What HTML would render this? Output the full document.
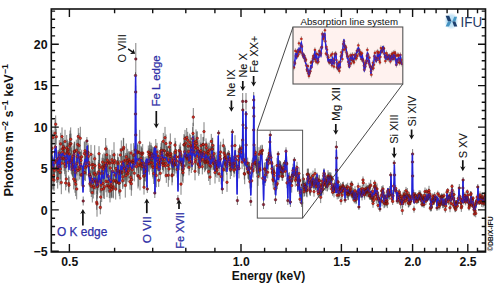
<!DOCTYPE html>
<html><head><meta charset="utf-8"><style>
html,body{margin:0;padding:0;background:#fff;}
svg{display:block;}
.b{font-family:"Liberation Sans",sans-serif;font-weight:bold;fill:#111;}
.r{font-family:"Liberation Sans",sans-serif;}
</style></head><body>
<svg width="500" height="286" viewBox="0 0 500 286">
<defs><clipPath id="plotclip"><rect x="51.3" y="9.0" width="434.2" height="243.0"/></clipPath></defs>
<rect width="500" height="286" fill="#fff"/>
<g clip-path="url(#plotclip)">
<path d="M49.7 161.3V166.9M50.0 144.8V168.3M50.3 164.5V190.2M50.7 163.4V188.1M51.0 154.0V174.4M51.3 148.8V169.7M51.7 140.4V164.5M52.0 134.4V162.1M52.3 154.4V179.9M52.7 169.6V189.5M53.0 130.2V145.1M53.3 157.6V179.8M53.7 161.6V189.5M54.0 169.2V191.0M54.3 159.5V181.6M54.7 150.4V175.0M55.0 120.1V146.3M55.3 136.2V158.0M55.7 115.5V132.8M56.0 148.9V173.0M56.3 128.7V144.7M56.7 154.5V182.9M57.0 150.5V168.7M57.3 157.4V177.4M57.7 168.3V188.6M58.0 158.1V182.3M58.3 149.9V167.3M58.7 153.1V178.0M59.0 157.1V174.5M59.3 140.1V165.8M59.7 148.8V164.9M60.0 159.9V185.2M60.3 158.4V179.3M60.7 132.8V155.0M61.0 148.6V167.9M61.3 170.9V194.2M61.7 152.8V173.7M62.0 127.4V145.8M62.3 135.9V162.0M62.7 142.3V161.6M63.0 148.3V167.9M63.3 138.0V155.8M63.7 141.4V155.6M64.0 146.6V171.1M64.3 144.8V163.3M64.7 153.2V174.2M65.0 129.8V153.3M65.3 156.7V176.0M65.7 175.5V190.4M66.0 145.5V171.4M66.3 170.9V187.0M66.7 135.0V160.9M67.0 145.6V159.9M67.3 139.6V167.2M67.7 143.1V158.7M68.0 141.3V157.5M68.3 153.0V172.1M68.7 175.5V191.8M69.0 177.0V193.4M69.3 140.7V167.4M69.7 133.9V157.4M70.0 130.5V157.2M70.3 153.9V170.8M70.7 127.4V151.3M71.0 133.6V153.9M71.3 147.4V173.9M71.7 150.4V167.8M72.0 159.1V175.1M72.3 155.6V176.2M72.7 161.4V177.4M73.0 145.6V167.2M73.3 151.4V177.6M73.7 168.8V189.4M74.0 143.5V165.5M74.3 141.6V160.9M74.7 141.9V161.8M75.0 169.9V192.8M75.3 161.1V184.1M75.7 172.5V196.1M76.0 155.4V182.5M76.3 139.6V160.8M76.7 178.6V199.4M77.0 151.4V175.5M77.3 145.4V168.1M77.7 135.0V154.1M78.0 160.1V180.7M78.3 128.1V145.0M78.7 142.9V163.0M79.0 132.9V158.4M79.3 157.9V175.9M79.7 158.5V179.5M80.0 149.1V166.9M80.3 126.8V149.8M80.7 152.0V177.0M81.0 151.4V169.5M81.3 163.7V185.8M81.7 149.7V164.2M82.2 165.7V184.2M83.2 181.6V190.4M83.2 196.5V205.5M83.8 163.1V181.7M84.3 141.5V165.5M84.7 165.5V180.1M85.0 141.8V159.8M85.3 154.4V181.0M85.7 152.0V174.3M86.0 141.6V168.1M86.4 157.1V175.5M86.9 137.0V145.0M87.2 145.6V158.4M88.0 143.3V161.7M88.3 145.2V167.5M88.7 150.9V174.4M89.0 154.5V176.6M89.3 163.4V186.4M89.7 164.3V184.4M90.0 175.7V192.0M90.3 169.3V183.6M90.7 170.7V193.5M91.0 144.9V163.8M91.3 175.5V197.0M91.7 156.2V173.5M92.0 170.3V188.5M92.3 182.8V202.5M92.7 160.8V175.3M93.0 153.8V175.3M93.3 173.6V198.5M93.7 170.1V191.8M94.0 180.8V194.7M94.3 163.5V182.6M94.7 145.2V172.4M95.0 155.5V175.8M95.3 163.5V186.0M95.7 173.0V189.6M96.0 173.3V187.1M96.3 171.4V194.5M96.7 194.9V209.8M97.0 191.1V216.7M97.3 174.9V198.5M97.7 177.6V194.6M98.0 176.1V190.5M98.3 161.7V186.0M98.7 160.0V183.7M99.0 146.2V161.1M99.3 154.9V174.8M99.7 154.3V180.7M100.0 169.3V192.7M100.3 200.5V214.3M100.7 184.7V209.5M101.0 177.7V192.5M101.3 165.5V181.4M101.7 176.7V202.0M102.0 157.7V176.4M102.3 162.5V184.0M102.7 154.3V169.9M103.0 171.2V195.7M103.3 158.1V180.3M103.7 179.2V198.4M104.0 152.7V179.1M104.3 174.8V199.0M104.7 158.7V173.1M105.0 153.9V180.7M105.3 154.0V172.1M105.7 138.0V159.8M106.0 170.6V192.3M106.3 156.8V174.5M106.7 145.5V164.1M107.0 174.3V197.2M107.3 147.8V172.3M107.7 154.6V172.0M108.0 172.1V191.4M108.3 165.6V187.1M108.7 179.0V193.1M109.0 149.6V174.4M109.3 176.8V198.1M109.7 154.6V171.8M110.0 179.7V202.4M110.3 155.1V180.9M110.7 169.6V190.5M111.0 174.1V198.3M111.3 170.6V196.7M111.7 181.3V197.9M112.0 149.9V169.7M112.3 154.4V170.7M112.7 159.2V183.3M113.0 177.9V197.5M113.3 174.6V198.4M113.7 172.6V189.2M114.0 142.2V167.5M114.3 152.8V173.3M114.7 152.7V168.7M115.0 167.0V183.0M115.3 171.6V189.9M115.7 178.6V199.6M116.0 160.9V176.3M116.3 174.8V188.8M116.7 174.8V189.6M117.0 160.1V181.9M117.3 159.9V181.2M117.7 153.3V171.3M118.0 156.9V170.7M118.3 157.4V184.0M118.7 172.7V193.6M119.0 165.2V182.1M119.3 170.1V196.1M119.7 160.1V183.7M120.0 182.6V199.3M120.3 148.1V161.9M120.7 165.4V179.9M121.0 164.2V178.2M121.3 140.4V159.9M121.7 149.1V175.0M122.0 161.9V183.2M122.3 156.0V174.6M122.7 172.4V189.1M123.0 166.5V187.3M123.3 137.8V160.0M123.7 138.1V156.7M124.0 148.2V174.3M124.3 155.4V181.8M124.7 159.8V176.5M125.0 161.9V179.9M125.3 173.3V197.6M125.7 153.1V167.0M126.0 164.6V186.4M126.3 143.5V169.9M126.7 161.0V184.3M127.0 154.7V180.4M127.3 152.7V173.7M127.7 148.8V172.1M128.0 165.5V182.1M128.3 163.6V178.4M128.7 151.4V167.7M129.0 156.4V171.5M129.3 151.1V173.7M129.7 153.5V169.3M130.0 173.6V189.7M130.3 155.4V180.9M130.7 169.8V184.8M131.0 143.6V162.6M131.3 171.6V195.8M131.7 169.1V190.4M132.0 150.0V173.8M132.3 160.2V179.5M132.7 154.4V170.4M133.0 153.6V167.3M133.3 154.9V169.8M133.7 143.1V167.4M134.0 158.4V173.3M134.3 165.0V181.4M134.8 146.2V163.3M135.3 145.0V155.0M135.5 108.6V119.4M135.5 72.2V78.8M135.7 85.7V98.3M135.8 43.0V75.0M135.8 128.8V141.2M136.4 158.1V175.2M137.0 155.5V170.5M137.3 143.3V162.3M137.7 144.8V159.0M138.0 163.3V188.5M138.3 165.3V186.5M138.7 157.7V173.0M139.0 144.3V160.2M139.3 152.4V167.6M139.7 129.9V155.1M140.0 166.2V190.4M140.3 152.9V176.8M140.7 156.6V169.9M141.0 145.9V170.7M141.3 146.9V159.7M141.7 156.2V170.5M142.0 148.2V160.7M142.3 159.1V173.9M142.7 144.1V162.0M143.0 156.9V176.4M143.3 156.1V170.2M143.7 165.7V186.9M144.0 179.8V194.6M144.3 165.5V185.3M144.7 162.4V180.9M145.0 156.9V176.8M145.3 160.5V181.5M145.7 160.3V175.0M146.2 156.3V172.6M147.3 185.0V193.0M147.8 155.9V172.2M148.3 145.5V158.4M148.7 150.8V171.6M149.0 148.3V161.0M149.3 152.5V174.7M149.7 141.6V164.0M150.0 144.9V167.9M150.3 149.1V166.8M150.7 155.2V169.4M151.0 142.8V164.8M151.3 145.3V161.7M151.7 148.9V168.1M152.0 154.2V171.6M152.3 146.5V164.7M152.7 155.1V176.9M153.0 156.2V178.6M153.3 147.1V163.7M153.7 163.0V184.0M154.2 147.7V163.7M154.8 188.0V198.0M155.8 139.0V155.0M156.3 163.8V187.3M156.7 158.2V176.1M157.0 142.9V161.3M157.3 153.2V165.4M157.7 156.9V171.1M158.0 149.4V162.6M158.3 155.4V167.8M158.7 173.8V186.9M159.0 162.9V175.1M159.3 155.1V174.3M159.7 150.0V170.4M160.0 156.5V169.7M160.3 167.0V179.6M160.7 146.8V160.2M161.0 143.2V158.5M161.3 150.6V164.1M161.7 141.0V160.1M162.0 142.2V164.5M162.3 148.6V169.6M162.7 156.1V170.0M163.0 157.0V173.7M163.3 132.9V150.0M163.7 154.6V171.4M164.0 138.8V162.1M164.3 151.9V166.8M164.7 143.0V159.0M165.0 126.9V148.5M165.3 154.5V177.5M165.7 157.0V169.6M166.0 134.5V152.7M166.3 167.9V182.9M166.7 145.8V162.8M167.0 145.7V164.1M167.3 148.7V161.5M167.7 146.7V159.0M168.0 158.6V172.3M168.3 163.6V186.8M168.7 150.4V170.0M169.0 157.6V180.2M169.3 140.8V153.2M169.7 146.5V166.6M170.0 146.6V161.9M170.3 133.4V152.9M170.7 148.8V163.8M171.0 142.1V165.5M171.3 154.2V169.7M171.7 153.7V167.2M172.0 166.1V185.3M172.3 167.2V182.4M172.7 155.3V172.9M173.0 156.3V169.8M173.3 156.3V169.8M173.7 150.9V166.3M174.0 157.4V172.4M174.3 153.7V175.8M174.7 151.2V170.5M175.0 137.9V152.3M175.3 142.5V163.0M175.7 141.0V160.3M176.0 155.9V173.5M176.3 149.6V164.2M176.7 151.8V169.9M177.2 161.5V177.5M177.9 195.0V203.0M178.8 149.0V165.0M179.3 144.6V156.7M179.7 153.9V170.1M180.0 146.8V165.5M180.3 142.6V160.5M180.7 146.5V162.0M181.0 173.5V194.8M181.3 151.4V173.8M181.7 153.5V170.7M182.0 156.7V174.0M182.3 154.5V175.3M182.7 158.0V181.6M183.0 162.2V183.1M183.3 160.5V176.7M183.7 155.9V176.0M184.0 134.0V155.9M184.3 135.4V153.6M184.7 141.2V162.3M185.0 129.9V147.6M185.3 143.9V166.9M185.7 136.4V149.9M186.0 146.3V167.5M186.3 146.5V165.6M186.7 128.0V146.9M187.0 148.5V165.5M187.3 149.4V168.7M187.7 131.8V148.3M188.0 135.7V156.4M188.3 151.1V166.6M188.7 143.2V159.8M189.0 159.4V175.3M189.3 153.2V171.2M189.7 133.6V150.9M190.0 149.6V163.3M190.3 147.9V166.8M190.7 134.9V158.0M191.0 137.4V153.3M191.3 149.5V173.0M191.7 140.8V155.2M192.0 145.6V157.7M192.3 157.5V170.0M192.7 127.1V150.2M193.0 122.8V144.0M193.3 108.0V126.2M193.7 133.5V151.7M194.0 144.0V160.3M194.3 139.3V158.4M194.7 135.4V155.5M195.0 162.0V180.3M195.3 153.5V170.3M195.7 150.2V169.0M196.0 129.4V153.0M196.3 138.2V156.1M196.7 131.6V155.5M197.0 148.1V164.2M197.3 131.3V145.4M197.7 140.6V156.4M198.0 155.0V173.1M198.3 144.6V158.0M198.7 153.9V175.8M199.0 139.9V163.8M199.3 160.2V174.1M199.7 151.0V166.5M200.0 150.4V164.6M200.3 154.1V168.3M200.7 142.5V158.7M201.0 133.9V157.8M201.3 144.8V161.7M201.7 143.8V165.3M202.0 147.8V159.8M202.3 158.7V174.4M202.7 149.6V169.6M203.0 137.2V151.6M203.3 136.9V152.1M203.7 145.2V165.0M204.0 122.2V141.1M204.3 144.0V160.9M204.7 151.0V172.2M205.0 156.0V169.3M205.3 152.5V170.8M205.7 148.1V170.0M206.0 138.4V151.1M206.3 141.6V153.8M206.7 148.4V169.0M207.0 144.9V161.2M207.3 154.9V168.1M207.7 151.6V174.4M208.0 142.7V160.1M208.3 145.5V162.1M208.7 162.1V181.0M209.0 150.4V174.0M209.3 142.5V157.5M209.7 159.2V171.8M210.0 169.2V185.0M210.3 146.5V169.3M210.7 156.6V175.9M211.0 146.1V169.7M211.3 133.9V148.8M211.7 146.9V163.5M212.0 141.4V157.1M212.3 137.9V160.4M212.7 137.8V152.7M213.0 156.2V170.3M213.3 145.6V169.3M213.7 154.6V170.1M214.0 144.6V163.0M214.3 152.1V168.7M214.7 157.5V170.9M215.0 161.6V183.5M215.3 157.5V171.8M215.7 161.4V176.8M216.0 151.7V171.7M216.3 155.2V171.3M216.7 160.8V173.9M217.0 162.6V177.9M217.5 159.2V175.2M218.6 130.0V136.0M219.1 165.9V181.9M219.7 151.9V169.2M220.0 144.8V166.8M220.3 150.8V167.0M220.7 141.7V162.3M221.2 168.5V184.4M222.3 184.0V194.0M222.8 161.0V176.8M223.3 138.7V152.9M223.7 158.4V181.4M224.0 144.5V161.6M224.3 151.9V165.1M224.7 146.9V169.1M225.0 145.9V164.5M225.3 147.8V166.6M225.7 157.5V171.6M226.0 154.8V172.4M226.3 153.4V171.3M226.7 158.6V174.7M227.0 172.7V191.9M227.4 151.8V167.1M228.4 150.0V158.0M229.0 153.7V169.0M229.3 151.0V166.9M229.7 153.1V165.5M230.0 156.9V172.0M230.3 160.1V179.0M230.7 157.0V172.5M231.0 154.9V172.0M231.4 161.0V176.0M232.1 140.6V151.4M232.4 129.0V135.0M233.0 156.5V171.5M233.3 156.1V170.8M233.7 159.1V172.8M234.0 163.0V177.3M234.3 157.9V173.6M234.7 152.6V173.6M235.0 135.2V155.9M235.3 150.6V162.0M235.7 149.9V168.5M236.3 161.7V176.4M237.4 196.2V205.0M237.9 159.3V173.9M238.3 148.6V164.0M238.7 151.1V169.1M239.0 158.3V178.4M239.5 144.5V158.8M240.0 146.0V152.0M241.1 145.1V159.5M241.7 140.8V155.3M242.1 155.0V169.2M242.6 135.9V144.1M242.7 93.0V109.8M242.8 103.6V116.4M243.0 120.8V129.2M243.7 152.4V166.6M244.3 167.7V179.5M244.7 164.1V184.2M245.1 153.6V167.5M246.0 93.0V109.8M246.0 124.8V131.2M246.1 110.5V117.5M246.1 141.3V148.7M246.7 156.6V170.6M247.3 163.3V174.1M247.7 157.7V168.5M248.0 165.3V178.7M248.3 164.7V178.9M248.7 163.4V180.2M249.0 161.9V174.0M249.3 164.3V181.9M249.7 162.1V174.9M250.0 175.0V188.6M250.8 196.8V206.0M251.6 174.1V187.6M252.0 159.7V173.3M252.3 163.9V174.0M252.7 157.7V170.6M253.0 164.3V177.6M253.6 101.2V114.4M253.7 92.0V108.0M253.7 125.0V135.0M253.9 109.6V122.8M254.1 140.0V150.0M254.6 156.6V169.9M255.0 149.5V159.9M255.3 157.1V167.4M255.7 146.4V158.7M256.0 154.5V166.4M256.3 154.9V173.7M256.7 156.2V172.8M257.0 160.7V174.3M257.3 164.0V176.5M257.7 158.7V169.3M258.0 167.2V185.9M258.3 159.4V175.8M258.7 156.8V172.6M259.0 147.2V161.2M259.3 162.7V176.4M259.7 160.8V175.4M260.0 161.7V178.6M260.4 145.4V158.1M261.5 151.0V157.0M262.0 144.7V157.4M262.3 145.3V155.2M262.8 172.1V184.6M263.5 200.2V209.0M264.4 162.7V175.2M265.0 174.3V186.0M265.3 162.1V176.4M265.7 167.9V182.2M266.1 165.6V177.9M267.0 157.0V163.0M267.7 166.1V178.4M268.0 154.7V166.1M268.3 157.0V169.8M268.7 154.5V165.4M269.0 148.8V164.2M269.3 147.4V159.4M269.8 151.3V158.7M269.9 136.9V147.1M270.3 131.0V139.0M270.9 151.5V163.5M271.3 154.9V169.8M271.7 156.7V170.1M272.0 162.3V175.2M272.3 166.9V178.4M272.7 163.2V179.8M273.0 173.5V185.3M273.3 172.6V188.6M273.7 166.1V176.4M274.0 168.5V183.1M274.3 165.4V180.9M274.9 183.0V194.6M275.5 195.6V204.0M276.5 179.0V190.5M277.0 157.8V173.5M277.3 177.9V189.2M278.2 151.0V157.0M278.9 170.5V181.8M279.3 160.0V171.5M279.7 161.1V171.3M280.0 162.7V172.8M280.3 160.9V175.2M280.7 161.7V172.7M281.0 165.3V177.6M281.3 164.7V173.6M281.7 167.8V176.2M282.0 171.6V180.6M282.3 163.4V177.6M282.7 171.8V180.9M283.0 165.8V178.0M283.3 163.9V176.5M283.8 162.2V173.1M284.5 160.0V166.0M285.4 165.8V176.7M286.0 147.3V155.4M286.3 156.4V169.5M286.7 156.2V171.6M287.0 177.7V188.2M287.8 196.2V205.0M288.6 172.8V183.3M289.0 176.3V186.1M289.4 172.2V182.6M290.4 197.0V207.0M291.0 175.8V186.2M291.3 176.2V185.0M291.7 178.4V192.6M292.0 172.2V182.2M292.3 168.2V182.3M292.7 167.7V182.5M293.0 163.7V177.6M293.4 169.9V179.9M294.4 157.0V163.0M295.0 168.2V178.3M295.3 173.7V186.7M295.7 167.6V181.2M296.0 173.2V183.0M296.3 165.2V175.3M296.7 166.9V180.4M297.0 161.8V173.4M297.3 170.0V182.0M297.7 177.8V191.7M298.0 177.8V192.0M298.3 176.5V184.9M298.7 175.2V184.7M299.0 167.4V179.6M299.3 176.9V185.4M299.7 176.4V184.2M300.0 195.5V203.0M300.3 186.9V199.2M300.7 186.5V196.0M301.7 199.0V207.0M302.3 180.3V189.8M302.7 181.5V188.7M303.0 181.0V193.8M303.3 174.0V184.1M303.7 179.3V190.1M304.0 186.7V196.8M304.3 178.8V190.6M304.7 183.2V196.1M305.0 183.5V192.6M305.3 181.5V191.7M305.7 182.1V190.5M306.0 185.7V193.3M306.3 179.9V193.8M306.7 183.1V196.5M307.0 183.6V197.3M307.3 168.7V180.0M307.7 172.9V184.6M308.0 168.7V179.9M308.3 168.6V182.1M308.7 177.0V187.3M309.0 172.8V182.1M309.3 173.9V186.9M309.7 182.6V194.2M310.0 185.1V195.1M310.3 186.6V196.0M310.7 181.4V192.3M311.0 172.6V183.4M311.3 178.1V187.7M311.7 175.1V188.1M312.0 175.3V185.9M312.3 179.7V188.2M312.7 179.1V186.6M313.0 170.6V180.7M313.3 175.4V186.0M313.7 181.1V188.7M314.0 186.5V196.7M314.3 178.8V188.4M314.7 177.9V185.2M315.0 168.3V178.8M315.3 178.1V189.7M315.7 176.4V189.8M316.0 177.2V188.8M316.3 181.6V190.9M316.7 177.6V185.4M317.0 172.5V184.3M317.3 175.5V183.1M317.7 182.5V190.7M318.0 186.8V196.0M318.3 189.4V197.5M318.7 181.6V190.2M319.0 174.8V187.3M319.3 175.2V185.9M319.7 182.5V195.2M320.0 178.7V191.0M320.3 188.5V197.3M320.7 191.5V203.1M321.0 188.5V195.9M321.3 182.9V191.9M321.7 184.8V196.0M322.0 177.8V184.6M322.3 181.0V191.1M322.7 178.6V190.4M323.0 183.8V194.7M323.3 179.8V188.0M323.7 169.8V181.7M324.0 168.2V178.4M324.3 170.5V177.7M324.7 171.8V183.4M325.0 178.2V186.6M325.3 179.7V190.6M325.7 174.6V186.6M326.0 178.8V188.7M326.3 175.7V188.2M326.7 177.1V183.6M327.0 181.6V191.2M327.3 179.5V191.4M327.7 176.9V184.4M328.0 170.2V181.8M328.3 172.5V181.9M328.7 173.7V181.0M329.0 177.9V189.7M329.3 172.5V182.6M329.7 177.1V184.8M330.0 172.0V183.9M330.3 173.6V181.0M330.7 174.8V183.4M331.0 172.6V181.3M331.3 179.6V188.0M331.7 184.9V193.2M332.0 183.6V190.0M332.3 175.8V182.3M332.7 188.7V195.8M333.0 186.3V194.2M333.3 183.1V192.4M333.7 183.6V193.0M334.0 185.3V197.4M334.3 182.2V191.8M334.7 179.6V190.5M335.0 182.9V193.0M335.6 184.9V193.0M336.4 141.0V153.0M336.6 164.0V176.0M336.6 151.4V164.6M337.2 191.3V199.4M337.7 176.7V186.6M338.0 176.8V187.7M338.3 183.5V194.8M338.7 191.0V198.9M339.0 186.3V197.0M339.3 187.6V197.4M339.7 184.0V192.1M340.0 184.8V191.2M340.3 186.3V194.4M340.7 182.8V191.7M341.0 196.6V204.8M341.3 186.8V194.9M341.7 188.7V195.5M342.0 190.9V199.6M342.3 184.3V192.9M342.7 182.0V189.0M343.0 183.4V189.8M343.3 181.7V192.0M343.7 185.9V195.1M344.2 185.2V193.1M345.1 197.0V203.0M345.8 184.5V192.4M346.3 184.9V196.2M346.7 183.8V193.2M347.0 188.8V198.1M347.3 186.2V197.9M347.7 182.7V191.1M348.0 189.1V200.1M348.3 188.6V199.8M348.7 189.1V196.6M349.0 188.4V195.2M349.3 189.2V196.7M349.7 187.8V196.0M350.0 187.2V194.2M350.3 182.9V192.5M350.7 185.7V192.7M351.0 187.9V197.2M351.3 180.8V187.1M351.7 190.5V198.3M352.0 181.3V187.9M352.3 187.5V198.4M352.7 190.8V200.4M353.0 190.2V197.9M353.3 188.2V198.3M353.7 189.8V199.5M354.0 192.4V200.2M354.3 197.3V203.3M354.7 191.5V200.9M355.0 186.2V195.4M355.3 194.9V202.2M355.7 191.2V202.3M356.0 195.2V204.2M356.3 194.1V203.4M356.7 190.5V200.4M357.0 189.5V196.1M357.3 191.4V198.0M357.7 188.1V198.5M358.2 182.7V190.3M358.9 204.0V210.0M359.8 188.3V195.9M360.3 189.4V197.5M360.7 185.6V194.4M361.0 188.1V197.6M361.3 187.5V197.4M361.7 190.5V197.6M362.0 190.4V200.4M362.3 184.9V192.4M362.7 189.1V197.3M363.0 176.4V183.6M363.3 179.7V186.1M363.7 188.6V194.3M364.0 184.3V194.3M364.3 190.2V197.9M364.7 189.8V199.7M365.0 188.1V194.3M365.3 189.9V195.9M365.7 186.9V195.4M366.0 183.1V194.0M366.3 185.9V193.5M366.7 186.7V196.4M367.0 186.5V197.3M367.3 184.9V194.9M367.7 186.0V193.0M368.0 187.5V196.6M368.3 185.0V192.5M368.7 187.8V195.2M369.0 182.6V193.2M369.3 192.9V198.8M369.7 190.6V199.7M370.0 183.4V189.3M370.3 191.3V200.0M370.7 179.8V190.6M371.0 191.0V200.0M371.3 190.3V197.3M371.7 193.8V201.7M372.0 192.5V202.3M372.3 193.5V202.6M372.7 187.9V194.6M373.0 199.2V207.8M373.3 192.6V202.9M373.7 196.9V203.9M374.0 192.2V199.2M374.3 183.0V190.3M374.7 179.9V186.2M375.0 183.3V192.5M375.3 181.9V190.5M375.7 183.8V194.1M376.0 191.0V198.4M376.3 194.0V203.7M376.7 187.6V197.8M377.0 183.5V194.4M377.3 189.8V195.9M377.7 190.9V201.7M378.0 202.3V208.5M378.3 193.2V202.7M378.7 194.0V203.1M379.2 196.7V203.9M379.9 206.0V212.0M380.8 196.9V204.1M381.3 192.7V198.6M381.7 186.2V195.5M382.0 196.2V206.3M382.3 190.7V197.3M382.7 186.4V196.0M383.0 185.1V193.1M383.3 189.6V196.2M383.7 193.9V199.3M384.0 197.6V208.2M384.3 194.2V200.2M384.7 199.7V207.6M385.0 194.3V200.6M385.3 194.7V203.7M385.7 197.3V205.2M386.0 200.8V206.7M386.3 191.9V202.0M386.7 198.4V205.5M387.0 195.5V205.5M387.3 199.0V208.1M387.7 188.3V195.0M388.0 187.8V193.4M388.3 190.9V198.3M388.7 190.1V198.3M389.0 190.8V199.7M389.3 190.9V199.6M389.7 186.0V194.8M390.2 190.1V197.1M390.7 172.0V178.0M391.8 195.1V202.1M392.3 190.0V200.3M392.7 197.7V205.0M393.0 192.3V199.2M393.6 182.6V189.5M394.2 160.0V166.0M394.5 169.7V180.3M395.2 186.9V193.8M395.7 184.9V192.1M396.2 187.6V194.4M397.2 198.0V204.0M397.8 193.9V200.8M398.3 196.4V203.5M398.7 189.5V199.8M399.0 194.7V199.9M399.3 188.9V195.3M399.7 190.3V198.5M400.0 195.4V201.5M400.3 199.2V204.8M400.7 198.8V208.6M401.0 193.8V199.1M401.3 197.1V205.4M401.7 196.8V204.7M402.0 198.7V203.7M402.3 206.0V214.9M402.7 199.5V207.6M403.0 191.7V201.8M403.3 194.5V203.3M403.7 198.2V205.1M404.0 191.6V199.3M404.3 190.0V198.1M404.7 192.7V200.9M405.0 192.6V200.4M405.3 195.3V201.7M405.7 196.1V205.6M406.0 186.9V194.6M406.3 192.8V200.2M406.7 191.3V200.9M407.0 193.8V201.4M407.3 188.0V197.0M407.7 192.8V199.0M408.0 195.7V203.0M408.3 199.1V207.3M408.7 198.1V207.4M409.0 192.9V198.1M409.3 191.8V200.8M409.7 200.9V206.4M410.0 197.6V203.1M410.3 198.1V204.8M410.7 197.6V204.8M411.0 194.3V199.7M411.6 195.2V201.8M412.5 157.9V166.1M412.6 149.0V159.0M412.6 171.8V180.2M413.2 191.9V198.4M413.7 189.7V198.0M414.0 205.6V212.7M414.3 192.2V200.8M414.7 198.6V204.2M415.0 194.6V202.0M415.3 192.8V198.8M415.7 192.0V198.7M416.0 195.6V200.5M416.3 195.5V200.6M416.7 198.5V204.2M417.0 194.8V201.2M417.3 193.4V199.4M417.7 195.7V203.6M418.0 193.6V202.6M418.3 194.2V202.9M418.7 195.1V202.9M419.0 190.4V197.4M419.3 192.5V199.1M419.7 191.9V198.7M420.0 190.2V198.1M420.3 194.8V201.5M420.7 191.4V199.0M421.0 195.3V204.8M421.3 194.4V202.6M421.7 194.2V200.6M422.0 202.0V207.2M422.3 197.6V204.9M422.7 194.3V201.5M423.0 202.0V206.9M423.3 194.9V202.5M423.7 195.2V203.9M424.0 201.2V208.0M424.3 192.0V198.9M424.7 196.7V203.8M425.0 187.5V195.5M425.3 193.6V201.9M425.7 194.7V202.7M426.0 197.4V204.8M426.3 196.5V201.8M426.7 188.7V194.5M427.0 196.7V201.9M427.3 196.2V201.4M427.7 195.6V200.6M428.0 192.1V200.0M428.3 194.5V199.5M428.7 188.6V196.6M429.0 185.8V195.3M429.3 192.0V200.6M429.7 193.0V199.3M430.0 190.8V197.9M430.3 205.3V211.3M430.7 201.1V207.0M431.0 202.6V211.4M431.3 203.8V211.1M431.7 197.5V202.4M432.0 197.2V203.3M432.3 199.5V208.2M432.7 193.4V199.3M433.0 196.8V204.0M433.3 198.1V204.5M433.7 193.8V201.2M434.0 198.6V205.0M434.3 195.4V204.4M434.7 192.1V199.4M435.0 194.6V201.8M435.3 195.6V202.2M435.7 195.1V201.0M436.2 195.4V201.6M437.0 205.0V211.0M437.8 190.6V196.9M438.3 199.4V207.8M438.7 198.0V206.4M439.0 202.8V210.2M439.3 192.4V199.1M439.7 199.7V208.4M440.0 201.2V208.8M440.3 199.5V204.4M440.7 196.6V204.0M441.0 194.7V200.2M441.3 197.5V205.8M441.7 193.3V200.3M442.0 193.7V199.6M442.3 194.1V199.7M442.7 199.2V208.1M443.0 200.8V206.3M443.3 200.0V208.2M443.7 197.4V206.4M444.0 192.8V198.6M444.3 198.7V207.4M444.7 199.5V204.3M445.0 198.8V206.6M445.3 206.7V212.6M445.7 203.2V208.8M446.0 199.1V206.2M446.3 197.2V202.5M446.7 195.2V203.6M447.0 189.6V194.8M447.3 195.0V201.3M447.7 188.0V192.8M448.0 194.4V200.0M448.3 198.0V205.0M448.7 196.0V203.9M449.0 194.4V200.9M449.3 192.3V200.6M449.7 194.5V199.6M450.0 203.4V212.2M450.3 192.1V199.0M450.7 195.7V203.6M451.0 199.9V206.6M451.3 194.7V201.4M451.7 188.3V196.8M452.0 184.0V188.9M452.3 187.8V192.9M452.7 190.5V198.9M453.0 201.7V207.2M453.3 195.5V202.8M453.7 193.7V202.5M454.0 190.9V198.3M454.3 204.0V208.7M454.7 198.9V204.5M455.0 204.4V212.2M455.3 204.6V210.4M455.7 207.1V211.9M456.0 200.1V207.0M456.3 200.3V208.4M456.7 200.0V204.6M457.0 199.8V206.6M457.3 203.6V208.7M457.7 199.5V206.6M458.2 195.5V201.5M459.3 184.0V192.0M459.8 193.6V199.6M460.3 196.0V203.4M460.7 200.2V205.3M461.0 200.1V206.1M461.3 203.7V211.9M461.7 203.7V208.8M462.2 196.1V202.0M462.9 181.1V194.9M463.1 177.0V183.0M463.8 198.6V204.5M464.3 193.6V198.4M464.7 195.0V201.6M465.0 192.0V198.8M465.3 197.9V203.0M465.7 198.7V205.4M466.0 196.5V201.8M466.3 196.7V202.9M466.7 195.8V201.2M467.0 193.5V201.7M467.3 189.5V193.9M467.7 194.4V203.0M468.0 191.8V198.7M468.3 197.8V205.2M468.7 200.3V205.4M469.0 205.1V210.6M469.3 202.7V209.3M469.7 201.0V206.7M470.0 200.8V207.7M470.3 197.6V203.0M470.7 191.0V198.4M471.0 191.3V195.9M471.3 194.6V203.2M471.7 202.7V207.2M472.0 196.7V204.6M472.3 197.1V202.9M472.7 198.9V207.2M473.0 196.0V200.4M473.3 203.4V209.5M473.7 203.3V208.1M474.0 206.1V213.4M474.3 211.5V216.5M474.7 206.2V211.4M475.0 208.2V213.5M475.3 200.4V209.0M475.7 209.6V217.3M476.0 198.6V206.3M476.3 199.6V207.8M476.7 198.5V203.6M477.2 194.2V199.9M477.8 184.0V190.0M478.8 199.2V205.0M479.3 193.7V200.6M479.7 200.3V205.0M480.0 191.3V198.7M480.3 193.9V202.3M480.7 197.0V204.1M481.0 195.5V203.3M481.3 193.8V202.0M481.7 199.1V206.9M482.0 192.9V200.6M482.3 193.7V201.5M482.7 195.5V203.1M483.0 199.0V207.4M483.3 196.3V202.8M483.7 197.8V206.2M484.0 196.0V203.6M484.3 196.6V201.8M484.7 200.8V205.9M485.0 192.2V198.5M485.3 193.6V201.7M485.7 192.5V198.4M486.0 189.4V196.9M486.3 194.0V202.2" stroke="#3c3c3c" stroke-width="0.65" fill="none"/>
<path d="M50.00 166.3 L51.00 170.1 L52.00 156.3 L53.00 168.4 L54.00 163.4 L55.00 149.2 L56.00 146.4 L57.00 162.0 L58.00 169.2 L59.00 153.1 L60.00 167.7 L61.00 154.0 L62.00 155.1 L63.00 153.0 L64.00 155.7 L65.00 155.6 L66.00 167.7 L67.00 154.0 L68.00 156.2 L69.00 169.4 L70.00 155.7 L71.00 161.1 L72.00 169.9 L73.00 168.9 L74.00 153.6 L75.00 177.3 L76.00 166.4 L77.00 161.2 L78.00 152.7 L79.00 157.4 L80.00 167.4 L81.00 164.8 L82.50 166.7 L82.80 185.7 L82.95 192.0 L83.05 192.0 L83.20 184.4 L83.50 166.7 L85.00 159.2 L86.00 164.7 L86.70 159.5 L87.00 149.4 L87.15 146.0 L87.25 146.0 L87.40 150.1 L87.70 159.5 L89.00 175.1 L90.00 183.5 L91.00 176.3 L92.00 182.8 L93.00 182.6 L94.00 178.3 L95.00 178.4 L96.00 179.2 L97.00 186.2 L98.00 184.0 L99.00 172.3 L100.00 181.6 L101.00 183.8 L102.00 170.4 L103.00 178.0 L104.00 178.5 L105.00 170.5 L106.00 163.7 L107.00 177.1 L108.00 174.4 L109.00 180.0 L110.00 181.0 L111.00 183.0 L112.00 170.7 L113.00 172.2 L114.00 172.1 L115.00 173.2 L116.00 177.7 L117.00 171.2 L118.00 165.6 L119.00 181.4 L120.00 181.2 L121.00 165.8 L122.00 169.8 L123.00 161.5 L124.00 166.2 L125.00 168.5 L126.00 172.3 L127.00 165.9 L128.00 167.7 L129.00 163.4 L130.00 162.3 L131.00 166.5 L132.00 169.4 L133.00 163.9 L134.00 166.7 L135.10 163.7 L135.40 97.9 L135.55 76.0 L135.65 76.0 L135.80 102.3 L136.10 163.7 L137.00 159.0 L138.00 159.6 L139.00 159.0 L140.00 159.3 L141.00 159.3 L142.00 161.4 L143.00 161.8 L144.00 174.7 L145.00 167.7 L146.50 159.1 L146.80 180.0 L146.95 187.0 L147.05 187.0 L147.20 178.6 L147.50 159.1 L149.00 162.6 L150.00 157.8 L151.00 158.2 L152.00 153.5 L153.00 158.9 L154.50 147.8 L154.80 181.7 L154.95 193.0 L155.05 193.0 L155.20 179.4 L155.50 147.8 L157.00 161.6 L158.00 157.1 L159.00 170.6 L160.00 167.5 L161.00 159.9 L162.00 151.0 L163.00 157.1 L164.00 158.4 L165.00 157.6 L166.00 157.3 L167.00 159.8 L168.00 161.7 L169.00 163.2 L170.00 158.9 L171.00 161.8 L172.00 165.4 L173.00 167.2 L174.00 157.4 L175.00 155.0 L176.00 162.4 L177.50 167.8 L177.80 185.2 L177.95 191.0 L178.05 191.0 L178.20 184.0 L178.50 167.8 L180.00 152.5 L181.00 162.4 L182.00 158.4 L183.00 169.3 L184.00 155.8 L185.00 151.1 L186.00 156.4 L187.00 156.8 L188.00 154.0 L189.00 161.3 L190.00 153.9 L191.00 146.9 L192.00 166.3 L193.00 136.9 L194.00 155.1 L195.00 156.7 L196.00 154.8 L197.00 152.4 L198.00 150.3 L199.00 158.8 L200.00 166.2 L201.00 153.1 L202.00 157.7 L203.00 152.5 L204.00 156.2 L205.00 159.7 L206.00 154.8 L207.00 159.4 L208.00 157.2 L209.00 157.0 L210.00 164.1 L211.00 163.6 L212.00 150.3 L213.00 162.0 L214.00 157.1 L215.00 171.0 L216.00 161.5 L217.00 160.9 L217.80 167.6 L218.10 143.9 L218.25 136.0 L218.35 136.0 L218.50 145.5 L218.80 167.6 L220.00 159.1 L221.50 167.1 L221.80 183.5 L221.95 189.0 L222.05 189.0 L222.20 182.4 L222.50 167.1 L224.00 157.9 L225.00 160.2 L226.00 161.3 L227.00 171.4 L227.70 161.4 L228.00 157.3 L228.15 156.0 L228.25 156.0 L228.40 157.6 L228.70 161.4 L230.00 159.2 L231.00 158.6 L231.70 168.3 L232.00 142.6 L232.15 134.0 L232.25 134.0 L232.40 144.3 L232.70 168.3 L234.00 163.9 L235.00 150.7 L236.60 165.3 L236.90 186.8 L237.05 194.0 L237.15 194.0 L237.30 185.4 L237.60 165.3 L239.00 169.6 L239.80 155.9 L240.10 151.5 L240.25 150.0 L240.35 150.0 L240.50 151.8 L240.80 155.9 L242.40 161.0 L242.70 123.5 L242.85 111.0 L242.95 111.0 L243.10 126.0 L243.40 161.0 L245.40 165.1 L245.70 125.3 L245.85 112.0 L245.95 112.0 L246.10 127.9 L246.40 165.1 L248.00 170.5 L249.00 167.0 L250.30 178.3 L250.60 190.8 L250.75 195.0 L250.85 195.0 L251.00 190.0 L251.30 178.3 L252.00 172.4 L253.30 160.6 L253.60 112.2 L253.75 96.0 L253.85 96.0 L254.00 115.4 L254.30 160.6 L255.00 160.8 L256.00 155.0 L257.00 169.2 L258.00 172.6 L259.00 161.6 L260.00 168.3 L260.70 154.7 L261.00 155.7 L261.15 156.0 L261.25 156.0 L261.40 155.6 L261.70 154.7 L263.10 176.4 L263.40 194.1 L263.55 200.0 L263.65 200.0 L263.80 192.9 L264.10 176.4 L265.00 182.2 L266.40 168.5 L266.70 162.9 L266.85 161.0 L266.95 161.0 L267.10 163.2 L267.40 168.5 L268.00 161.5 L269.00 157.3 L269.60 153.6 L269.90 141.1 L270.05 137.0 L270.15 137.0 L270.30 142.0 L270.60 153.6 L272.00 165.9 L273.00 176.4 L274.00 177.7 L275.20 182.4 L275.50 191.9 L275.65 195.0 L275.75 195.0 L275.90 191.2 L276.20 182.4 L277.00 168.0 L277.60 179.4 L277.90 161.8 L278.05 156.0 L278.15 156.0 L278.30 163.0 L278.60 179.4 L280.00 165.0 L281.00 170.9 L282.00 170.0 L283.00 172.5 L284.10 170.0 L284.40 165.5 L284.55 164.0 L284.65 164.0 L284.80 165.8 L285.10 170.0 L286.00 150.4 L287.30 175.4 L287.60 192.3 L287.75 198.0 L287.85 198.0 L288.00 191.2 L288.30 175.4 L289.00 182.8 L289.70 181.8 L290.00 198.3 L290.15 203.8 L290.25 203.8 L290.40 197.2 L290.70 181.8 L292.00 176.1 L293.00 167.6 L293.70 175.1 L294.00 164.5 L294.15 161.0 L294.25 161.0 L294.40 165.2 L294.70 175.1 L296.00 176.1 L297.00 167.5 L298.00 189.9 L299.00 174.8 L300.00 196.0 L301.00 189.4 L301.30 199.6 L301.45 203.0 L301.55 203.0 L301.70 198.9 L302.00 189.4 L303.00 183.7 L304.00 186.8 L305.00 186.3 L306.00 190.7 L307.00 184.3 L308.00 175.4 L309.00 179.2 L310.00 189.7 L311.00 181.6 L312.00 179.2 L313.00 178.1 L314.00 187.3 L315.00 179.8 L316.00 184.7 L317.00 174.3 L318.00 192.5 L319.00 182.0 L320.00 187.9 L321.00 194.8 L322.00 189.1 L323.00 183.6 L324.00 170.0 L325.00 180.8 L326.00 182.5 L327.00 187.4 L328.00 176.8 L329.00 182.0 L330.00 176.6 L331.00 181.1 L332.00 186.6 L333.00 191.5 L334.00 187.2 L335.00 184.1 L335.90 192.6 L336.20 160.7 L336.35 150.0 L336.45 150.0 L336.60 162.8 L336.90 192.6 L338.00 184.0 L339.00 193.5 L340.00 191.2 L341.00 191.8 L342.00 188.6 L343.00 187.8 L344.50 188.4 L344.80 195.6 L344.95 198.0 L345.05 198.0 L345.20 195.1 L345.50 188.4 L347.00 191.6 L348.00 190.0 L349.00 191.8 L350.00 193.0 L351.00 193.4 L352.00 191.1 L353.00 192.0 L354.00 199.1 L355.00 192.8 L356.00 199.6 L357.00 193.5 L358.50 188.9 L358.80 201.0 L358.95 205.0 L359.05 205.0 L359.20 200.2 L359.50 188.9 L361.00 194.0 L362.00 196.8 L363.00 189.4 L364.00 194.2 L365.00 191.4 L366.00 190.6 L367.00 190.2 L368.00 188.1 L369.00 191.5 L370.00 191.8 L371.00 191.5 L372.00 197.1 L373.00 193.2 L374.00 195.6 L375.00 187.3 L376.00 193.0 L377.00 190.5 L378.00 198.1 L379.50 202.0 L379.80 205.8 L379.95 207.0 L380.05 207.0 L380.20 205.5 L380.50 202.0 L382.00 195.1 L383.00 189.4 L384.00 202.3 L385.00 195.2 L386.00 199.5 L387.00 198.6 L388.00 188.6 L389.00 195.5 L390.50 193.1 L390.80 180.3 L390.95 176.0 L391.05 176.0 L391.20 181.1 L391.50 193.1 L393.00 199.4 L393.90 187.7 L394.20 170.7 L394.35 165.0 L394.45 165.0 L394.60 171.8 L394.90 187.7 L396.50 192.5 L396.80 198.1 L396.95 200.0 L397.05 200.0 L397.20 197.8 L397.50 192.5 L399.00 196.4 L400.00 200.1 L401.00 201.0 L402.00 204.5 L403.00 199.7 L404.00 196.2 L405.00 198.9 L406.00 195.6 L407.00 195.9 L408.00 196.7 L409.00 201.2 L410.00 199.0 L411.00 200.5 L411.90 197.7 L412.20 164.9 L412.35 154.0 L412.45 154.0 L412.60 167.1 L412.90 197.7 L414.00 202.9 L415.00 199.5 L416.00 196.1 L417.00 198.5 L418.00 199.2 L419.00 194.5 L420.00 196.6 L421.00 198.3 L422.00 201.5 L423.00 200.4 L424.00 203.8 L425.00 196.9 L426.00 200.6 L427.00 194.5 L428.00 199.8 L429.00 193.9 L430.00 195.5 L431.00 207.8 L432.00 200.5 L433.00 200.1 L434.00 201.1 L435.00 195.8 L436.50 197.3 L436.80 203.8 L436.95 206.0 L437.05 206.0 L437.20 203.4 L437.50 197.3 L439.00 202.2 L440.00 202.2 L441.00 198.3 L442.00 198.6 L443.00 204.9 L444.00 199.3 L445.00 204.2 L446.00 204.8 L447.00 193.5 L448.00 200.1 L449.00 195.9 L450.00 199.5 L451.00 200.7 L452.00 189.3 L453.00 198.6 L454.00 198.4 L455.00 205.7 L456.00 204.7 L457.00 205.0 L458.50 199.2 L458.80 191.5 L458.95 189.0 L459.05 189.0 L459.20 192.0 L459.50 199.2 L461.00 199.9 L462.50 202.5 L462.80 186.4 L462.95 181.0 L463.05 181.0 L463.20 187.4 L463.50 202.5 L465.00 196.4 L466.00 201.8 L467.00 196.2 L468.00 200.1 L469.00 203.3 L470.00 203.3 L471.00 196.3 L472.00 203.7 L473.00 201.0 L474.00 209.6 L475.00 209.6 L476.00 205.6 L477.50 200.5 L477.80 191.1 L477.95 188.0 L478.05 188.0 L478.20 191.8 L478.50 200.5 L480.00 198.9 L481.00 199.4 L482.00 199.3 L483.00 201.6 L484.00 200.3 L485.00 197.2 L486.00 197.0" stroke="#2222d8" stroke-width="1.4" fill="none" stroke-linejoin="round"/>
<path d="M48.4 164.1a1.3 1.3 0 1 0 2.6 0a1.3 1.3 0 1 0 -2.6 0M48.7 156.5a1.3 1.3 0 1 0 2.6 0a1.3 1.3 0 1 0 -2.6 0M49.0 177.4a1.3 1.3 0 1 0 2.6 0a1.3 1.3 0 1 0 -2.6 0M49.4 175.8a1.3 1.3 0 1 0 2.6 0a1.3 1.3 0 1 0 -2.6 0M49.7 164.2a1.3 1.3 0 1 0 2.6 0a1.3 1.3 0 1 0 -2.6 0M50.0 159.2a1.3 1.3 0 1 0 2.6 0a1.3 1.3 0 1 0 -2.6 0M50.4 152.5a1.3 1.3 0 1 0 2.6 0a1.3 1.3 0 1 0 -2.6 0M50.7 148.3a1.3 1.3 0 1 0 2.6 0a1.3 1.3 0 1 0 -2.6 0M51.0 167.1a1.3 1.3 0 1 0 2.6 0a1.3 1.3 0 1 0 -2.6 0M51.4 179.5a1.3 1.3 0 1 0 2.6 0a1.3 1.3 0 1 0 -2.6 0M51.7 137.6a1.3 1.3 0 1 0 2.6 0a1.3 1.3 0 1 0 -2.6 0M52.0 168.7a1.3 1.3 0 1 0 2.6 0a1.3 1.3 0 1 0 -2.6 0M52.4 175.6a1.3 1.3 0 1 0 2.6 0a1.3 1.3 0 1 0 -2.6 0M52.7 180.1a1.3 1.3 0 1 0 2.6 0a1.3 1.3 0 1 0 -2.6 0M53.0 170.6a1.3 1.3 0 1 0 2.6 0a1.3 1.3 0 1 0 -2.6 0M53.4 162.7a1.3 1.3 0 1 0 2.6 0a1.3 1.3 0 1 0 -2.6 0M53.7 133.2a1.3 1.3 0 1 0 2.6 0a1.3 1.3 0 1 0 -2.6 0M54.0 147.1a1.3 1.3 0 1 0 2.6 0a1.3 1.3 0 1 0 -2.6 0M54.4 124.2a1.3 1.3 0 1 0 2.6 0a1.3 1.3 0 1 0 -2.6 0M54.7 161.0a1.3 1.3 0 1 0 2.6 0a1.3 1.3 0 1 0 -2.6 0M55.0 136.7a1.3 1.3 0 1 0 2.6 0a1.3 1.3 0 1 0 -2.6 0M55.4 168.7a1.3 1.3 0 1 0 2.6 0a1.3 1.3 0 1 0 -2.6 0M55.7 159.6a1.3 1.3 0 1 0 2.6 0a1.3 1.3 0 1 0 -2.6 0M56.0 167.4a1.3 1.3 0 1 0 2.6 0a1.3 1.3 0 1 0 -2.6 0M56.4 178.4a1.3 1.3 0 1 0 2.6 0a1.3 1.3 0 1 0 -2.6 0M56.7 170.2a1.3 1.3 0 1 0 2.6 0a1.3 1.3 0 1 0 -2.6 0M57.0 158.6a1.3 1.3 0 1 0 2.6 0a1.3 1.3 0 1 0 -2.6 0M57.4 165.5a1.3 1.3 0 1 0 2.6 0a1.3 1.3 0 1 0 -2.6 0M57.7 165.8a1.3 1.3 0 1 0 2.6 0a1.3 1.3 0 1 0 -2.6 0M58.0 153.0a1.3 1.3 0 1 0 2.6 0a1.3 1.3 0 1 0 -2.6 0M58.4 156.9a1.3 1.3 0 1 0 2.6 0a1.3 1.3 0 1 0 -2.6 0M58.7 172.5a1.3 1.3 0 1 0 2.6 0a1.3 1.3 0 1 0 -2.6 0M59.0 168.9a1.3 1.3 0 1 0 2.6 0a1.3 1.3 0 1 0 -2.6 0M59.4 143.9a1.3 1.3 0 1 0 2.6 0a1.3 1.3 0 1 0 -2.6 0M59.7 158.3a1.3 1.3 0 1 0 2.6 0a1.3 1.3 0 1 0 -2.6 0M60.0 182.5a1.3 1.3 0 1 0 2.6 0a1.3 1.3 0 1 0 -2.6 0M60.4 163.2a1.3 1.3 0 1 0 2.6 0a1.3 1.3 0 1 0 -2.6 0M60.7 136.6a1.3 1.3 0 1 0 2.6 0a1.3 1.3 0 1 0 -2.6 0M61.0 148.9a1.3 1.3 0 1 0 2.6 0a1.3 1.3 0 1 0 -2.6 0M61.4 152.0a1.3 1.3 0 1 0 2.6 0a1.3 1.3 0 1 0 -2.6 0M61.7 158.1a1.3 1.3 0 1 0 2.6 0a1.3 1.3 0 1 0 -2.6 0M62.0 146.9a1.3 1.3 0 1 0 2.6 0a1.3 1.3 0 1 0 -2.6 0M62.4 148.5a1.3 1.3 0 1 0 2.6 0a1.3 1.3 0 1 0 -2.6 0M62.7 158.9a1.3 1.3 0 1 0 2.6 0a1.3 1.3 0 1 0 -2.6 0M63.0 154.1a1.3 1.3 0 1 0 2.6 0a1.3 1.3 0 1 0 -2.6 0M63.4 163.7a1.3 1.3 0 1 0 2.6 0a1.3 1.3 0 1 0 -2.6 0M63.7 141.5a1.3 1.3 0 1 0 2.6 0a1.3 1.3 0 1 0 -2.6 0M64.0 166.4a1.3 1.3 0 1 0 2.6 0a1.3 1.3 0 1 0 -2.6 0M64.4 183.0a1.3 1.3 0 1 0 2.6 0a1.3 1.3 0 1 0 -2.6 0M64.7 158.4a1.3 1.3 0 1 0 2.6 0a1.3 1.3 0 1 0 -2.6 0M65.0 179.0a1.3 1.3 0 1 0 2.6 0a1.3 1.3 0 1 0 -2.6 0M65.4 148.0a1.3 1.3 0 1 0 2.6 0a1.3 1.3 0 1 0 -2.6 0M65.7 152.8a1.3 1.3 0 1 0 2.6 0a1.3 1.3 0 1 0 -2.6 0M66.0 153.4a1.3 1.3 0 1 0 2.6 0a1.3 1.3 0 1 0 -2.6 0M66.4 150.9a1.3 1.3 0 1 0 2.6 0a1.3 1.3 0 1 0 -2.6 0M66.7 149.4a1.3 1.3 0 1 0 2.6 0a1.3 1.3 0 1 0 -2.6 0M67.0 162.5a1.3 1.3 0 1 0 2.6 0a1.3 1.3 0 1 0 -2.6 0M67.4 183.6a1.3 1.3 0 1 0 2.6 0a1.3 1.3 0 1 0 -2.6 0M67.7 185.2a1.3 1.3 0 1 0 2.6 0a1.3 1.3 0 1 0 -2.6 0M68.0 154.0a1.3 1.3 0 1 0 2.6 0a1.3 1.3 0 1 0 -2.6 0M68.4 145.7a1.3 1.3 0 1 0 2.6 0a1.3 1.3 0 1 0 -2.6 0M68.7 143.9a1.3 1.3 0 1 0 2.6 0a1.3 1.3 0 1 0 -2.6 0M69.0 162.3a1.3 1.3 0 1 0 2.6 0a1.3 1.3 0 1 0 -2.6 0M69.4 139.3a1.3 1.3 0 1 0 2.6 0a1.3 1.3 0 1 0 -2.6 0M69.7 143.7a1.3 1.3 0 1 0 2.6 0a1.3 1.3 0 1 0 -2.6 0M70.0 160.6a1.3 1.3 0 1 0 2.6 0a1.3 1.3 0 1 0 -2.6 0M70.4 159.1a1.3 1.3 0 1 0 2.6 0a1.3 1.3 0 1 0 -2.6 0M70.7 167.1a1.3 1.3 0 1 0 2.6 0a1.3 1.3 0 1 0 -2.6 0M71.0 165.9a1.3 1.3 0 1 0 2.6 0a1.3 1.3 0 1 0 -2.6 0M71.4 169.4a1.3 1.3 0 1 0 2.6 0a1.3 1.3 0 1 0 -2.6 0M71.7 156.4a1.3 1.3 0 1 0 2.6 0a1.3 1.3 0 1 0 -2.6 0M72.0 164.5a1.3 1.3 0 1 0 2.6 0a1.3 1.3 0 1 0 -2.6 0M72.4 179.1a1.3 1.3 0 1 0 2.6 0a1.3 1.3 0 1 0 -2.6 0M72.7 154.5a1.3 1.3 0 1 0 2.6 0a1.3 1.3 0 1 0 -2.6 0M73.0 151.2a1.3 1.3 0 1 0 2.6 0a1.3 1.3 0 1 0 -2.6 0M73.4 151.9a1.3 1.3 0 1 0 2.6 0a1.3 1.3 0 1 0 -2.6 0M73.7 181.3a1.3 1.3 0 1 0 2.6 0a1.3 1.3 0 1 0 -2.6 0M74.0 172.6a1.3 1.3 0 1 0 2.6 0a1.3 1.3 0 1 0 -2.6 0M74.4 184.3a1.3 1.3 0 1 0 2.6 0a1.3 1.3 0 1 0 -2.6 0M74.7 169.0a1.3 1.3 0 1 0 2.6 0a1.3 1.3 0 1 0 -2.6 0M75.0 150.2a1.3 1.3 0 1 0 2.6 0a1.3 1.3 0 1 0 -2.6 0M75.4 189.0a1.3 1.3 0 1 0 2.6 0a1.3 1.3 0 1 0 -2.6 0M75.7 163.4a1.3 1.3 0 1 0 2.6 0a1.3 1.3 0 1 0 -2.6 0M76.0 156.7a1.3 1.3 0 1 0 2.6 0a1.3 1.3 0 1 0 -2.6 0M76.4 144.5a1.3 1.3 0 1 0 2.6 0a1.3 1.3 0 1 0 -2.6 0M76.7 170.4a1.3 1.3 0 1 0 2.6 0a1.3 1.3 0 1 0 -2.6 0M77.0 136.5a1.3 1.3 0 1 0 2.6 0a1.3 1.3 0 1 0 -2.6 0M77.4 152.9a1.3 1.3 0 1 0 2.6 0a1.3 1.3 0 1 0 -2.6 0M77.7 145.6a1.3 1.3 0 1 0 2.6 0a1.3 1.3 0 1 0 -2.6 0M78.0 166.9a1.3 1.3 0 1 0 2.6 0a1.3 1.3 0 1 0 -2.6 0M78.4 169.0a1.3 1.3 0 1 0 2.6 0a1.3 1.3 0 1 0 -2.6 0M78.7 158.0a1.3 1.3 0 1 0 2.6 0a1.3 1.3 0 1 0 -2.6 0M79.0 138.3a1.3 1.3 0 1 0 2.6 0a1.3 1.3 0 1 0 -2.6 0M79.4 164.5a1.3 1.3 0 1 0 2.6 0a1.3 1.3 0 1 0 -2.6 0M79.7 160.4a1.3 1.3 0 1 0 2.6 0a1.3 1.3 0 1 0 -2.6 0M80.0 174.8a1.3 1.3 0 1 0 2.6 0a1.3 1.3 0 1 0 -2.6 0M80.4 156.9a1.3 1.3 0 1 0 2.6 0a1.3 1.3 0 1 0 -2.6 0M80.9 174.9a1.3 1.3 0 1 0 2.6 0a1.3 1.3 0 1 0 -2.6 0M82.5 172.4a1.3 1.3 0 1 0 2.6 0a1.3 1.3 0 1 0 -2.6 0M83.0 153.5a1.3 1.3 0 1 0 2.6 0a1.3 1.3 0 1 0 -2.6 0M83.4 172.8a1.3 1.3 0 1 0 2.6 0a1.3 1.3 0 1 0 -2.6 0M83.7 150.8a1.3 1.3 0 1 0 2.6 0a1.3 1.3 0 1 0 -2.6 0M84.0 167.7a1.3 1.3 0 1 0 2.6 0a1.3 1.3 0 1 0 -2.6 0M84.4 163.1a1.3 1.3 0 1 0 2.6 0a1.3 1.3 0 1 0 -2.6 0M84.7 154.9a1.3 1.3 0 1 0 2.6 0a1.3 1.3 0 1 0 -2.6 0M85.1 166.3a1.3 1.3 0 1 0 2.6 0a1.3 1.3 0 1 0 -2.6 0M86.7 152.5a1.3 1.3 0 1 0 2.6 0a1.3 1.3 0 1 0 -2.6 0M87.0 156.4a1.3 1.3 0 1 0 2.6 0a1.3 1.3 0 1 0 -2.6 0M87.4 162.6a1.3 1.3 0 1 0 2.6 0a1.3 1.3 0 1 0 -2.6 0M87.7 165.6a1.3 1.3 0 1 0 2.6 0a1.3 1.3 0 1 0 -2.6 0M88.0 174.9a1.3 1.3 0 1 0 2.6 0a1.3 1.3 0 1 0 -2.6 0M88.4 174.4a1.3 1.3 0 1 0 2.6 0a1.3 1.3 0 1 0 -2.6 0M88.7 183.8a1.3 1.3 0 1 0 2.6 0a1.3 1.3 0 1 0 -2.6 0M89.0 176.5a1.3 1.3 0 1 0 2.6 0a1.3 1.3 0 1 0 -2.6 0M89.4 182.1a1.3 1.3 0 1 0 2.6 0a1.3 1.3 0 1 0 -2.6 0M89.7 154.4a1.3 1.3 0 1 0 2.6 0a1.3 1.3 0 1 0 -2.6 0M90.0 186.2a1.3 1.3 0 1 0 2.6 0a1.3 1.3 0 1 0 -2.6 0M90.4 164.8a1.3 1.3 0 1 0 2.6 0a1.3 1.3 0 1 0 -2.6 0M90.7 179.4a1.3 1.3 0 1 0 2.6 0a1.3 1.3 0 1 0 -2.6 0M91.0 192.6a1.3 1.3 0 1 0 2.6 0a1.3 1.3 0 1 0 -2.6 0M91.4 168.1a1.3 1.3 0 1 0 2.6 0a1.3 1.3 0 1 0 -2.6 0M91.7 164.6a1.3 1.3 0 1 0 2.6 0a1.3 1.3 0 1 0 -2.6 0M92.0 186.0a1.3 1.3 0 1 0 2.6 0a1.3 1.3 0 1 0 -2.6 0M92.4 181.0a1.3 1.3 0 1 0 2.6 0a1.3 1.3 0 1 0 -2.6 0M92.7 187.7a1.3 1.3 0 1 0 2.6 0a1.3 1.3 0 1 0 -2.6 0M93.0 173.1a1.3 1.3 0 1 0 2.6 0a1.3 1.3 0 1 0 -2.6 0M93.4 158.8a1.3 1.3 0 1 0 2.6 0a1.3 1.3 0 1 0 -2.6 0M93.7 165.7a1.3 1.3 0 1 0 2.6 0a1.3 1.3 0 1 0 -2.6 0M94.0 174.7a1.3 1.3 0 1 0 2.6 0a1.3 1.3 0 1 0 -2.6 0M94.4 181.3a1.3 1.3 0 1 0 2.6 0a1.3 1.3 0 1 0 -2.6 0M94.7 180.2a1.3 1.3 0 1 0 2.6 0a1.3 1.3 0 1 0 -2.6 0M95.0 182.9a1.3 1.3 0 1 0 2.6 0a1.3 1.3 0 1 0 -2.6 0M95.4 202.3a1.3 1.3 0 1 0 2.6 0a1.3 1.3 0 1 0 -2.6 0M95.7 203.9a1.3 1.3 0 1 0 2.6 0a1.3 1.3 0 1 0 -2.6 0M96.0 186.7a1.3 1.3 0 1 0 2.6 0a1.3 1.3 0 1 0 -2.6 0M96.4 186.1a1.3 1.3 0 1 0 2.6 0a1.3 1.3 0 1 0 -2.6 0M96.7 183.3a1.3 1.3 0 1 0 2.6 0a1.3 1.3 0 1 0 -2.6 0M97.0 173.8a1.3 1.3 0 1 0 2.6 0a1.3 1.3 0 1 0 -2.6 0M97.4 171.9a1.3 1.3 0 1 0 2.6 0a1.3 1.3 0 1 0 -2.6 0M97.7 153.7a1.3 1.3 0 1 0 2.6 0a1.3 1.3 0 1 0 -2.6 0M98.0 164.9a1.3 1.3 0 1 0 2.6 0a1.3 1.3 0 1 0 -2.6 0M98.4 167.5a1.3 1.3 0 1 0 2.6 0a1.3 1.3 0 1 0 -2.6 0M98.7 181.0a1.3 1.3 0 1 0 2.6 0a1.3 1.3 0 1 0 -2.6 0M99.0 207.4a1.3 1.3 0 1 0 2.6 0a1.3 1.3 0 1 0 -2.6 0M99.4 197.1a1.3 1.3 0 1 0 2.6 0a1.3 1.3 0 1 0 -2.6 0M99.7 185.1a1.3 1.3 0 1 0 2.6 0a1.3 1.3 0 1 0 -2.6 0M100.0 173.5a1.3 1.3 0 1 0 2.6 0a1.3 1.3 0 1 0 -2.6 0M100.4 189.4a1.3 1.3 0 1 0 2.6 0a1.3 1.3 0 1 0 -2.6 0M100.7 167.0a1.3 1.3 0 1 0 2.6 0a1.3 1.3 0 1 0 -2.6 0M101.0 173.2a1.3 1.3 0 1 0 2.6 0a1.3 1.3 0 1 0 -2.6 0M101.4 162.1a1.3 1.3 0 1 0 2.6 0a1.3 1.3 0 1 0 -2.6 0M101.7 183.4a1.3 1.3 0 1 0 2.6 0a1.3 1.3 0 1 0 -2.6 0M102.0 169.2a1.3 1.3 0 1 0 2.6 0a1.3 1.3 0 1 0 -2.6 0M102.4 188.8a1.3 1.3 0 1 0 2.6 0a1.3 1.3 0 1 0 -2.6 0M102.7 165.9a1.3 1.3 0 1 0 2.6 0a1.3 1.3 0 1 0 -2.6 0M103.0 186.9a1.3 1.3 0 1 0 2.6 0a1.3 1.3 0 1 0 -2.6 0M103.4 165.9a1.3 1.3 0 1 0 2.6 0a1.3 1.3 0 1 0 -2.6 0M103.7 167.3a1.3 1.3 0 1 0 2.6 0a1.3 1.3 0 1 0 -2.6 0M104.0 163.1a1.3 1.3 0 1 0 2.6 0a1.3 1.3 0 1 0 -2.6 0M104.4 148.9a1.3 1.3 0 1 0 2.6 0a1.3 1.3 0 1 0 -2.6 0M104.7 181.4a1.3 1.3 0 1 0 2.6 0a1.3 1.3 0 1 0 -2.6 0M105.0 165.6a1.3 1.3 0 1 0 2.6 0a1.3 1.3 0 1 0 -2.6 0M105.4 154.8a1.3 1.3 0 1 0 2.6 0a1.3 1.3 0 1 0 -2.6 0M105.7 185.7a1.3 1.3 0 1 0 2.6 0a1.3 1.3 0 1 0 -2.6 0M106.0 160.1a1.3 1.3 0 1 0 2.6 0a1.3 1.3 0 1 0 -2.6 0M106.4 163.3a1.3 1.3 0 1 0 2.6 0a1.3 1.3 0 1 0 -2.6 0M106.7 181.7a1.3 1.3 0 1 0 2.6 0a1.3 1.3 0 1 0 -2.6 0M107.0 176.3a1.3 1.3 0 1 0 2.6 0a1.3 1.3 0 1 0 -2.6 0M107.4 186.0a1.3 1.3 0 1 0 2.6 0a1.3 1.3 0 1 0 -2.6 0M107.7 162.0a1.3 1.3 0 1 0 2.6 0a1.3 1.3 0 1 0 -2.6 0M108.0 187.5a1.3 1.3 0 1 0 2.6 0a1.3 1.3 0 1 0 -2.6 0M108.4 163.2a1.3 1.3 0 1 0 2.6 0a1.3 1.3 0 1 0 -2.6 0M108.7 191.0a1.3 1.3 0 1 0 2.6 0a1.3 1.3 0 1 0 -2.6 0M109.0 168.0a1.3 1.3 0 1 0 2.6 0a1.3 1.3 0 1 0 -2.6 0M109.4 180.1a1.3 1.3 0 1 0 2.6 0a1.3 1.3 0 1 0 -2.6 0M109.7 186.2a1.3 1.3 0 1 0 2.6 0a1.3 1.3 0 1 0 -2.6 0M110.0 183.7a1.3 1.3 0 1 0 2.6 0a1.3 1.3 0 1 0 -2.6 0M110.4 189.6a1.3 1.3 0 1 0 2.6 0a1.3 1.3 0 1 0 -2.6 0M110.7 159.8a1.3 1.3 0 1 0 2.6 0a1.3 1.3 0 1 0 -2.6 0M111.0 162.6a1.3 1.3 0 1 0 2.6 0a1.3 1.3 0 1 0 -2.6 0M111.4 171.3a1.3 1.3 0 1 0 2.6 0a1.3 1.3 0 1 0 -2.6 0M111.7 187.7a1.3 1.3 0 1 0 2.6 0a1.3 1.3 0 1 0 -2.6 0M112.0 186.5a1.3 1.3 0 1 0 2.6 0a1.3 1.3 0 1 0 -2.6 0M112.4 180.9a1.3 1.3 0 1 0 2.6 0a1.3 1.3 0 1 0 -2.6 0M112.7 154.9a1.3 1.3 0 1 0 2.6 0a1.3 1.3 0 1 0 -2.6 0M113.0 163.1a1.3 1.3 0 1 0 2.6 0a1.3 1.3 0 1 0 -2.6 0M113.4 160.7a1.3 1.3 0 1 0 2.6 0a1.3 1.3 0 1 0 -2.6 0M113.7 175.0a1.3 1.3 0 1 0 2.6 0a1.3 1.3 0 1 0 -2.6 0M114.0 180.7a1.3 1.3 0 1 0 2.6 0a1.3 1.3 0 1 0 -2.6 0M114.4 189.1a1.3 1.3 0 1 0 2.6 0a1.3 1.3 0 1 0 -2.6 0M114.7 168.6a1.3 1.3 0 1 0 2.6 0a1.3 1.3 0 1 0 -2.6 0M115.0 181.8a1.3 1.3 0 1 0 2.6 0a1.3 1.3 0 1 0 -2.6 0M115.4 182.2a1.3 1.3 0 1 0 2.6 0a1.3 1.3 0 1 0 -2.6 0M115.7 171.0a1.3 1.3 0 1 0 2.6 0a1.3 1.3 0 1 0 -2.6 0M116.0 170.5a1.3 1.3 0 1 0 2.6 0a1.3 1.3 0 1 0 -2.6 0M116.4 162.3a1.3 1.3 0 1 0 2.6 0a1.3 1.3 0 1 0 -2.6 0M116.7 163.8a1.3 1.3 0 1 0 2.6 0a1.3 1.3 0 1 0 -2.6 0M117.0 170.7a1.3 1.3 0 1 0 2.6 0a1.3 1.3 0 1 0 -2.6 0M117.4 183.1a1.3 1.3 0 1 0 2.6 0a1.3 1.3 0 1 0 -2.6 0M117.7 173.6a1.3 1.3 0 1 0 2.6 0a1.3 1.3 0 1 0 -2.6 0M118.0 183.1a1.3 1.3 0 1 0 2.6 0a1.3 1.3 0 1 0 -2.6 0M118.4 171.9a1.3 1.3 0 1 0 2.6 0a1.3 1.3 0 1 0 -2.6 0M118.7 190.9a1.3 1.3 0 1 0 2.6 0a1.3 1.3 0 1 0 -2.6 0M119.0 155.0a1.3 1.3 0 1 0 2.6 0a1.3 1.3 0 1 0 -2.6 0M119.4 172.6a1.3 1.3 0 1 0 2.6 0a1.3 1.3 0 1 0 -2.6 0M119.7 171.2a1.3 1.3 0 1 0 2.6 0a1.3 1.3 0 1 0 -2.6 0M120.0 150.1a1.3 1.3 0 1 0 2.6 0a1.3 1.3 0 1 0 -2.6 0M120.4 162.1a1.3 1.3 0 1 0 2.6 0a1.3 1.3 0 1 0 -2.6 0M120.7 172.5a1.3 1.3 0 1 0 2.6 0a1.3 1.3 0 1 0 -2.6 0M121.0 165.3a1.3 1.3 0 1 0 2.6 0a1.3 1.3 0 1 0 -2.6 0M121.4 180.7a1.3 1.3 0 1 0 2.6 0a1.3 1.3 0 1 0 -2.6 0M121.7 176.9a1.3 1.3 0 1 0 2.6 0a1.3 1.3 0 1 0 -2.6 0M122.0 148.9a1.3 1.3 0 1 0 2.6 0a1.3 1.3 0 1 0 -2.6 0M122.4 147.4a1.3 1.3 0 1 0 2.6 0a1.3 1.3 0 1 0 -2.6 0M122.7 161.2a1.3 1.3 0 1 0 2.6 0a1.3 1.3 0 1 0 -2.6 0M123.0 168.6a1.3 1.3 0 1 0 2.6 0a1.3 1.3 0 1 0 -2.6 0M123.4 168.1a1.3 1.3 0 1 0 2.6 0a1.3 1.3 0 1 0 -2.6 0M123.7 170.9a1.3 1.3 0 1 0 2.6 0a1.3 1.3 0 1 0 -2.6 0M124.0 185.4a1.3 1.3 0 1 0 2.6 0a1.3 1.3 0 1 0 -2.6 0M124.4 160.1a1.3 1.3 0 1 0 2.6 0a1.3 1.3 0 1 0 -2.6 0M124.7 175.5a1.3 1.3 0 1 0 2.6 0a1.3 1.3 0 1 0 -2.6 0M125.0 156.7a1.3 1.3 0 1 0 2.6 0a1.3 1.3 0 1 0 -2.6 0M125.4 172.6a1.3 1.3 0 1 0 2.6 0a1.3 1.3 0 1 0 -2.6 0M125.7 167.5a1.3 1.3 0 1 0 2.6 0a1.3 1.3 0 1 0 -2.6 0M126.0 163.2a1.3 1.3 0 1 0 2.6 0a1.3 1.3 0 1 0 -2.6 0M126.4 160.5a1.3 1.3 0 1 0 2.6 0a1.3 1.3 0 1 0 -2.6 0M126.7 173.8a1.3 1.3 0 1 0 2.6 0a1.3 1.3 0 1 0 -2.6 0M127.0 171.0a1.3 1.3 0 1 0 2.6 0a1.3 1.3 0 1 0 -2.6 0M127.4 159.5a1.3 1.3 0 1 0 2.6 0a1.3 1.3 0 1 0 -2.6 0M127.7 164.0a1.3 1.3 0 1 0 2.6 0a1.3 1.3 0 1 0 -2.6 0M128.0 162.4a1.3 1.3 0 1 0 2.6 0a1.3 1.3 0 1 0 -2.6 0M128.4 161.4a1.3 1.3 0 1 0 2.6 0a1.3 1.3 0 1 0 -2.6 0M128.7 181.7a1.3 1.3 0 1 0 2.6 0a1.3 1.3 0 1 0 -2.6 0M129.0 168.2a1.3 1.3 0 1 0 2.6 0a1.3 1.3 0 1 0 -2.6 0M129.4 177.3a1.3 1.3 0 1 0 2.6 0a1.3 1.3 0 1 0 -2.6 0M129.7 153.1a1.3 1.3 0 1 0 2.6 0a1.3 1.3 0 1 0 -2.6 0M130.0 183.7a1.3 1.3 0 1 0 2.6 0a1.3 1.3 0 1 0 -2.6 0M130.4 179.7a1.3 1.3 0 1 0 2.6 0a1.3 1.3 0 1 0 -2.6 0M130.7 161.9a1.3 1.3 0 1 0 2.6 0a1.3 1.3 0 1 0 -2.6 0M131.0 169.8a1.3 1.3 0 1 0 2.6 0a1.3 1.3 0 1 0 -2.6 0M131.4 162.4a1.3 1.3 0 1 0 2.6 0a1.3 1.3 0 1 0 -2.6 0M131.7 160.4a1.3 1.3 0 1 0 2.6 0a1.3 1.3 0 1 0 -2.6 0M132.0 162.4a1.3 1.3 0 1 0 2.6 0a1.3 1.3 0 1 0 -2.6 0M132.4 155.3a1.3 1.3 0 1 0 2.6 0a1.3 1.3 0 1 0 -2.6 0M132.7 165.8a1.3 1.3 0 1 0 2.6 0a1.3 1.3 0 1 0 -2.6 0M133.0 173.2a1.3 1.3 0 1 0 2.6 0a1.3 1.3 0 1 0 -2.6 0M133.5 154.8a1.3 1.3 0 1 0 2.6 0a1.3 1.3 0 1 0 -2.6 0M135.1 166.7a1.3 1.3 0 1 0 2.6 0a1.3 1.3 0 1 0 -2.6 0M135.7 163.0a1.3 1.3 0 1 0 2.6 0a1.3 1.3 0 1 0 -2.6 0M136.0 152.8a1.3 1.3 0 1 0 2.6 0a1.3 1.3 0 1 0 -2.6 0M136.4 151.9a1.3 1.3 0 1 0 2.6 0a1.3 1.3 0 1 0 -2.6 0M136.7 175.9a1.3 1.3 0 1 0 2.6 0a1.3 1.3 0 1 0 -2.6 0M137.0 175.9a1.3 1.3 0 1 0 2.6 0a1.3 1.3 0 1 0 -2.6 0M137.4 165.3a1.3 1.3 0 1 0 2.6 0a1.3 1.3 0 1 0 -2.6 0M137.7 152.3a1.3 1.3 0 1 0 2.6 0a1.3 1.3 0 1 0 -2.6 0M138.0 160.0a1.3 1.3 0 1 0 2.6 0a1.3 1.3 0 1 0 -2.6 0M138.4 142.5a1.3 1.3 0 1 0 2.6 0a1.3 1.3 0 1 0 -2.6 0M138.7 178.3a1.3 1.3 0 1 0 2.6 0a1.3 1.3 0 1 0 -2.6 0M139.0 164.9a1.3 1.3 0 1 0 2.6 0a1.3 1.3 0 1 0 -2.6 0M139.4 163.2a1.3 1.3 0 1 0 2.6 0a1.3 1.3 0 1 0 -2.6 0M139.7 158.3a1.3 1.3 0 1 0 2.6 0a1.3 1.3 0 1 0 -2.6 0M140.0 153.3a1.3 1.3 0 1 0 2.6 0a1.3 1.3 0 1 0 -2.6 0M140.4 163.3a1.3 1.3 0 1 0 2.6 0a1.3 1.3 0 1 0 -2.6 0M140.7 154.5a1.3 1.3 0 1 0 2.6 0a1.3 1.3 0 1 0 -2.6 0M141.0 166.5a1.3 1.3 0 1 0 2.6 0a1.3 1.3 0 1 0 -2.6 0M141.4 153.1a1.3 1.3 0 1 0 2.6 0a1.3 1.3 0 1 0 -2.6 0M141.7 166.7a1.3 1.3 0 1 0 2.6 0a1.3 1.3 0 1 0 -2.6 0M142.0 163.1a1.3 1.3 0 1 0 2.6 0a1.3 1.3 0 1 0 -2.6 0M142.4 176.3a1.3 1.3 0 1 0 2.6 0a1.3 1.3 0 1 0 -2.6 0M142.7 187.2a1.3 1.3 0 1 0 2.6 0a1.3 1.3 0 1 0 -2.6 0M143.0 175.4a1.3 1.3 0 1 0 2.6 0a1.3 1.3 0 1 0 -2.6 0M143.4 171.7a1.3 1.3 0 1 0 2.6 0a1.3 1.3 0 1 0 -2.6 0M143.7 166.9a1.3 1.3 0 1 0 2.6 0a1.3 1.3 0 1 0 -2.6 0M144.0 171.0a1.3 1.3 0 1 0 2.6 0a1.3 1.3 0 1 0 -2.6 0M144.4 167.6a1.3 1.3 0 1 0 2.6 0a1.3 1.3 0 1 0 -2.6 0M144.9 164.4a1.3 1.3 0 1 0 2.6 0a1.3 1.3 0 1 0 -2.6 0M146.5 164.0a1.3 1.3 0 1 0 2.6 0a1.3 1.3 0 1 0 -2.6 0M147.0 152.0a1.3 1.3 0 1 0 2.6 0a1.3 1.3 0 1 0 -2.6 0M147.4 161.2a1.3 1.3 0 1 0 2.6 0a1.3 1.3 0 1 0 -2.6 0M147.7 154.6a1.3 1.3 0 1 0 2.6 0a1.3 1.3 0 1 0 -2.6 0M148.0 163.6a1.3 1.3 0 1 0 2.6 0a1.3 1.3 0 1 0 -2.6 0M148.4 152.8a1.3 1.3 0 1 0 2.6 0a1.3 1.3 0 1 0 -2.6 0M148.7 156.4a1.3 1.3 0 1 0 2.6 0a1.3 1.3 0 1 0 -2.6 0M149.0 158.0a1.3 1.3 0 1 0 2.6 0a1.3 1.3 0 1 0 -2.6 0M149.4 162.3a1.3 1.3 0 1 0 2.6 0a1.3 1.3 0 1 0 -2.6 0M149.7 153.8a1.3 1.3 0 1 0 2.6 0a1.3 1.3 0 1 0 -2.6 0M150.0 153.5a1.3 1.3 0 1 0 2.6 0a1.3 1.3 0 1 0 -2.6 0M150.4 158.5a1.3 1.3 0 1 0 2.6 0a1.3 1.3 0 1 0 -2.6 0M150.7 162.9a1.3 1.3 0 1 0 2.6 0a1.3 1.3 0 1 0 -2.6 0M151.0 155.6a1.3 1.3 0 1 0 2.6 0a1.3 1.3 0 1 0 -2.6 0M151.4 166.0a1.3 1.3 0 1 0 2.6 0a1.3 1.3 0 1 0 -2.6 0M151.7 167.4a1.3 1.3 0 1 0 2.6 0a1.3 1.3 0 1 0 -2.6 0M152.0 155.4a1.3 1.3 0 1 0 2.6 0a1.3 1.3 0 1 0 -2.6 0M152.4 173.5a1.3 1.3 0 1 0 2.6 0a1.3 1.3 0 1 0 -2.6 0M152.9 155.7a1.3 1.3 0 1 0 2.6 0a1.3 1.3 0 1 0 -2.6 0M154.5 147.0a1.3 1.3 0 1 0 2.6 0a1.3 1.3 0 1 0 -2.6 0M155.0 175.5a1.3 1.3 0 1 0 2.6 0a1.3 1.3 0 1 0 -2.6 0M155.4 167.2a1.3 1.3 0 1 0 2.6 0a1.3 1.3 0 1 0 -2.6 0M155.7 152.1a1.3 1.3 0 1 0 2.6 0a1.3 1.3 0 1 0 -2.6 0M156.0 159.3a1.3 1.3 0 1 0 2.6 0a1.3 1.3 0 1 0 -2.6 0M156.4 164.0a1.3 1.3 0 1 0 2.6 0a1.3 1.3 0 1 0 -2.6 0M156.7 156.0a1.3 1.3 0 1 0 2.6 0a1.3 1.3 0 1 0 -2.6 0M157.0 161.6a1.3 1.3 0 1 0 2.6 0a1.3 1.3 0 1 0 -2.6 0M157.4 180.3a1.3 1.3 0 1 0 2.6 0a1.3 1.3 0 1 0 -2.6 0M157.7 169.0a1.3 1.3 0 1 0 2.6 0a1.3 1.3 0 1 0 -2.6 0M158.0 164.7a1.3 1.3 0 1 0 2.6 0a1.3 1.3 0 1 0 -2.6 0M158.4 160.2a1.3 1.3 0 1 0 2.6 0a1.3 1.3 0 1 0 -2.6 0M158.7 163.1a1.3 1.3 0 1 0 2.6 0a1.3 1.3 0 1 0 -2.6 0M159.0 173.3a1.3 1.3 0 1 0 2.6 0a1.3 1.3 0 1 0 -2.6 0M159.4 153.5a1.3 1.3 0 1 0 2.6 0a1.3 1.3 0 1 0 -2.6 0M159.7 150.9a1.3 1.3 0 1 0 2.6 0a1.3 1.3 0 1 0 -2.6 0M160.0 157.3a1.3 1.3 0 1 0 2.6 0a1.3 1.3 0 1 0 -2.6 0M160.4 150.5a1.3 1.3 0 1 0 2.6 0a1.3 1.3 0 1 0 -2.6 0M160.7 153.4a1.3 1.3 0 1 0 2.6 0a1.3 1.3 0 1 0 -2.6 0M161.0 159.1a1.3 1.3 0 1 0 2.6 0a1.3 1.3 0 1 0 -2.6 0M161.4 163.1a1.3 1.3 0 1 0 2.6 0a1.3 1.3 0 1 0 -2.6 0M161.7 165.4a1.3 1.3 0 1 0 2.6 0a1.3 1.3 0 1 0 -2.6 0M162.0 141.4a1.3 1.3 0 1 0 2.6 0a1.3 1.3 0 1 0 -2.6 0M162.4 163.0a1.3 1.3 0 1 0 2.6 0a1.3 1.3 0 1 0 -2.6 0M162.7 150.5a1.3 1.3 0 1 0 2.6 0a1.3 1.3 0 1 0 -2.6 0M163.0 159.3a1.3 1.3 0 1 0 2.6 0a1.3 1.3 0 1 0 -2.6 0M163.4 151.0a1.3 1.3 0 1 0 2.6 0a1.3 1.3 0 1 0 -2.6 0M163.7 137.7a1.3 1.3 0 1 0 2.6 0a1.3 1.3 0 1 0 -2.6 0M164.0 166.0a1.3 1.3 0 1 0 2.6 0a1.3 1.3 0 1 0 -2.6 0M164.4 163.3a1.3 1.3 0 1 0 2.6 0a1.3 1.3 0 1 0 -2.6 0M164.7 143.6a1.3 1.3 0 1 0 2.6 0a1.3 1.3 0 1 0 -2.6 0M165.0 175.4a1.3 1.3 0 1 0 2.6 0a1.3 1.3 0 1 0 -2.6 0M165.4 154.3a1.3 1.3 0 1 0 2.6 0a1.3 1.3 0 1 0 -2.6 0M165.7 154.9a1.3 1.3 0 1 0 2.6 0a1.3 1.3 0 1 0 -2.6 0M166.0 155.1a1.3 1.3 0 1 0 2.6 0a1.3 1.3 0 1 0 -2.6 0M166.4 152.8a1.3 1.3 0 1 0 2.6 0a1.3 1.3 0 1 0 -2.6 0M166.7 165.4a1.3 1.3 0 1 0 2.6 0a1.3 1.3 0 1 0 -2.6 0M167.0 175.2a1.3 1.3 0 1 0 2.6 0a1.3 1.3 0 1 0 -2.6 0M167.4 160.2a1.3 1.3 0 1 0 2.6 0a1.3 1.3 0 1 0 -2.6 0M167.7 168.9a1.3 1.3 0 1 0 2.6 0a1.3 1.3 0 1 0 -2.6 0M168.0 147.0a1.3 1.3 0 1 0 2.6 0a1.3 1.3 0 1 0 -2.6 0M168.4 156.5a1.3 1.3 0 1 0 2.6 0a1.3 1.3 0 1 0 -2.6 0M168.7 154.2a1.3 1.3 0 1 0 2.6 0a1.3 1.3 0 1 0 -2.6 0M169.0 143.1a1.3 1.3 0 1 0 2.6 0a1.3 1.3 0 1 0 -2.6 0M169.4 156.3a1.3 1.3 0 1 0 2.6 0a1.3 1.3 0 1 0 -2.6 0M169.7 153.8a1.3 1.3 0 1 0 2.6 0a1.3 1.3 0 1 0 -2.6 0M170.0 162.0a1.3 1.3 0 1 0 2.6 0a1.3 1.3 0 1 0 -2.6 0M170.4 160.4a1.3 1.3 0 1 0 2.6 0a1.3 1.3 0 1 0 -2.6 0M170.7 175.7a1.3 1.3 0 1 0 2.6 0a1.3 1.3 0 1 0 -2.6 0M171.0 174.8a1.3 1.3 0 1 0 2.6 0a1.3 1.3 0 1 0 -2.6 0M171.4 164.1a1.3 1.3 0 1 0 2.6 0a1.3 1.3 0 1 0 -2.6 0M171.7 163.0a1.3 1.3 0 1 0 2.6 0a1.3 1.3 0 1 0 -2.6 0M172.0 163.1a1.3 1.3 0 1 0 2.6 0a1.3 1.3 0 1 0 -2.6 0M172.4 158.6a1.3 1.3 0 1 0 2.6 0a1.3 1.3 0 1 0 -2.6 0M172.7 164.9a1.3 1.3 0 1 0 2.6 0a1.3 1.3 0 1 0 -2.6 0M173.0 164.8a1.3 1.3 0 1 0 2.6 0a1.3 1.3 0 1 0 -2.6 0M173.4 160.8a1.3 1.3 0 1 0 2.6 0a1.3 1.3 0 1 0 -2.6 0M173.7 145.1a1.3 1.3 0 1 0 2.6 0a1.3 1.3 0 1 0 -2.6 0M174.0 152.8a1.3 1.3 0 1 0 2.6 0a1.3 1.3 0 1 0 -2.6 0M174.4 150.7a1.3 1.3 0 1 0 2.6 0a1.3 1.3 0 1 0 -2.6 0M174.7 164.7a1.3 1.3 0 1 0 2.6 0a1.3 1.3 0 1 0 -2.6 0M175.0 156.9a1.3 1.3 0 1 0 2.6 0a1.3 1.3 0 1 0 -2.6 0M175.4 160.9a1.3 1.3 0 1 0 2.6 0a1.3 1.3 0 1 0 -2.6 0M175.9 169.5a1.3 1.3 0 1 0 2.6 0a1.3 1.3 0 1 0 -2.6 0M177.5 157.0a1.3 1.3 0 1 0 2.6 0a1.3 1.3 0 1 0 -2.6 0M178.0 150.7a1.3 1.3 0 1 0 2.6 0a1.3 1.3 0 1 0 -2.6 0M178.4 162.0a1.3 1.3 0 1 0 2.6 0a1.3 1.3 0 1 0 -2.6 0M178.7 156.1a1.3 1.3 0 1 0 2.6 0a1.3 1.3 0 1 0 -2.6 0M179.0 151.6a1.3 1.3 0 1 0 2.6 0a1.3 1.3 0 1 0 -2.6 0M179.4 154.3a1.3 1.3 0 1 0 2.6 0a1.3 1.3 0 1 0 -2.6 0M179.7 184.1a1.3 1.3 0 1 0 2.6 0a1.3 1.3 0 1 0 -2.6 0M180.0 162.6a1.3 1.3 0 1 0 2.6 0a1.3 1.3 0 1 0 -2.6 0M180.4 162.1a1.3 1.3 0 1 0 2.6 0a1.3 1.3 0 1 0 -2.6 0M180.7 165.3a1.3 1.3 0 1 0 2.6 0a1.3 1.3 0 1 0 -2.6 0M181.0 164.9a1.3 1.3 0 1 0 2.6 0a1.3 1.3 0 1 0 -2.6 0M181.4 169.8a1.3 1.3 0 1 0 2.6 0a1.3 1.3 0 1 0 -2.6 0M181.7 172.7a1.3 1.3 0 1 0 2.6 0a1.3 1.3 0 1 0 -2.6 0M182.0 168.6a1.3 1.3 0 1 0 2.6 0a1.3 1.3 0 1 0 -2.6 0M182.4 165.9a1.3 1.3 0 1 0 2.6 0a1.3 1.3 0 1 0 -2.6 0M182.7 144.9a1.3 1.3 0 1 0 2.6 0a1.3 1.3 0 1 0 -2.6 0M183.0 144.5a1.3 1.3 0 1 0 2.6 0a1.3 1.3 0 1 0 -2.6 0M183.4 151.8a1.3 1.3 0 1 0 2.6 0a1.3 1.3 0 1 0 -2.6 0M183.7 138.7a1.3 1.3 0 1 0 2.6 0a1.3 1.3 0 1 0 -2.6 0M184.0 155.4a1.3 1.3 0 1 0 2.6 0a1.3 1.3 0 1 0 -2.6 0M184.4 143.2a1.3 1.3 0 1 0 2.6 0a1.3 1.3 0 1 0 -2.6 0M184.7 156.9a1.3 1.3 0 1 0 2.6 0a1.3 1.3 0 1 0 -2.6 0M185.0 156.0a1.3 1.3 0 1 0 2.6 0a1.3 1.3 0 1 0 -2.6 0M185.4 137.5a1.3 1.3 0 1 0 2.6 0a1.3 1.3 0 1 0 -2.6 0M185.7 157.0a1.3 1.3 0 1 0 2.6 0a1.3 1.3 0 1 0 -2.6 0M186.0 159.0a1.3 1.3 0 1 0 2.6 0a1.3 1.3 0 1 0 -2.6 0M186.4 140.1a1.3 1.3 0 1 0 2.6 0a1.3 1.3 0 1 0 -2.6 0M186.7 146.1a1.3 1.3 0 1 0 2.6 0a1.3 1.3 0 1 0 -2.6 0M187.0 158.8a1.3 1.3 0 1 0 2.6 0a1.3 1.3 0 1 0 -2.6 0M187.4 151.5a1.3 1.3 0 1 0 2.6 0a1.3 1.3 0 1 0 -2.6 0M187.7 167.3a1.3 1.3 0 1 0 2.6 0a1.3 1.3 0 1 0 -2.6 0M188.0 162.2a1.3 1.3 0 1 0 2.6 0a1.3 1.3 0 1 0 -2.6 0M188.4 142.3a1.3 1.3 0 1 0 2.6 0a1.3 1.3 0 1 0 -2.6 0M188.7 156.5a1.3 1.3 0 1 0 2.6 0a1.3 1.3 0 1 0 -2.6 0M189.0 157.4a1.3 1.3 0 1 0 2.6 0a1.3 1.3 0 1 0 -2.6 0M189.4 146.4a1.3 1.3 0 1 0 2.6 0a1.3 1.3 0 1 0 -2.6 0M189.7 145.3a1.3 1.3 0 1 0 2.6 0a1.3 1.3 0 1 0 -2.6 0M190.0 161.2a1.3 1.3 0 1 0 2.6 0a1.3 1.3 0 1 0 -2.6 0M190.4 148.0a1.3 1.3 0 1 0 2.6 0a1.3 1.3 0 1 0 -2.6 0M190.7 151.7a1.3 1.3 0 1 0 2.6 0a1.3 1.3 0 1 0 -2.6 0M191.0 163.8a1.3 1.3 0 1 0 2.6 0a1.3 1.3 0 1 0 -2.6 0M191.4 138.7a1.3 1.3 0 1 0 2.6 0a1.3 1.3 0 1 0 -2.6 0M191.7 133.4a1.3 1.3 0 1 0 2.6 0a1.3 1.3 0 1 0 -2.6 0M192.0 117.1a1.3 1.3 0 1 0 2.6 0a1.3 1.3 0 1 0 -2.6 0M192.4 142.6a1.3 1.3 0 1 0 2.6 0a1.3 1.3 0 1 0 -2.6 0M192.7 152.1a1.3 1.3 0 1 0 2.6 0a1.3 1.3 0 1 0 -2.6 0M193.0 148.8a1.3 1.3 0 1 0 2.6 0a1.3 1.3 0 1 0 -2.6 0M193.4 145.4a1.3 1.3 0 1 0 2.6 0a1.3 1.3 0 1 0 -2.6 0M193.7 171.2a1.3 1.3 0 1 0 2.6 0a1.3 1.3 0 1 0 -2.6 0M194.0 161.9a1.3 1.3 0 1 0 2.6 0a1.3 1.3 0 1 0 -2.6 0M194.4 159.6a1.3 1.3 0 1 0 2.6 0a1.3 1.3 0 1 0 -2.6 0M194.7 141.2a1.3 1.3 0 1 0 2.6 0a1.3 1.3 0 1 0 -2.6 0M195.0 147.2a1.3 1.3 0 1 0 2.6 0a1.3 1.3 0 1 0 -2.6 0M195.4 143.5a1.3 1.3 0 1 0 2.6 0a1.3 1.3 0 1 0 -2.6 0M195.7 156.2a1.3 1.3 0 1 0 2.6 0a1.3 1.3 0 1 0 -2.6 0M196.0 138.3a1.3 1.3 0 1 0 2.6 0a1.3 1.3 0 1 0 -2.6 0M196.4 148.5a1.3 1.3 0 1 0 2.6 0a1.3 1.3 0 1 0 -2.6 0M196.7 164.0a1.3 1.3 0 1 0 2.6 0a1.3 1.3 0 1 0 -2.6 0M197.0 151.3a1.3 1.3 0 1 0 2.6 0a1.3 1.3 0 1 0 -2.6 0M197.4 164.9a1.3 1.3 0 1 0 2.6 0a1.3 1.3 0 1 0 -2.6 0M197.7 151.8a1.3 1.3 0 1 0 2.6 0a1.3 1.3 0 1 0 -2.6 0M198.0 167.1a1.3 1.3 0 1 0 2.6 0a1.3 1.3 0 1 0 -2.6 0M198.4 158.7a1.3 1.3 0 1 0 2.6 0a1.3 1.3 0 1 0 -2.6 0M198.7 157.5a1.3 1.3 0 1 0 2.6 0a1.3 1.3 0 1 0 -2.6 0M199.0 161.2a1.3 1.3 0 1 0 2.6 0a1.3 1.3 0 1 0 -2.6 0M199.4 150.6a1.3 1.3 0 1 0 2.6 0a1.3 1.3 0 1 0 -2.6 0M199.7 145.8a1.3 1.3 0 1 0 2.6 0a1.3 1.3 0 1 0 -2.6 0M200.0 153.2a1.3 1.3 0 1 0 2.6 0a1.3 1.3 0 1 0 -2.6 0M200.4 154.6a1.3 1.3 0 1 0 2.6 0a1.3 1.3 0 1 0 -2.6 0M200.7 153.8a1.3 1.3 0 1 0 2.6 0a1.3 1.3 0 1 0 -2.6 0M201.0 166.6a1.3 1.3 0 1 0 2.6 0a1.3 1.3 0 1 0 -2.6 0M201.4 159.6a1.3 1.3 0 1 0 2.6 0a1.3 1.3 0 1 0 -2.6 0M201.7 144.4a1.3 1.3 0 1 0 2.6 0a1.3 1.3 0 1 0 -2.6 0M202.0 144.5a1.3 1.3 0 1 0 2.6 0a1.3 1.3 0 1 0 -2.6 0M202.4 155.1a1.3 1.3 0 1 0 2.6 0a1.3 1.3 0 1 0 -2.6 0M202.7 131.6a1.3 1.3 0 1 0 2.6 0a1.3 1.3 0 1 0 -2.6 0M203.0 152.4a1.3 1.3 0 1 0 2.6 0a1.3 1.3 0 1 0 -2.6 0M203.4 161.6a1.3 1.3 0 1 0 2.6 0a1.3 1.3 0 1 0 -2.6 0M203.7 162.6a1.3 1.3 0 1 0 2.6 0a1.3 1.3 0 1 0 -2.6 0M204.0 161.7a1.3 1.3 0 1 0 2.6 0a1.3 1.3 0 1 0 -2.6 0M204.4 159.1a1.3 1.3 0 1 0 2.6 0a1.3 1.3 0 1 0 -2.6 0M204.7 144.8a1.3 1.3 0 1 0 2.6 0a1.3 1.3 0 1 0 -2.6 0M205.0 147.7a1.3 1.3 0 1 0 2.6 0a1.3 1.3 0 1 0 -2.6 0M205.4 158.7a1.3 1.3 0 1 0 2.6 0a1.3 1.3 0 1 0 -2.6 0M205.7 153.0a1.3 1.3 0 1 0 2.6 0a1.3 1.3 0 1 0 -2.6 0M206.0 161.5a1.3 1.3 0 1 0 2.6 0a1.3 1.3 0 1 0 -2.6 0M206.4 163.0a1.3 1.3 0 1 0 2.6 0a1.3 1.3 0 1 0 -2.6 0M206.7 151.4a1.3 1.3 0 1 0 2.6 0a1.3 1.3 0 1 0 -2.6 0M207.0 153.8a1.3 1.3 0 1 0 2.6 0a1.3 1.3 0 1 0 -2.6 0M207.4 171.6a1.3 1.3 0 1 0 2.6 0a1.3 1.3 0 1 0 -2.6 0M207.7 162.2a1.3 1.3 0 1 0 2.6 0a1.3 1.3 0 1 0 -2.6 0M208.0 150.0a1.3 1.3 0 1 0 2.6 0a1.3 1.3 0 1 0 -2.6 0M208.4 165.5a1.3 1.3 0 1 0 2.6 0a1.3 1.3 0 1 0 -2.6 0M208.7 177.1a1.3 1.3 0 1 0 2.6 0a1.3 1.3 0 1 0 -2.6 0M209.0 157.9a1.3 1.3 0 1 0 2.6 0a1.3 1.3 0 1 0 -2.6 0M209.4 166.2a1.3 1.3 0 1 0 2.6 0a1.3 1.3 0 1 0 -2.6 0M209.7 157.9a1.3 1.3 0 1 0 2.6 0a1.3 1.3 0 1 0 -2.6 0M210.0 141.4a1.3 1.3 0 1 0 2.6 0a1.3 1.3 0 1 0 -2.6 0M210.4 155.2a1.3 1.3 0 1 0 2.6 0a1.3 1.3 0 1 0 -2.6 0M210.7 149.2a1.3 1.3 0 1 0 2.6 0a1.3 1.3 0 1 0 -2.6 0M211.0 149.1a1.3 1.3 0 1 0 2.6 0a1.3 1.3 0 1 0 -2.6 0M211.4 145.3a1.3 1.3 0 1 0 2.6 0a1.3 1.3 0 1 0 -2.6 0M211.7 163.3a1.3 1.3 0 1 0 2.6 0a1.3 1.3 0 1 0 -2.6 0M212.0 157.4a1.3 1.3 0 1 0 2.6 0a1.3 1.3 0 1 0 -2.6 0M212.4 162.3a1.3 1.3 0 1 0 2.6 0a1.3 1.3 0 1 0 -2.6 0M212.7 153.8a1.3 1.3 0 1 0 2.6 0a1.3 1.3 0 1 0 -2.6 0M213.0 160.4a1.3 1.3 0 1 0 2.6 0a1.3 1.3 0 1 0 -2.6 0M213.4 164.2a1.3 1.3 0 1 0 2.6 0a1.3 1.3 0 1 0 -2.6 0M213.7 172.6a1.3 1.3 0 1 0 2.6 0a1.3 1.3 0 1 0 -2.6 0M214.0 164.6a1.3 1.3 0 1 0 2.6 0a1.3 1.3 0 1 0 -2.6 0M214.4 169.1a1.3 1.3 0 1 0 2.6 0a1.3 1.3 0 1 0 -2.6 0M214.7 161.7a1.3 1.3 0 1 0 2.6 0a1.3 1.3 0 1 0 -2.6 0M215.0 163.2a1.3 1.3 0 1 0 2.6 0a1.3 1.3 0 1 0 -2.6 0M215.4 167.4a1.3 1.3 0 1 0 2.6 0a1.3 1.3 0 1 0 -2.6 0M215.7 170.2a1.3 1.3 0 1 0 2.6 0a1.3 1.3 0 1 0 -2.6 0M216.2 167.2a1.3 1.3 0 1 0 2.6 0a1.3 1.3 0 1 0 -2.6 0M217.8 173.9a1.3 1.3 0 1 0 2.6 0a1.3 1.3 0 1 0 -2.6 0M218.4 160.5a1.3 1.3 0 1 0 2.6 0a1.3 1.3 0 1 0 -2.6 0M218.7 155.8a1.3 1.3 0 1 0 2.6 0a1.3 1.3 0 1 0 -2.6 0M219.0 158.9a1.3 1.3 0 1 0 2.6 0a1.3 1.3 0 1 0 -2.6 0M219.4 152.0a1.3 1.3 0 1 0 2.6 0a1.3 1.3 0 1 0 -2.6 0M219.9 176.5a1.3 1.3 0 1 0 2.6 0a1.3 1.3 0 1 0 -2.6 0M221.5 168.9a1.3 1.3 0 1 0 2.6 0a1.3 1.3 0 1 0 -2.6 0M222.0 145.8a1.3 1.3 0 1 0 2.6 0a1.3 1.3 0 1 0 -2.6 0M222.4 169.9a1.3 1.3 0 1 0 2.6 0a1.3 1.3 0 1 0 -2.6 0M222.7 153.1a1.3 1.3 0 1 0 2.6 0a1.3 1.3 0 1 0 -2.6 0M223.0 158.5a1.3 1.3 0 1 0 2.6 0a1.3 1.3 0 1 0 -2.6 0M223.4 158.0a1.3 1.3 0 1 0 2.6 0a1.3 1.3 0 1 0 -2.6 0M223.7 155.2a1.3 1.3 0 1 0 2.6 0a1.3 1.3 0 1 0 -2.6 0M224.0 157.2a1.3 1.3 0 1 0 2.6 0a1.3 1.3 0 1 0 -2.6 0M224.4 164.6a1.3 1.3 0 1 0 2.6 0a1.3 1.3 0 1 0 -2.6 0M224.7 163.6a1.3 1.3 0 1 0 2.6 0a1.3 1.3 0 1 0 -2.6 0M225.0 162.3a1.3 1.3 0 1 0 2.6 0a1.3 1.3 0 1 0 -2.6 0M225.4 166.6a1.3 1.3 0 1 0 2.6 0a1.3 1.3 0 1 0 -2.6 0M225.7 182.3a1.3 1.3 0 1 0 2.6 0a1.3 1.3 0 1 0 -2.6 0M226.1 159.5a1.3 1.3 0 1 0 2.6 0a1.3 1.3 0 1 0 -2.6 0M227.7 161.4a1.3 1.3 0 1 0 2.6 0a1.3 1.3 0 1 0 -2.6 0M228.0 159.0a1.3 1.3 0 1 0 2.6 0a1.3 1.3 0 1 0 -2.6 0M228.4 159.3a1.3 1.3 0 1 0 2.6 0a1.3 1.3 0 1 0 -2.6 0M228.7 164.4a1.3 1.3 0 1 0 2.6 0a1.3 1.3 0 1 0 -2.6 0M229.0 169.5a1.3 1.3 0 1 0 2.6 0a1.3 1.3 0 1 0 -2.6 0M229.4 164.8a1.3 1.3 0 1 0 2.6 0a1.3 1.3 0 1 0 -2.6 0M229.7 163.5a1.3 1.3 0 1 0 2.6 0a1.3 1.3 0 1 0 -2.6 0M230.1 168.5a1.3 1.3 0 1 0 2.6 0a1.3 1.3 0 1 0 -2.6 0M231.7 164.0a1.3 1.3 0 1 0 2.6 0a1.3 1.3 0 1 0 -2.6 0M232.0 163.4a1.3 1.3 0 1 0 2.6 0a1.3 1.3 0 1 0 -2.6 0M232.4 166.0a1.3 1.3 0 1 0 2.6 0a1.3 1.3 0 1 0 -2.6 0M232.7 170.1a1.3 1.3 0 1 0 2.6 0a1.3 1.3 0 1 0 -2.6 0M233.0 165.8a1.3 1.3 0 1 0 2.6 0a1.3 1.3 0 1 0 -2.6 0M233.4 163.1a1.3 1.3 0 1 0 2.6 0a1.3 1.3 0 1 0 -2.6 0M233.7 145.5a1.3 1.3 0 1 0 2.6 0a1.3 1.3 0 1 0 -2.6 0M234.0 156.3a1.3 1.3 0 1 0 2.6 0a1.3 1.3 0 1 0 -2.6 0M234.4 159.2a1.3 1.3 0 1 0 2.6 0a1.3 1.3 0 1 0 -2.6 0M235.0 169.1a1.3 1.3 0 1 0 2.6 0a1.3 1.3 0 1 0 -2.6 0M236.6 166.6a1.3 1.3 0 1 0 2.6 0a1.3 1.3 0 1 0 -2.6 0M237.0 156.3a1.3 1.3 0 1 0 2.6 0a1.3 1.3 0 1 0 -2.6 0M237.4 160.1a1.3 1.3 0 1 0 2.6 0a1.3 1.3 0 1 0 -2.6 0M237.7 168.4a1.3 1.3 0 1 0 2.6 0a1.3 1.3 0 1 0 -2.6 0M238.2 151.6a1.3 1.3 0 1 0 2.6 0a1.3 1.3 0 1 0 -2.6 0M239.8 152.3a1.3 1.3 0 1 0 2.6 0a1.3 1.3 0 1 0 -2.6 0M240.4 148.1a1.3 1.3 0 1 0 2.6 0a1.3 1.3 0 1 0 -2.6 0M240.8 162.1a1.3 1.3 0 1 0 2.6 0a1.3 1.3 0 1 0 -2.6 0M242.4 159.5a1.3 1.3 0 1 0 2.6 0a1.3 1.3 0 1 0 -2.6 0M243.0 173.6a1.3 1.3 0 1 0 2.6 0a1.3 1.3 0 1 0 -2.6 0M243.4 174.1a1.3 1.3 0 1 0 2.6 0a1.3 1.3 0 1 0 -2.6 0M243.8 160.5a1.3 1.3 0 1 0 2.6 0a1.3 1.3 0 1 0 -2.6 0M245.4 163.6a1.3 1.3 0 1 0 2.6 0a1.3 1.3 0 1 0 -2.6 0M246.0 168.7a1.3 1.3 0 1 0 2.6 0a1.3 1.3 0 1 0 -2.6 0M246.4 163.1a1.3 1.3 0 1 0 2.6 0a1.3 1.3 0 1 0 -2.6 0M246.7 172.0a1.3 1.3 0 1 0 2.6 0a1.3 1.3 0 1 0 -2.6 0M247.0 171.8a1.3 1.3 0 1 0 2.6 0a1.3 1.3 0 1 0 -2.6 0M247.4 171.8a1.3 1.3 0 1 0 2.6 0a1.3 1.3 0 1 0 -2.6 0M247.7 168.0a1.3 1.3 0 1 0 2.6 0a1.3 1.3 0 1 0 -2.6 0M248.0 173.1a1.3 1.3 0 1 0 2.6 0a1.3 1.3 0 1 0 -2.6 0M248.4 168.5a1.3 1.3 0 1 0 2.6 0a1.3 1.3 0 1 0 -2.6 0M248.7 181.8a1.3 1.3 0 1 0 2.6 0a1.3 1.3 0 1 0 -2.6 0M250.3 180.8a1.3 1.3 0 1 0 2.6 0a1.3 1.3 0 1 0 -2.6 0M250.7 166.5a1.3 1.3 0 1 0 2.6 0a1.3 1.3 0 1 0 -2.6 0M251.0 168.9a1.3 1.3 0 1 0 2.6 0a1.3 1.3 0 1 0 -2.6 0M251.4 164.1a1.3 1.3 0 1 0 2.6 0a1.3 1.3 0 1 0 -2.6 0M251.7 170.9a1.3 1.3 0 1 0 2.6 0a1.3 1.3 0 1 0 -2.6 0M253.3 163.3a1.3 1.3 0 1 0 2.6 0a1.3 1.3 0 1 0 -2.6 0M253.7 154.7a1.3 1.3 0 1 0 2.6 0a1.3 1.3 0 1 0 -2.6 0M254.0 162.3a1.3 1.3 0 1 0 2.6 0a1.3 1.3 0 1 0 -2.6 0M254.4 152.5a1.3 1.3 0 1 0 2.6 0a1.3 1.3 0 1 0 -2.6 0M254.7 160.5a1.3 1.3 0 1 0 2.6 0a1.3 1.3 0 1 0 -2.6 0M255.0 164.3a1.3 1.3 0 1 0 2.6 0a1.3 1.3 0 1 0 -2.6 0M255.4 164.5a1.3 1.3 0 1 0 2.6 0a1.3 1.3 0 1 0 -2.6 0M255.7 167.5a1.3 1.3 0 1 0 2.6 0a1.3 1.3 0 1 0 -2.6 0M256.0 170.2a1.3 1.3 0 1 0 2.6 0a1.3 1.3 0 1 0 -2.6 0M256.4 164.0a1.3 1.3 0 1 0 2.6 0a1.3 1.3 0 1 0 -2.6 0M256.7 176.5a1.3 1.3 0 1 0 2.6 0a1.3 1.3 0 1 0 -2.6 0M257.0 167.6a1.3 1.3 0 1 0 2.6 0a1.3 1.3 0 1 0 -2.6 0M257.4 164.7a1.3 1.3 0 1 0 2.6 0a1.3 1.3 0 1 0 -2.6 0M257.7 154.2a1.3 1.3 0 1 0 2.6 0a1.3 1.3 0 1 0 -2.6 0M258.0 169.6a1.3 1.3 0 1 0 2.6 0a1.3 1.3 0 1 0 -2.6 0M258.4 168.1a1.3 1.3 0 1 0 2.6 0a1.3 1.3 0 1 0 -2.6 0M258.7 170.1a1.3 1.3 0 1 0 2.6 0a1.3 1.3 0 1 0 -2.6 0M259.1 151.7a1.3 1.3 0 1 0 2.6 0a1.3 1.3 0 1 0 -2.6 0M260.7 151.0a1.3 1.3 0 1 0 2.6 0a1.3 1.3 0 1 0 -2.6 0M261.0 150.3a1.3 1.3 0 1 0 2.6 0a1.3 1.3 0 1 0 -2.6 0M261.5 178.3a1.3 1.3 0 1 0 2.6 0a1.3 1.3 0 1 0 -2.6 0M263.1 169.0a1.3 1.3 0 1 0 2.6 0a1.3 1.3 0 1 0 -2.6 0M263.7 180.1a1.3 1.3 0 1 0 2.6 0a1.3 1.3 0 1 0 -2.6 0M264.0 169.3a1.3 1.3 0 1 0 2.6 0a1.3 1.3 0 1 0 -2.6 0M264.4 175.0a1.3 1.3 0 1 0 2.6 0a1.3 1.3 0 1 0 -2.6 0M264.8 171.8a1.3 1.3 0 1 0 2.6 0a1.3 1.3 0 1 0 -2.6 0M266.4 172.2a1.3 1.3 0 1 0 2.6 0a1.3 1.3 0 1 0 -2.6 0M266.7 160.4a1.3 1.3 0 1 0 2.6 0a1.3 1.3 0 1 0 -2.6 0M267.0 163.4a1.3 1.3 0 1 0 2.6 0a1.3 1.3 0 1 0 -2.6 0M267.4 160.0a1.3 1.3 0 1 0 2.6 0a1.3 1.3 0 1 0 -2.6 0M267.7 156.5a1.3 1.3 0 1 0 2.6 0a1.3 1.3 0 1 0 -2.6 0M268.0 153.4a1.3 1.3 0 1 0 2.6 0a1.3 1.3 0 1 0 -2.6 0M269.6 157.5a1.3 1.3 0 1 0 2.6 0a1.3 1.3 0 1 0 -2.6 0M270.0 162.3a1.3 1.3 0 1 0 2.6 0a1.3 1.3 0 1 0 -2.6 0M270.4 163.4a1.3 1.3 0 1 0 2.6 0a1.3 1.3 0 1 0 -2.6 0M270.7 168.7a1.3 1.3 0 1 0 2.6 0a1.3 1.3 0 1 0 -2.6 0M271.0 172.6a1.3 1.3 0 1 0 2.6 0a1.3 1.3 0 1 0 -2.6 0M271.4 171.5a1.3 1.3 0 1 0 2.6 0a1.3 1.3 0 1 0 -2.6 0M271.7 179.4a1.3 1.3 0 1 0 2.6 0a1.3 1.3 0 1 0 -2.6 0M272.0 180.6a1.3 1.3 0 1 0 2.6 0a1.3 1.3 0 1 0 -2.6 0M272.4 171.2a1.3 1.3 0 1 0 2.6 0a1.3 1.3 0 1 0 -2.6 0M272.7 175.8a1.3 1.3 0 1 0 2.6 0a1.3 1.3 0 1 0 -2.6 0M273.0 173.1a1.3 1.3 0 1 0 2.6 0a1.3 1.3 0 1 0 -2.6 0M273.6 188.8a1.3 1.3 0 1 0 2.6 0a1.3 1.3 0 1 0 -2.6 0M275.2 184.8a1.3 1.3 0 1 0 2.6 0a1.3 1.3 0 1 0 -2.6 0M275.7 165.6a1.3 1.3 0 1 0 2.6 0a1.3 1.3 0 1 0 -2.6 0M276.0 183.5a1.3 1.3 0 1 0 2.6 0a1.3 1.3 0 1 0 -2.6 0M277.6 176.2a1.3 1.3 0 1 0 2.6 0a1.3 1.3 0 1 0 -2.6 0M278.0 165.7a1.3 1.3 0 1 0 2.6 0a1.3 1.3 0 1 0 -2.6 0M278.4 166.2a1.3 1.3 0 1 0 2.6 0a1.3 1.3 0 1 0 -2.6 0M278.7 167.8a1.3 1.3 0 1 0 2.6 0a1.3 1.3 0 1 0 -2.6 0M279.0 168.1a1.3 1.3 0 1 0 2.6 0a1.3 1.3 0 1 0 -2.6 0M279.4 167.2a1.3 1.3 0 1 0 2.6 0a1.3 1.3 0 1 0 -2.6 0M279.7 171.4a1.3 1.3 0 1 0 2.6 0a1.3 1.3 0 1 0 -2.6 0M280.0 169.1a1.3 1.3 0 1 0 2.6 0a1.3 1.3 0 1 0 -2.6 0M280.4 172.0a1.3 1.3 0 1 0 2.6 0a1.3 1.3 0 1 0 -2.6 0M280.7 176.1a1.3 1.3 0 1 0 2.6 0a1.3 1.3 0 1 0 -2.6 0M281.0 170.5a1.3 1.3 0 1 0 2.6 0a1.3 1.3 0 1 0 -2.6 0M281.4 176.3a1.3 1.3 0 1 0 2.6 0a1.3 1.3 0 1 0 -2.6 0M281.7 171.9a1.3 1.3 0 1 0 2.6 0a1.3 1.3 0 1 0 -2.6 0M282.0 170.2a1.3 1.3 0 1 0 2.6 0a1.3 1.3 0 1 0 -2.6 0M282.5 167.7a1.3 1.3 0 1 0 2.6 0a1.3 1.3 0 1 0 -2.6 0M284.1 171.2a1.3 1.3 0 1 0 2.6 0a1.3 1.3 0 1 0 -2.6 0M284.7 151.3a1.3 1.3 0 1 0 2.6 0a1.3 1.3 0 1 0 -2.6 0M285.0 163.0a1.3 1.3 0 1 0 2.6 0a1.3 1.3 0 1 0 -2.6 0M285.4 163.9a1.3 1.3 0 1 0 2.6 0a1.3 1.3 0 1 0 -2.6 0M285.7 182.9a1.3 1.3 0 1 0 2.6 0a1.3 1.3 0 1 0 -2.6 0M287.3 178.1a1.3 1.3 0 1 0 2.6 0a1.3 1.3 0 1 0 -2.6 0M287.7 181.2a1.3 1.3 0 1 0 2.6 0a1.3 1.3 0 1 0 -2.6 0M288.1 177.4a1.3 1.3 0 1 0 2.6 0a1.3 1.3 0 1 0 -2.6 0M289.7 181.0a1.3 1.3 0 1 0 2.6 0a1.3 1.3 0 1 0 -2.6 0M290.0 180.6a1.3 1.3 0 1 0 2.6 0a1.3 1.3 0 1 0 -2.6 0M290.4 185.5a1.3 1.3 0 1 0 2.6 0a1.3 1.3 0 1 0 -2.6 0M290.7 177.2a1.3 1.3 0 1 0 2.6 0a1.3 1.3 0 1 0 -2.6 0M291.0 175.3a1.3 1.3 0 1 0 2.6 0a1.3 1.3 0 1 0 -2.6 0M291.4 175.1a1.3 1.3 0 1 0 2.6 0a1.3 1.3 0 1 0 -2.6 0M291.7 170.6a1.3 1.3 0 1 0 2.6 0a1.3 1.3 0 1 0 -2.6 0M292.1 174.9a1.3 1.3 0 1 0 2.6 0a1.3 1.3 0 1 0 -2.6 0M293.7 173.3a1.3 1.3 0 1 0 2.6 0a1.3 1.3 0 1 0 -2.6 0M294.0 180.2a1.3 1.3 0 1 0 2.6 0a1.3 1.3 0 1 0 -2.6 0M294.4 174.4a1.3 1.3 0 1 0 2.6 0a1.3 1.3 0 1 0 -2.6 0M294.7 178.1a1.3 1.3 0 1 0 2.6 0a1.3 1.3 0 1 0 -2.6 0M295.0 170.2a1.3 1.3 0 1 0 2.6 0a1.3 1.3 0 1 0 -2.6 0M295.4 173.7a1.3 1.3 0 1 0 2.6 0a1.3 1.3 0 1 0 -2.6 0M295.7 167.6a1.3 1.3 0 1 0 2.6 0a1.3 1.3 0 1 0 -2.6 0M296.0 176.0a1.3 1.3 0 1 0 2.6 0a1.3 1.3 0 1 0 -2.6 0M296.4 184.7a1.3 1.3 0 1 0 2.6 0a1.3 1.3 0 1 0 -2.6 0M296.7 184.9a1.3 1.3 0 1 0 2.6 0a1.3 1.3 0 1 0 -2.6 0M297.0 180.7a1.3 1.3 0 1 0 2.6 0a1.3 1.3 0 1 0 -2.6 0M297.4 179.9a1.3 1.3 0 1 0 2.6 0a1.3 1.3 0 1 0 -2.6 0M297.7 173.5a1.3 1.3 0 1 0 2.6 0a1.3 1.3 0 1 0 -2.6 0M298.0 181.2a1.3 1.3 0 1 0 2.6 0a1.3 1.3 0 1 0 -2.6 0M298.4 180.3a1.3 1.3 0 1 0 2.6 0a1.3 1.3 0 1 0 -2.6 0M298.7 199.2a1.3 1.3 0 1 0 2.6 0a1.3 1.3 0 1 0 -2.6 0M299.0 193.1a1.3 1.3 0 1 0 2.6 0a1.3 1.3 0 1 0 -2.6 0M299.4 191.2a1.3 1.3 0 1 0 2.6 0a1.3 1.3 0 1 0 -2.6 0M301.0 185.0a1.3 1.3 0 1 0 2.6 0a1.3 1.3 0 1 0 -2.6 0M301.4 185.1a1.3 1.3 0 1 0 2.6 0a1.3 1.3 0 1 0 -2.6 0M301.7 187.4a1.3 1.3 0 1 0 2.6 0a1.3 1.3 0 1 0 -2.6 0M302.0 179.0a1.3 1.3 0 1 0 2.6 0a1.3 1.3 0 1 0 -2.6 0M302.4 184.7a1.3 1.3 0 1 0 2.6 0a1.3 1.3 0 1 0 -2.6 0M302.7 191.7a1.3 1.3 0 1 0 2.6 0a1.3 1.3 0 1 0 -2.6 0M303.0 184.7a1.3 1.3 0 1 0 2.6 0a1.3 1.3 0 1 0 -2.6 0M303.4 189.6a1.3 1.3 0 1 0 2.6 0a1.3 1.3 0 1 0 -2.6 0M303.7 188.0a1.3 1.3 0 1 0 2.6 0a1.3 1.3 0 1 0 -2.6 0M304.0 186.6a1.3 1.3 0 1 0 2.6 0a1.3 1.3 0 1 0 -2.6 0M304.4 186.3a1.3 1.3 0 1 0 2.6 0a1.3 1.3 0 1 0 -2.6 0M304.7 189.5a1.3 1.3 0 1 0 2.6 0a1.3 1.3 0 1 0 -2.6 0M305.0 186.9a1.3 1.3 0 1 0 2.6 0a1.3 1.3 0 1 0 -2.6 0M305.4 189.8a1.3 1.3 0 1 0 2.6 0a1.3 1.3 0 1 0 -2.6 0M305.7 190.4a1.3 1.3 0 1 0 2.6 0a1.3 1.3 0 1 0 -2.6 0M306.0 174.4a1.3 1.3 0 1 0 2.6 0a1.3 1.3 0 1 0 -2.6 0M306.4 178.8a1.3 1.3 0 1 0 2.6 0a1.3 1.3 0 1 0 -2.6 0M306.7 174.3a1.3 1.3 0 1 0 2.6 0a1.3 1.3 0 1 0 -2.6 0M307.0 175.3a1.3 1.3 0 1 0 2.6 0a1.3 1.3 0 1 0 -2.6 0M307.4 182.1a1.3 1.3 0 1 0 2.6 0a1.3 1.3 0 1 0 -2.6 0M307.7 177.5a1.3 1.3 0 1 0 2.6 0a1.3 1.3 0 1 0 -2.6 0M308.0 180.4a1.3 1.3 0 1 0 2.6 0a1.3 1.3 0 1 0 -2.6 0M308.4 188.4a1.3 1.3 0 1 0 2.6 0a1.3 1.3 0 1 0 -2.6 0M308.7 190.1a1.3 1.3 0 1 0 2.6 0a1.3 1.3 0 1 0 -2.6 0M309.0 191.3a1.3 1.3 0 1 0 2.6 0a1.3 1.3 0 1 0 -2.6 0M309.4 186.8a1.3 1.3 0 1 0 2.6 0a1.3 1.3 0 1 0 -2.6 0M309.7 178.0a1.3 1.3 0 1 0 2.6 0a1.3 1.3 0 1 0 -2.6 0M310.0 182.9a1.3 1.3 0 1 0 2.6 0a1.3 1.3 0 1 0 -2.6 0M310.4 181.6a1.3 1.3 0 1 0 2.6 0a1.3 1.3 0 1 0 -2.6 0M310.7 180.6a1.3 1.3 0 1 0 2.6 0a1.3 1.3 0 1 0 -2.6 0M311.0 184.0a1.3 1.3 0 1 0 2.6 0a1.3 1.3 0 1 0 -2.6 0M311.4 182.8a1.3 1.3 0 1 0 2.6 0a1.3 1.3 0 1 0 -2.6 0M311.7 175.6a1.3 1.3 0 1 0 2.6 0a1.3 1.3 0 1 0 -2.6 0M312.0 180.7a1.3 1.3 0 1 0 2.6 0a1.3 1.3 0 1 0 -2.6 0M312.4 184.9a1.3 1.3 0 1 0 2.6 0a1.3 1.3 0 1 0 -2.6 0M312.7 191.6a1.3 1.3 0 1 0 2.6 0a1.3 1.3 0 1 0 -2.6 0M313.0 183.6a1.3 1.3 0 1 0 2.6 0a1.3 1.3 0 1 0 -2.6 0M313.4 181.5a1.3 1.3 0 1 0 2.6 0a1.3 1.3 0 1 0 -2.6 0M313.7 173.6a1.3 1.3 0 1 0 2.6 0a1.3 1.3 0 1 0 -2.6 0M314.0 183.9a1.3 1.3 0 1 0 2.6 0a1.3 1.3 0 1 0 -2.6 0M314.4 183.1a1.3 1.3 0 1 0 2.6 0a1.3 1.3 0 1 0 -2.6 0M314.7 183.0a1.3 1.3 0 1 0 2.6 0a1.3 1.3 0 1 0 -2.6 0M315.0 186.2a1.3 1.3 0 1 0 2.6 0a1.3 1.3 0 1 0 -2.6 0M315.4 181.5a1.3 1.3 0 1 0 2.6 0a1.3 1.3 0 1 0 -2.6 0M315.7 178.4a1.3 1.3 0 1 0 2.6 0a1.3 1.3 0 1 0 -2.6 0M316.0 179.3a1.3 1.3 0 1 0 2.6 0a1.3 1.3 0 1 0 -2.6 0M316.4 186.6a1.3 1.3 0 1 0 2.6 0a1.3 1.3 0 1 0 -2.6 0M316.7 191.4a1.3 1.3 0 1 0 2.6 0a1.3 1.3 0 1 0 -2.6 0M317.0 193.4a1.3 1.3 0 1 0 2.6 0a1.3 1.3 0 1 0 -2.6 0M317.4 185.9a1.3 1.3 0 1 0 2.6 0a1.3 1.3 0 1 0 -2.6 0M317.7 181.0a1.3 1.3 0 1 0 2.6 0a1.3 1.3 0 1 0 -2.6 0M318.0 180.6a1.3 1.3 0 1 0 2.6 0a1.3 1.3 0 1 0 -2.6 0M318.4 188.9a1.3 1.3 0 1 0 2.6 0a1.3 1.3 0 1 0 -2.6 0M318.7 184.8a1.3 1.3 0 1 0 2.6 0a1.3 1.3 0 1 0 -2.6 0M319.0 192.9a1.3 1.3 0 1 0 2.6 0a1.3 1.3 0 1 0 -2.6 0M319.4 197.3a1.3 1.3 0 1 0 2.6 0a1.3 1.3 0 1 0 -2.6 0M319.7 192.2a1.3 1.3 0 1 0 2.6 0a1.3 1.3 0 1 0 -2.6 0M320.0 187.4a1.3 1.3 0 1 0 2.6 0a1.3 1.3 0 1 0 -2.6 0M320.4 190.4a1.3 1.3 0 1 0 2.6 0a1.3 1.3 0 1 0 -2.6 0M320.7 181.2a1.3 1.3 0 1 0 2.6 0a1.3 1.3 0 1 0 -2.6 0M321.0 186.1a1.3 1.3 0 1 0 2.6 0a1.3 1.3 0 1 0 -2.6 0M321.4 184.5a1.3 1.3 0 1 0 2.6 0a1.3 1.3 0 1 0 -2.6 0M321.7 189.2a1.3 1.3 0 1 0 2.6 0a1.3 1.3 0 1 0 -2.6 0M322.0 183.9a1.3 1.3 0 1 0 2.6 0a1.3 1.3 0 1 0 -2.6 0M322.4 175.8a1.3 1.3 0 1 0 2.6 0a1.3 1.3 0 1 0 -2.6 0M322.7 173.3a1.3 1.3 0 1 0 2.6 0a1.3 1.3 0 1 0 -2.6 0M323.0 174.1a1.3 1.3 0 1 0 2.6 0a1.3 1.3 0 1 0 -2.6 0M323.4 177.6a1.3 1.3 0 1 0 2.6 0a1.3 1.3 0 1 0 -2.6 0M323.7 182.4a1.3 1.3 0 1 0 2.6 0a1.3 1.3 0 1 0 -2.6 0M324.0 185.1a1.3 1.3 0 1 0 2.6 0a1.3 1.3 0 1 0 -2.6 0M324.4 180.6a1.3 1.3 0 1 0 2.6 0a1.3 1.3 0 1 0 -2.6 0M324.7 183.7a1.3 1.3 0 1 0 2.6 0a1.3 1.3 0 1 0 -2.6 0M325.0 182.0a1.3 1.3 0 1 0 2.6 0a1.3 1.3 0 1 0 -2.6 0M325.4 180.3a1.3 1.3 0 1 0 2.6 0a1.3 1.3 0 1 0 -2.6 0M325.7 186.4a1.3 1.3 0 1 0 2.6 0a1.3 1.3 0 1 0 -2.6 0M326.0 185.4a1.3 1.3 0 1 0 2.6 0a1.3 1.3 0 1 0 -2.6 0M326.4 180.6a1.3 1.3 0 1 0 2.6 0a1.3 1.3 0 1 0 -2.6 0M326.7 176.0a1.3 1.3 0 1 0 2.6 0a1.3 1.3 0 1 0 -2.6 0M327.0 177.2a1.3 1.3 0 1 0 2.6 0a1.3 1.3 0 1 0 -2.6 0M327.4 177.4a1.3 1.3 0 1 0 2.6 0a1.3 1.3 0 1 0 -2.6 0M327.7 183.8a1.3 1.3 0 1 0 2.6 0a1.3 1.3 0 1 0 -2.6 0M328.0 177.5a1.3 1.3 0 1 0 2.6 0a1.3 1.3 0 1 0 -2.6 0M328.4 181.0a1.3 1.3 0 1 0 2.6 0a1.3 1.3 0 1 0 -2.6 0M328.7 177.9a1.3 1.3 0 1 0 2.6 0a1.3 1.3 0 1 0 -2.6 0M329.0 177.3a1.3 1.3 0 1 0 2.6 0a1.3 1.3 0 1 0 -2.6 0M329.4 179.1a1.3 1.3 0 1 0 2.6 0a1.3 1.3 0 1 0 -2.6 0M329.7 177.0a1.3 1.3 0 1 0 2.6 0a1.3 1.3 0 1 0 -2.6 0M330.0 183.8a1.3 1.3 0 1 0 2.6 0a1.3 1.3 0 1 0 -2.6 0M330.4 189.0a1.3 1.3 0 1 0 2.6 0a1.3 1.3 0 1 0 -2.6 0M330.7 186.8a1.3 1.3 0 1 0 2.6 0a1.3 1.3 0 1 0 -2.6 0M331.0 179.1a1.3 1.3 0 1 0 2.6 0a1.3 1.3 0 1 0 -2.6 0M331.4 192.3a1.3 1.3 0 1 0 2.6 0a1.3 1.3 0 1 0 -2.6 0M331.7 190.3a1.3 1.3 0 1 0 2.6 0a1.3 1.3 0 1 0 -2.6 0M332.0 187.8a1.3 1.3 0 1 0 2.6 0a1.3 1.3 0 1 0 -2.6 0M332.4 188.3a1.3 1.3 0 1 0 2.6 0a1.3 1.3 0 1 0 -2.6 0M332.7 191.4a1.3 1.3 0 1 0 2.6 0a1.3 1.3 0 1 0 -2.6 0M333.0 187.0a1.3 1.3 0 1 0 2.6 0a1.3 1.3 0 1 0 -2.6 0M333.4 185.1a1.3 1.3 0 1 0 2.6 0a1.3 1.3 0 1 0 -2.6 0M333.7 188.0a1.3 1.3 0 1 0 2.6 0a1.3 1.3 0 1 0 -2.6 0M334.3 188.9a1.3 1.3 0 1 0 2.6 0a1.3 1.3 0 1 0 -2.6 0M335.9 195.3a1.3 1.3 0 1 0 2.6 0a1.3 1.3 0 1 0 -2.6 0M336.4 181.7a1.3 1.3 0 1 0 2.6 0a1.3 1.3 0 1 0 -2.6 0M336.7 182.2a1.3 1.3 0 1 0 2.6 0a1.3 1.3 0 1 0 -2.6 0M337.0 189.2a1.3 1.3 0 1 0 2.6 0a1.3 1.3 0 1 0 -2.6 0M337.4 194.9a1.3 1.3 0 1 0 2.6 0a1.3 1.3 0 1 0 -2.6 0M337.7 191.6a1.3 1.3 0 1 0 2.6 0a1.3 1.3 0 1 0 -2.6 0M338.0 192.5a1.3 1.3 0 1 0 2.6 0a1.3 1.3 0 1 0 -2.6 0M338.4 188.0a1.3 1.3 0 1 0 2.6 0a1.3 1.3 0 1 0 -2.6 0M338.7 188.0a1.3 1.3 0 1 0 2.6 0a1.3 1.3 0 1 0 -2.6 0M339.0 190.4a1.3 1.3 0 1 0 2.6 0a1.3 1.3 0 1 0 -2.6 0M339.4 187.2a1.3 1.3 0 1 0 2.6 0a1.3 1.3 0 1 0 -2.6 0M339.7 200.7a1.3 1.3 0 1 0 2.6 0a1.3 1.3 0 1 0 -2.6 0M340.0 190.9a1.3 1.3 0 1 0 2.6 0a1.3 1.3 0 1 0 -2.6 0M340.4 192.1a1.3 1.3 0 1 0 2.6 0a1.3 1.3 0 1 0 -2.6 0M340.7 195.3a1.3 1.3 0 1 0 2.6 0a1.3 1.3 0 1 0 -2.6 0M341.0 188.6a1.3 1.3 0 1 0 2.6 0a1.3 1.3 0 1 0 -2.6 0M341.4 185.5a1.3 1.3 0 1 0 2.6 0a1.3 1.3 0 1 0 -2.6 0M341.7 186.6a1.3 1.3 0 1 0 2.6 0a1.3 1.3 0 1 0 -2.6 0M342.0 186.9a1.3 1.3 0 1 0 2.6 0a1.3 1.3 0 1 0 -2.6 0M342.4 190.5a1.3 1.3 0 1 0 2.6 0a1.3 1.3 0 1 0 -2.6 0M342.9 189.1a1.3 1.3 0 1 0 2.6 0a1.3 1.3 0 1 0 -2.6 0M344.5 188.4a1.3 1.3 0 1 0 2.6 0a1.3 1.3 0 1 0 -2.6 0M345.0 190.6a1.3 1.3 0 1 0 2.6 0a1.3 1.3 0 1 0 -2.6 0M345.4 188.5a1.3 1.3 0 1 0 2.6 0a1.3 1.3 0 1 0 -2.6 0M345.7 193.4a1.3 1.3 0 1 0 2.6 0a1.3 1.3 0 1 0 -2.6 0M346.0 192.1a1.3 1.3 0 1 0 2.6 0a1.3 1.3 0 1 0 -2.6 0M346.4 186.9a1.3 1.3 0 1 0 2.6 0a1.3 1.3 0 1 0 -2.6 0M346.7 194.6a1.3 1.3 0 1 0 2.6 0a1.3 1.3 0 1 0 -2.6 0M347.0 194.2a1.3 1.3 0 1 0 2.6 0a1.3 1.3 0 1 0 -2.6 0M347.4 192.8a1.3 1.3 0 1 0 2.6 0a1.3 1.3 0 1 0 -2.6 0M347.7 191.8a1.3 1.3 0 1 0 2.6 0a1.3 1.3 0 1 0 -2.6 0M348.0 192.9a1.3 1.3 0 1 0 2.6 0a1.3 1.3 0 1 0 -2.6 0M348.4 191.9a1.3 1.3 0 1 0 2.6 0a1.3 1.3 0 1 0 -2.6 0M348.7 190.7a1.3 1.3 0 1 0 2.6 0a1.3 1.3 0 1 0 -2.6 0M349.0 187.7a1.3 1.3 0 1 0 2.6 0a1.3 1.3 0 1 0 -2.6 0M349.4 189.2a1.3 1.3 0 1 0 2.6 0a1.3 1.3 0 1 0 -2.6 0M349.7 192.6a1.3 1.3 0 1 0 2.6 0a1.3 1.3 0 1 0 -2.6 0M350.0 184.0a1.3 1.3 0 1 0 2.6 0a1.3 1.3 0 1 0 -2.6 0M350.4 194.4a1.3 1.3 0 1 0 2.6 0a1.3 1.3 0 1 0 -2.6 0M350.7 184.6a1.3 1.3 0 1 0 2.6 0a1.3 1.3 0 1 0 -2.6 0M351.0 193.0a1.3 1.3 0 1 0 2.6 0a1.3 1.3 0 1 0 -2.6 0M351.4 195.6a1.3 1.3 0 1 0 2.6 0a1.3 1.3 0 1 0 -2.6 0M351.7 194.1a1.3 1.3 0 1 0 2.6 0a1.3 1.3 0 1 0 -2.6 0M352.0 193.3a1.3 1.3 0 1 0 2.6 0a1.3 1.3 0 1 0 -2.6 0M352.4 194.7a1.3 1.3 0 1 0 2.6 0a1.3 1.3 0 1 0 -2.6 0M352.7 196.3a1.3 1.3 0 1 0 2.6 0a1.3 1.3 0 1 0 -2.6 0M353.0 200.3a1.3 1.3 0 1 0 2.6 0a1.3 1.3 0 1 0 -2.6 0M353.4 196.2a1.3 1.3 0 1 0 2.6 0a1.3 1.3 0 1 0 -2.6 0M353.7 190.8a1.3 1.3 0 1 0 2.6 0a1.3 1.3 0 1 0 -2.6 0M354.0 198.5a1.3 1.3 0 1 0 2.6 0a1.3 1.3 0 1 0 -2.6 0M354.4 196.8a1.3 1.3 0 1 0 2.6 0a1.3 1.3 0 1 0 -2.6 0M354.7 199.7a1.3 1.3 0 1 0 2.6 0a1.3 1.3 0 1 0 -2.6 0M355.0 198.7a1.3 1.3 0 1 0 2.6 0a1.3 1.3 0 1 0 -2.6 0M355.4 195.5a1.3 1.3 0 1 0 2.6 0a1.3 1.3 0 1 0 -2.6 0M355.7 192.8a1.3 1.3 0 1 0 2.6 0a1.3 1.3 0 1 0 -2.6 0M356.0 194.7a1.3 1.3 0 1 0 2.6 0a1.3 1.3 0 1 0 -2.6 0M356.4 193.3a1.3 1.3 0 1 0 2.6 0a1.3 1.3 0 1 0 -2.6 0M356.9 186.5a1.3 1.3 0 1 0 2.6 0a1.3 1.3 0 1 0 -2.6 0M358.5 192.1a1.3 1.3 0 1 0 2.6 0a1.3 1.3 0 1 0 -2.6 0M359.0 193.4a1.3 1.3 0 1 0 2.6 0a1.3 1.3 0 1 0 -2.6 0M359.4 190.0a1.3 1.3 0 1 0 2.6 0a1.3 1.3 0 1 0 -2.6 0M359.7 192.9a1.3 1.3 0 1 0 2.6 0a1.3 1.3 0 1 0 -2.6 0M360.0 192.4a1.3 1.3 0 1 0 2.6 0a1.3 1.3 0 1 0 -2.6 0M360.4 194.0a1.3 1.3 0 1 0 2.6 0a1.3 1.3 0 1 0 -2.6 0M360.7 195.4a1.3 1.3 0 1 0 2.6 0a1.3 1.3 0 1 0 -2.6 0M361.0 188.7a1.3 1.3 0 1 0 2.6 0a1.3 1.3 0 1 0 -2.6 0M361.4 193.2a1.3 1.3 0 1 0 2.6 0a1.3 1.3 0 1 0 -2.6 0M361.7 180.0a1.3 1.3 0 1 0 2.6 0a1.3 1.3 0 1 0 -2.6 0M362.0 182.9a1.3 1.3 0 1 0 2.6 0a1.3 1.3 0 1 0 -2.6 0M362.4 191.4a1.3 1.3 0 1 0 2.6 0a1.3 1.3 0 1 0 -2.6 0M362.7 189.3a1.3 1.3 0 1 0 2.6 0a1.3 1.3 0 1 0 -2.6 0M363.0 194.0a1.3 1.3 0 1 0 2.6 0a1.3 1.3 0 1 0 -2.6 0M363.4 194.8a1.3 1.3 0 1 0 2.6 0a1.3 1.3 0 1 0 -2.6 0M363.7 191.2a1.3 1.3 0 1 0 2.6 0a1.3 1.3 0 1 0 -2.6 0M364.0 192.9a1.3 1.3 0 1 0 2.6 0a1.3 1.3 0 1 0 -2.6 0M364.4 191.2a1.3 1.3 0 1 0 2.6 0a1.3 1.3 0 1 0 -2.6 0M364.7 188.5a1.3 1.3 0 1 0 2.6 0a1.3 1.3 0 1 0 -2.6 0M365.0 189.7a1.3 1.3 0 1 0 2.6 0a1.3 1.3 0 1 0 -2.6 0M365.4 191.6a1.3 1.3 0 1 0 2.6 0a1.3 1.3 0 1 0 -2.6 0M365.7 191.9a1.3 1.3 0 1 0 2.6 0a1.3 1.3 0 1 0 -2.6 0M366.0 189.9a1.3 1.3 0 1 0 2.6 0a1.3 1.3 0 1 0 -2.6 0M366.4 189.5a1.3 1.3 0 1 0 2.6 0a1.3 1.3 0 1 0 -2.6 0M366.7 192.1a1.3 1.3 0 1 0 2.6 0a1.3 1.3 0 1 0 -2.6 0M367.0 188.8a1.3 1.3 0 1 0 2.6 0a1.3 1.3 0 1 0 -2.6 0M367.4 191.5a1.3 1.3 0 1 0 2.6 0a1.3 1.3 0 1 0 -2.6 0M367.7 187.9a1.3 1.3 0 1 0 2.6 0a1.3 1.3 0 1 0 -2.6 0M368.0 195.9a1.3 1.3 0 1 0 2.6 0a1.3 1.3 0 1 0 -2.6 0M368.4 195.2a1.3 1.3 0 1 0 2.6 0a1.3 1.3 0 1 0 -2.6 0M368.7 186.3a1.3 1.3 0 1 0 2.6 0a1.3 1.3 0 1 0 -2.6 0M369.0 195.6a1.3 1.3 0 1 0 2.6 0a1.3 1.3 0 1 0 -2.6 0M369.4 185.2a1.3 1.3 0 1 0 2.6 0a1.3 1.3 0 1 0 -2.6 0M369.7 195.5a1.3 1.3 0 1 0 2.6 0a1.3 1.3 0 1 0 -2.6 0M370.0 193.8a1.3 1.3 0 1 0 2.6 0a1.3 1.3 0 1 0 -2.6 0M370.4 197.8a1.3 1.3 0 1 0 2.6 0a1.3 1.3 0 1 0 -2.6 0M370.7 197.4a1.3 1.3 0 1 0 2.6 0a1.3 1.3 0 1 0 -2.6 0M371.0 198.1a1.3 1.3 0 1 0 2.6 0a1.3 1.3 0 1 0 -2.6 0M371.4 191.3a1.3 1.3 0 1 0 2.6 0a1.3 1.3 0 1 0 -2.6 0M371.7 203.5a1.3 1.3 0 1 0 2.6 0a1.3 1.3 0 1 0 -2.6 0M372.0 197.7a1.3 1.3 0 1 0 2.6 0a1.3 1.3 0 1 0 -2.6 0M372.4 200.4a1.3 1.3 0 1 0 2.6 0a1.3 1.3 0 1 0 -2.6 0M372.7 195.7a1.3 1.3 0 1 0 2.6 0a1.3 1.3 0 1 0 -2.6 0M373.0 186.6a1.3 1.3 0 1 0 2.6 0a1.3 1.3 0 1 0 -2.6 0M373.4 183.0a1.3 1.3 0 1 0 2.6 0a1.3 1.3 0 1 0 -2.6 0M373.7 187.9a1.3 1.3 0 1 0 2.6 0a1.3 1.3 0 1 0 -2.6 0M374.0 186.2a1.3 1.3 0 1 0 2.6 0a1.3 1.3 0 1 0 -2.6 0M374.4 189.0a1.3 1.3 0 1 0 2.6 0a1.3 1.3 0 1 0 -2.6 0M374.7 194.7a1.3 1.3 0 1 0 2.6 0a1.3 1.3 0 1 0 -2.6 0M375.0 198.9a1.3 1.3 0 1 0 2.6 0a1.3 1.3 0 1 0 -2.6 0M375.4 192.7a1.3 1.3 0 1 0 2.6 0a1.3 1.3 0 1 0 -2.6 0M375.7 188.9a1.3 1.3 0 1 0 2.6 0a1.3 1.3 0 1 0 -2.6 0M376.0 192.8a1.3 1.3 0 1 0 2.6 0a1.3 1.3 0 1 0 -2.6 0M376.4 196.3a1.3 1.3 0 1 0 2.6 0a1.3 1.3 0 1 0 -2.6 0M376.7 205.4a1.3 1.3 0 1 0 2.6 0a1.3 1.3 0 1 0 -2.6 0M377.0 198.0a1.3 1.3 0 1 0 2.6 0a1.3 1.3 0 1 0 -2.6 0M377.4 198.5a1.3 1.3 0 1 0 2.6 0a1.3 1.3 0 1 0 -2.6 0M377.9 200.3a1.3 1.3 0 1 0 2.6 0a1.3 1.3 0 1 0 -2.6 0M379.5 200.5a1.3 1.3 0 1 0 2.6 0a1.3 1.3 0 1 0 -2.6 0M380.0 195.6a1.3 1.3 0 1 0 2.6 0a1.3 1.3 0 1 0 -2.6 0M380.4 190.9a1.3 1.3 0 1 0 2.6 0a1.3 1.3 0 1 0 -2.6 0M380.7 201.3a1.3 1.3 0 1 0 2.6 0a1.3 1.3 0 1 0 -2.6 0M381.0 194.0a1.3 1.3 0 1 0 2.6 0a1.3 1.3 0 1 0 -2.6 0M381.4 191.2a1.3 1.3 0 1 0 2.6 0a1.3 1.3 0 1 0 -2.6 0M381.7 189.1a1.3 1.3 0 1 0 2.6 0a1.3 1.3 0 1 0 -2.6 0M382.0 192.9a1.3 1.3 0 1 0 2.6 0a1.3 1.3 0 1 0 -2.6 0M382.4 196.6a1.3 1.3 0 1 0 2.6 0a1.3 1.3 0 1 0 -2.6 0M382.7 202.9a1.3 1.3 0 1 0 2.6 0a1.3 1.3 0 1 0 -2.6 0M383.0 197.2a1.3 1.3 0 1 0 2.6 0a1.3 1.3 0 1 0 -2.6 0M383.4 203.6a1.3 1.3 0 1 0 2.6 0a1.3 1.3 0 1 0 -2.6 0M383.7 197.4a1.3 1.3 0 1 0 2.6 0a1.3 1.3 0 1 0 -2.6 0M384.0 199.2a1.3 1.3 0 1 0 2.6 0a1.3 1.3 0 1 0 -2.6 0M384.4 201.3a1.3 1.3 0 1 0 2.6 0a1.3 1.3 0 1 0 -2.6 0M384.7 203.8a1.3 1.3 0 1 0 2.6 0a1.3 1.3 0 1 0 -2.6 0M385.0 196.9a1.3 1.3 0 1 0 2.6 0a1.3 1.3 0 1 0 -2.6 0M385.4 201.9a1.3 1.3 0 1 0 2.6 0a1.3 1.3 0 1 0 -2.6 0M385.7 200.5a1.3 1.3 0 1 0 2.6 0a1.3 1.3 0 1 0 -2.6 0M386.0 203.5a1.3 1.3 0 1 0 2.6 0a1.3 1.3 0 1 0 -2.6 0M386.4 191.7a1.3 1.3 0 1 0 2.6 0a1.3 1.3 0 1 0 -2.6 0M386.7 190.6a1.3 1.3 0 1 0 2.6 0a1.3 1.3 0 1 0 -2.6 0M387.0 194.6a1.3 1.3 0 1 0 2.6 0a1.3 1.3 0 1 0 -2.6 0M387.4 194.2a1.3 1.3 0 1 0 2.6 0a1.3 1.3 0 1 0 -2.6 0M387.7 195.2a1.3 1.3 0 1 0 2.6 0a1.3 1.3 0 1 0 -2.6 0M388.0 195.3a1.3 1.3 0 1 0 2.6 0a1.3 1.3 0 1 0 -2.6 0M388.4 190.4a1.3 1.3 0 1 0 2.6 0a1.3 1.3 0 1 0 -2.6 0M388.9 193.6a1.3 1.3 0 1 0 2.6 0a1.3 1.3 0 1 0 -2.6 0M390.5 198.6a1.3 1.3 0 1 0 2.6 0a1.3 1.3 0 1 0 -2.6 0M391.0 195.2a1.3 1.3 0 1 0 2.6 0a1.3 1.3 0 1 0 -2.6 0M391.4 201.4a1.3 1.3 0 1 0 2.6 0a1.3 1.3 0 1 0 -2.6 0M391.7 195.8a1.3 1.3 0 1 0 2.6 0a1.3 1.3 0 1 0 -2.6 0M392.3 186.1a1.3 1.3 0 1 0 2.6 0a1.3 1.3 0 1 0 -2.6 0M393.9 190.3a1.3 1.3 0 1 0 2.6 0a1.3 1.3 0 1 0 -2.6 0M394.4 188.5a1.3 1.3 0 1 0 2.6 0a1.3 1.3 0 1 0 -2.6 0M394.9 191.0a1.3 1.3 0 1 0 2.6 0a1.3 1.3 0 1 0 -2.6 0M396.5 197.4a1.3 1.3 0 1 0 2.6 0a1.3 1.3 0 1 0 -2.6 0M397.0 200.0a1.3 1.3 0 1 0 2.6 0a1.3 1.3 0 1 0 -2.6 0M397.4 194.7a1.3 1.3 0 1 0 2.6 0a1.3 1.3 0 1 0 -2.6 0M397.7 197.3a1.3 1.3 0 1 0 2.6 0a1.3 1.3 0 1 0 -2.6 0M398.0 192.1a1.3 1.3 0 1 0 2.6 0a1.3 1.3 0 1 0 -2.6 0M398.4 194.4a1.3 1.3 0 1 0 2.6 0a1.3 1.3 0 1 0 -2.6 0M398.7 198.4a1.3 1.3 0 1 0 2.6 0a1.3 1.3 0 1 0 -2.6 0M399.0 202.0a1.3 1.3 0 1 0 2.6 0a1.3 1.3 0 1 0 -2.6 0M399.4 203.7a1.3 1.3 0 1 0 2.6 0a1.3 1.3 0 1 0 -2.6 0M399.7 196.5a1.3 1.3 0 1 0 2.6 0a1.3 1.3 0 1 0 -2.6 0M400.0 201.2a1.3 1.3 0 1 0 2.6 0a1.3 1.3 0 1 0 -2.6 0M400.4 200.8a1.3 1.3 0 1 0 2.6 0a1.3 1.3 0 1 0 -2.6 0M400.7 201.2a1.3 1.3 0 1 0 2.6 0a1.3 1.3 0 1 0 -2.6 0M401.0 210.5a1.3 1.3 0 1 0 2.6 0a1.3 1.3 0 1 0 -2.6 0M401.4 203.5a1.3 1.3 0 1 0 2.6 0a1.3 1.3 0 1 0 -2.6 0M401.7 196.7a1.3 1.3 0 1 0 2.6 0a1.3 1.3 0 1 0 -2.6 0M402.0 198.9a1.3 1.3 0 1 0 2.6 0a1.3 1.3 0 1 0 -2.6 0M402.4 201.7a1.3 1.3 0 1 0 2.6 0a1.3 1.3 0 1 0 -2.6 0M402.7 195.4a1.3 1.3 0 1 0 2.6 0a1.3 1.3 0 1 0 -2.6 0M403.0 194.1a1.3 1.3 0 1 0 2.6 0a1.3 1.3 0 1 0 -2.6 0M403.4 196.8a1.3 1.3 0 1 0 2.6 0a1.3 1.3 0 1 0 -2.6 0M403.7 196.5a1.3 1.3 0 1 0 2.6 0a1.3 1.3 0 1 0 -2.6 0M404.0 198.5a1.3 1.3 0 1 0 2.6 0a1.3 1.3 0 1 0 -2.6 0M404.4 200.9a1.3 1.3 0 1 0 2.6 0a1.3 1.3 0 1 0 -2.6 0M404.7 190.8a1.3 1.3 0 1 0 2.6 0a1.3 1.3 0 1 0 -2.6 0M405.0 196.5a1.3 1.3 0 1 0 2.6 0a1.3 1.3 0 1 0 -2.6 0M405.4 196.1a1.3 1.3 0 1 0 2.6 0a1.3 1.3 0 1 0 -2.6 0M405.7 197.6a1.3 1.3 0 1 0 2.6 0a1.3 1.3 0 1 0 -2.6 0M406.0 192.5a1.3 1.3 0 1 0 2.6 0a1.3 1.3 0 1 0 -2.6 0M406.4 195.9a1.3 1.3 0 1 0 2.6 0a1.3 1.3 0 1 0 -2.6 0M406.7 199.3a1.3 1.3 0 1 0 2.6 0a1.3 1.3 0 1 0 -2.6 0M407.0 203.2a1.3 1.3 0 1 0 2.6 0a1.3 1.3 0 1 0 -2.6 0M407.4 202.7a1.3 1.3 0 1 0 2.6 0a1.3 1.3 0 1 0 -2.6 0M407.7 195.5a1.3 1.3 0 1 0 2.6 0a1.3 1.3 0 1 0 -2.6 0M408.0 196.3a1.3 1.3 0 1 0 2.6 0a1.3 1.3 0 1 0 -2.6 0M408.4 203.6a1.3 1.3 0 1 0 2.6 0a1.3 1.3 0 1 0 -2.6 0M408.7 200.3a1.3 1.3 0 1 0 2.6 0a1.3 1.3 0 1 0 -2.6 0M409.0 201.4a1.3 1.3 0 1 0 2.6 0a1.3 1.3 0 1 0 -2.6 0M409.4 201.2a1.3 1.3 0 1 0 2.6 0a1.3 1.3 0 1 0 -2.6 0M409.7 197.0a1.3 1.3 0 1 0 2.6 0a1.3 1.3 0 1 0 -2.6 0M410.3 198.5a1.3 1.3 0 1 0 2.6 0a1.3 1.3 0 1 0 -2.6 0M411.9 195.2a1.3 1.3 0 1 0 2.6 0a1.3 1.3 0 1 0 -2.6 0M412.4 193.9a1.3 1.3 0 1 0 2.6 0a1.3 1.3 0 1 0 -2.6 0M412.7 209.2a1.3 1.3 0 1 0 2.6 0a1.3 1.3 0 1 0 -2.6 0M413.0 196.5a1.3 1.3 0 1 0 2.6 0a1.3 1.3 0 1 0 -2.6 0M413.4 201.4a1.3 1.3 0 1 0 2.6 0a1.3 1.3 0 1 0 -2.6 0M413.7 198.3a1.3 1.3 0 1 0 2.6 0a1.3 1.3 0 1 0 -2.6 0M414.0 195.8a1.3 1.3 0 1 0 2.6 0a1.3 1.3 0 1 0 -2.6 0M414.4 195.4a1.3 1.3 0 1 0 2.6 0a1.3 1.3 0 1 0 -2.6 0M414.7 198.0a1.3 1.3 0 1 0 2.6 0a1.3 1.3 0 1 0 -2.6 0M415.0 198.1a1.3 1.3 0 1 0 2.6 0a1.3 1.3 0 1 0 -2.6 0M415.4 201.4a1.3 1.3 0 1 0 2.6 0a1.3 1.3 0 1 0 -2.6 0M415.7 198.0a1.3 1.3 0 1 0 2.6 0a1.3 1.3 0 1 0 -2.6 0M416.0 196.4a1.3 1.3 0 1 0 2.6 0a1.3 1.3 0 1 0 -2.6 0M416.4 199.6a1.3 1.3 0 1 0 2.6 0a1.3 1.3 0 1 0 -2.6 0M416.7 198.1a1.3 1.3 0 1 0 2.6 0a1.3 1.3 0 1 0 -2.6 0M417.0 198.6a1.3 1.3 0 1 0 2.6 0a1.3 1.3 0 1 0 -2.6 0M417.4 199.0a1.3 1.3 0 1 0 2.6 0a1.3 1.3 0 1 0 -2.6 0M417.7 193.9a1.3 1.3 0 1 0 2.6 0a1.3 1.3 0 1 0 -2.6 0M418.0 195.8a1.3 1.3 0 1 0 2.6 0a1.3 1.3 0 1 0 -2.6 0M418.4 195.3a1.3 1.3 0 1 0 2.6 0a1.3 1.3 0 1 0 -2.6 0M418.7 194.2a1.3 1.3 0 1 0 2.6 0a1.3 1.3 0 1 0 -2.6 0M419.0 198.2a1.3 1.3 0 1 0 2.6 0a1.3 1.3 0 1 0 -2.6 0M419.4 195.2a1.3 1.3 0 1 0 2.6 0a1.3 1.3 0 1 0 -2.6 0M419.7 200.0a1.3 1.3 0 1 0 2.6 0a1.3 1.3 0 1 0 -2.6 0M420.0 198.5a1.3 1.3 0 1 0 2.6 0a1.3 1.3 0 1 0 -2.6 0M420.4 197.4a1.3 1.3 0 1 0 2.6 0a1.3 1.3 0 1 0 -2.6 0M420.7 204.6a1.3 1.3 0 1 0 2.6 0a1.3 1.3 0 1 0 -2.6 0M421.0 201.2a1.3 1.3 0 1 0 2.6 0a1.3 1.3 0 1 0 -2.6 0M421.4 197.9a1.3 1.3 0 1 0 2.6 0a1.3 1.3 0 1 0 -2.6 0M421.7 204.4a1.3 1.3 0 1 0 2.6 0a1.3 1.3 0 1 0 -2.6 0M422.0 198.7a1.3 1.3 0 1 0 2.6 0a1.3 1.3 0 1 0 -2.6 0M422.4 199.5a1.3 1.3 0 1 0 2.6 0a1.3 1.3 0 1 0 -2.6 0M422.7 204.6a1.3 1.3 0 1 0 2.6 0a1.3 1.3 0 1 0 -2.6 0M423.0 195.5a1.3 1.3 0 1 0 2.6 0a1.3 1.3 0 1 0 -2.6 0M423.4 200.2a1.3 1.3 0 1 0 2.6 0a1.3 1.3 0 1 0 -2.6 0M423.7 191.5a1.3 1.3 0 1 0 2.6 0a1.3 1.3 0 1 0 -2.6 0M424.0 197.7a1.3 1.3 0 1 0 2.6 0a1.3 1.3 0 1 0 -2.6 0M424.4 198.7a1.3 1.3 0 1 0 2.6 0a1.3 1.3 0 1 0 -2.6 0M424.7 201.1a1.3 1.3 0 1 0 2.6 0a1.3 1.3 0 1 0 -2.6 0M425.0 199.2a1.3 1.3 0 1 0 2.6 0a1.3 1.3 0 1 0 -2.6 0M425.4 191.6a1.3 1.3 0 1 0 2.6 0a1.3 1.3 0 1 0 -2.6 0M425.7 199.3a1.3 1.3 0 1 0 2.6 0a1.3 1.3 0 1 0 -2.6 0M426.0 198.8a1.3 1.3 0 1 0 2.6 0a1.3 1.3 0 1 0 -2.6 0M426.4 198.1a1.3 1.3 0 1 0 2.6 0a1.3 1.3 0 1 0 -2.6 0M426.7 196.1a1.3 1.3 0 1 0 2.6 0a1.3 1.3 0 1 0 -2.6 0M427.0 197.0a1.3 1.3 0 1 0 2.6 0a1.3 1.3 0 1 0 -2.6 0M427.4 192.6a1.3 1.3 0 1 0 2.6 0a1.3 1.3 0 1 0 -2.6 0M427.7 190.6a1.3 1.3 0 1 0 2.6 0a1.3 1.3 0 1 0 -2.6 0M428.0 196.3a1.3 1.3 0 1 0 2.6 0a1.3 1.3 0 1 0 -2.6 0M428.4 196.1a1.3 1.3 0 1 0 2.6 0a1.3 1.3 0 1 0 -2.6 0M428.7 194.3a1.3 1.3 0 1 0 2.6 0a1.3 1.3 0 1 0 -2.6 0M429.0 208.3a1.3 1.3 0 1 0 2.6 0a1.3 1.3 0 1 0 -2.6 0M429.4 204.1a1.3 1.3 0 1 0 2.6 0a1.3 1.3 0 1 0 -2.6 0M429.7 207.0a1.3 1.3 0 1 0 2.6 0a1.3 1.3 0 1 0 -2.6 0M430.0 207.4a1.3 1.3 0 1 0 2.6 0a1.3 1.3 0 1 0 -2.6 0M430.4 199.9a1.3 1.3 0 1 0 2.6 0a1.3 1.3 0 1 0 -2.6 0M430.7 200.3a1.3 1.3 0 1 0 2.6 0a1.3 1.3 0 1 0 -2.6 0M431.0 203.8a1.3 1.3 0 1 0 2.6 0a1.3 1.3 0 1 0 -2.6 0M431.4 196.4a1.3 1.3 0 1 0 2.6 0a1.3 1.3 0 1 0 -2.6 0M431.7 200.4a1.3 1.3 0 1 0 2.6 0a1.3 1.3 0 1 0 -2.6 0M432.0 201.3a1.3 1.3 0 1 0 2.6 0a1.3 1.3 0 1 0 -2.6 0M432.4 197.5a1.3 1.3 0 1 0 2.6 0a1.3 1.3 0 1 0 -2.6 0M432.7 201.8a1.3 1.3 0 1 0 2.6 0a1.3 1.3 0 1 0 -2.6 0M433.0 199.9a1.3 1.3 0 1 0 2.6 0a1.3 1.3 0 1 0 -2.6 0M433.4 195.7a1.3 1.3 0 1 0 2.6 0a1.3 1.3 0 1 0 -2.6 0M433.7 198.2a1.3 1.3 0 1 0 2.6 0a1.3 1.3 0 1 0 -2.6 0M434.0 198.9a1.3 1.3 0 1 0 2.6 0a1.3 1.3 0 1 0 -2.6 0M434.4 198.1a1.3 1.3 0 1 0 2.6 0a1.3 1.3 0 1 0 -2.6 0M434.9 198.5a1.3 1.3 0 1 0 2.6 0a1.3 1.3 0 1 0 -2.6 0M436.5 193.8a1.3 1.3 0 1 0 2.6 0a1.3 1.3 0 1 0 -2.6 0M437.0 203.6a1.3 1.3 0 1 0 2.6 0a1.3 1.3 0 1 0 -2.6 0M437.4 202.2a1.3 1.3 0 1 0 2.6 0a1.3 1.3 0 1 0 -2.6 0M437.7 206.5a1.3 1.3 0 1 0 2.6 0a1.3 1.3 0 1 0 -2.6 0M438.0 195.7a1.3 1.3 0 1 0 2.6 0a1.3 1.3 0 1 0 -2.6 0M438.4 204.0a1.3 1.3 0 1 0 2.6 0a1.3 1.3 0 1 0 -2.6 0M438.7 205.0a1.3 1.3 0 1 0 2.6 0a1.3 1.3 0 1 0 -2.6 0M439.0 202.0a1.3 1.3 0 1 0 2.6 0a1.3 1.3 0 1 0 -2.6 0M439.4 200.3a1.3 1.3 0 1 0 2.6 0a1.3 1.3 0 1 0 -2.6 0M439.7 197.5a1.3 1.3 0 1 0 2.6 0a1.3 1.3 0 1 0 -2.6 0M440.0 201.6a1.3 1.3 0 1 0 2.6 0a1.3 1.3 0 1 0 -2.6 0M440.4 196.8a1.3 1.3 0 1 0 2.6 0a1.3 1.3 0 1 0 -2.6 0M440.7 196.6a1.3 1.3 0 1 0 2.6 0a1.3 1.3 0 1 0 -2.6 0M441.0 196.9a1.3 1.3 0 1 0 2.6 0a1.3 1.3 0 1 0 -2.6 0M441.4 203.7a1.3 1.3 0 1 0 2.6 0a1.3 1.3 0 1 0 -2.6 0M441.7 203.6a1.3 1.3 0 1 0 2.6 0a1.3 1.3 0 1 0 -2.6 0M442.0 204.1a1.3 1.3 0 1 0 2.6 0a1.3 1.3 0 1 0 -2.6 0M442.4 201.9a1.3 1.3 0 1 0 2.6 0a1.3 1.3 0 1 0 -2.6 0M442.7 195.7a1.3 1.3 0 1 0 2.6 0a1.3 1.3 0 1 0 -2.6 0M443.0 203.0a1.3 1.3 0 1 0 2.6 0a1.3 1.3 0 1 0 -2.6 0M443.4 201.9a1.3 1.3 0 1 0 2.6 0a1.3 1.3 0 1 0 -2.6 0M443.7 202.7a1.3 1.3 0 1 0 2.6 0a1.3 1.3 0 1 0 -2.6 0M444.0 209.6a1.3 1.3 0 1 0 2.6 0a1.3 1.3 0 1 0 -2.6 0M444.4 206.0a1.3 1.3 0 1 0 2.6 0a1.3 1.3 0 1 0 -2.6 0M444.7 202.6a1.3 1.3 0 1 0 2.6 0a1.3 1.3 0 1 0 -2.6 0M445.0 199.8a1.3 1.3 0 1 0 2.6 0a1.3 1.3 0 1 0 -2.6 0M445.4 199.4a1.3 1.3 0 1 0 2.6 0a1.3 1.3 0 1 0 -2.6 0M445.7 192.2a1.3 1.3 0 1 0 2.6 0a1.3 1.3 0 1 0 -2.6 0M446.0 198.2a1.3 1.3 0 1 0 2.6 0a1.3 1.3 0 1 0 -2.6 0M446.4 190.4a1.3 1.3 0 1 0 2.6 0a1.3 1.3 0 1 0 -2.6 0M446.7 197.2a1.3 1.3 0 1 0 2.6 0a1.3 1.3 0 1 0 -2.6 0M447.0 201.5a1.3 1.3 0 1 0 2.6 0a1.3 1.3 0 1 0 -2.6 0M447.4 199.9a1.3 1.3 0 1 0 2.6 0a1.3 1.3 0 1 0 -2.6 0M447.7 197.6a1.3 1.3 0 1 0 2.6 0a1.3 1.3 0 1 0 -2.6 0M448.0 196.5a1.3 1.3 0 1 0 2.6 0a1.3 1.3 0 1 0 -2.6 0M448.4 197.0a1.3 1.3 0 1 0 2.6 0a1.3 1.3 0 1 0 -2.6 0M448.7 207.8a1.3 1.3 0 1 0 2.6 0a1.3 1.3 0 1 0 -2.6 0M449.0 195.5a1.3 1.3 0 1 0 2.6 0a1.3 1.3 0 1 0 -2.6 0M449.4 199.6a1.3 1.3 0 1 0 2.6 0a1.3 1.3 0 1 0 -2.6 0M449.7 203.2a1.3 1.3 0 1 0 2.6 0a1.3 1.3 0 1 0 -2.6 0M450.0 198.0a1.3 1.3 0 1 0 2.6 0a1.3 1.3 0 1 0 -2.6 0M450.4 192.6a1.3 1.3 0 1 0 2.6 0a1.3 1.3 0 1 0 -2.6 0M450.7 186.4a1.3 1.3 0 1 0 2.6 0a1.3 1.3 0 1 0 -2.6 0M451.0 190.4a1.3 1.3 0 1 0 2.6 0a1.3 1.3 0 1 0 -2.6 0M451.4 194.7a1.3 1.3 0 1 0 2.6 0a1.3 1.3 0 1 0 -2.6 0M451.7 204.5a1.3 1.3 0 1 0 2.6 0a1.3 1.3 0 1 0 -2.6 0M452.0 199.1a1.3 1.3 0 1 0 2.6 0a1.3 1.3 0 1 0 -2.6 0M452.4 198.1a1.3 1.3 0 1 0 2.6 0a1.3 1.3 0 1 0 -2.6 0M452.7 194.6a1.3 1.3 0 1 0 2.6 0a1.3 1.3 0 1 0 -2.6 0M453.0 206.4a1.3 1.3 0 1 0 2.6 0a1.3 1.3 0 1 0 -2.6 0M453.4 201.7a1.3 1.3 0 1 0 2.6 0a1.3 1.3 0 1 0 -2.6 0M453.7 208.3a1.3 1.3 0 1 0 2.6 0a1.3 1.3 0 1 0 -2.6 0M454.0 207.5a1.3 1.3 0 1 0 2.6 0a1.3 1.3 0 1 0 -2.6 0M454.4 209.5a1.3 1.3 0 1 0 2.6 0a1.3 1.3 0 1 0 -2.6 0M454.7 203.5a1.3 1.3 0 1 0 2.6 0a1.3 1.3 0 1 0 -2.6 0M455.0 204.3a1.3 1.3 0 1 0 2.6 0a1.3 1.3 0 1 0 -2.6 0M455.4 202.3a1.3 1.3 0 1 0 2.6 0a1.3 1.3 0 1 0 -2.6 0M455.7 203.2a1.3 1.3 0 1 0 2.6 0a1.3 1.3 0 1 0 -2.6 0M456.0 206.1a1.3 1.3 0 1 0 2.6 0a1.3 1.3 0 1 0 -2.6 0M456.4 203.0a1.3 1.3 0 1 0 2.6 0a1.3 1.3 0 1 0 -2.6 0M456.9 198.5a1.3 1.3 0 1 0 2.6 0a1.3 1.3 0 1 0 -2.6 0M458.5 196.6a1.3 1.3 0 1 0 2.6 0a1.3 1.3 0 1 0 -2.6 0M459.0 199.7a1.3 1.3 0 1 0 2.6 0a1.3 1.3 0 1 0 -2.6 0M459.4 202.7a1.3 1.3 0 1 0 2.6 0a1.3 1.3 0 1 0 -2.6 0M459.7 203.1a1.3 1.3 0 1 0 2.6 0a1.3 1.3 0 1 0 -2.6 0M460.0 207.8a1.3 1.3 0 1 0 2.6 0a1.3 1.3 0 1 0 -2.6 0M460.4 206.3a1.3 1.3 0 1 0 2.6 0a1.3 1.3 0 1 0 -2.6 0M460.9 199.0a1.3 1.3 0 1 0 2.6 0a1.3 1.3 0 1 0 -2.6 0M462.5 201.6a1.3 1.3 0 1 0 2.6 0a1.3 1.3 0 1 0 -2.6 0M463.0 196.0a1.3 1.3 0 1 0 2.6 0a1.3 1.3 0 1 0 -2.6 0M463.4 198.3a1.3 1.3 0 1 0 2.6 0a1.3 1.3 0 1 0 -2.6 0M463.7 195.4a1.3 1.3 0 1 0 2.6 0a1.3 1.3 0 1 0 -2.6 0M464.0 200.5a1.3 1.3 0 1 0 2.6 0a1.3 1.3 0 1 0 -2.6 0M464.4 202.1a1.3 1.3 0 1 0 2.6 0a1.3 1.3 0 1 0 -2.6 0M464.7 199.1a1.3 1.3 0 1 0 2.6 0a1.3 1.3 0 1 0 -2.6 0M465.0 199.8a1.3 1.3 0 1 0 2.6 0a1.3 1.3 0 1 0 -2.6 0M465.4 198.5a1.3 1.3 0 1 0 2.6 0a1.3 1.3 0 1 0 -2.6 0M465.7 197.6a1.3 1.3 0 1 0 2.6 0a1.3 1.3 0 1 0 -2.6 0M466.0 191.7a1.3 1.3 0 1 0 2.6 0a1.3 1.3 0 1 0 -2.6 0M466.4 198.7a1.3 1.3 0 1 0 2.6 0a1.3 1.3 0 1 0 -2.6 0M466.7 195.2a1.3 1.3 0 1 0 2.6 0a1.3 1.3 0 1 0 -2.6 0M467.0 201.5a1.3 1.3 0 1 0 2.6 0a1.3 1.3 0 1 0 -2.6 0M467.4 202.8a1.3 1.3 0 1 0 2.6 0a1.3 1.3 0 1 0 -2.6 0M467.7 207.9a1.3 1.3 0 1 0 2.6 0a1.3 1.3 0 1 0 -2.6 0M468.0 206.0a1.3 1.3 0 1 0 2.6 0a1.3 1.3 0 1 0 -2.6 0M468.4 203.9a1.3 1.3 0 1 0 2.6 0a1.3 1.3 0 1 0 -2.6 0M468.7 204.2a1.3 1.3 0 1 0 2.6 0a1.3 1.3 0 1 0 -2.6 0M469.0 200.3a1.3 1.3 0 1 0 2.6 0a1.3 1.3 0 1 0 -2.6 0M469.4 194.7a1.3 1.3 0 1 0 2.6 0a1.3 1.3 0 1 0 -2.6 0M469.7 193.6a1.3 1.3 0 1 0 2.6 0a1.3 1.3 0 1 0 -2.6 0M470.0 198.9a1.3 1.3 0 1 0 2.6 0a1.3 1.3 0 1 0 -2.6 0M470.4 204.9a1.3 1.3 0 1 0 2.6 0a1.3 1.3 0 1 0 -2.6 0M470.7 200.6a1.3 1.3 0 1 0 2.6 0a1.3 1.3 0 1 0 -2.6 0M471.0 200.0a1.3 1.3 0 1 0 2.6 0a1.3 1.3 0 1 0 -2.6 0M471.4 203.1a1.3 1.3 0 1 0 2.6 0a1.3 1.3 0 1 0 -2.6 0M471.7 198.2a1.3 1.3 0 1 0 2.6 0a1.3 1.3 0 1 0 -2.6 0M472.0 206.5a1.3 1.3 0 1 0 2.6 0a1.3 1.3 0 1 0 -2.6 0M472.4 205.7a1.3 1.3 0 1 0 2.6 0a1.3 1.3 0 1 0 -2.6 0M472.7 209.7a1.3 1.3 0 1 0 2.6 0a1.3 1.3 0 1 0 -2.6 0M473.0 214.0a1.3 1.3 0 1 0 2.6 0a1.3 1.3 0 1 0 -2.6 0M473.4 208.8a1.3 1.3 0 1 0 2.6 0a1.3 1.3 0 1 0 -2.6 0M473.7 210.9a1.3 1.3 0 1 0 2.6 0a1.3 1.3 0 1 0 -2.6 0M474.0 204.7a1.3 1.3 0 1 0 2.6 0a1.3 1.3 0 1 0 -2.6 0M474.4 213.4a1.3 1.3 0 1 0 2.6 0a1.3 1.3 0 1 0 -2.6 0M474.7 202.5a1.3 1.3 0 1 0 2.6 0a1.3 1.3 0 1 0 -2.6 0M475.0 203.7a1.3 1.3 0 1 0 2.6 0a1.3 1.3 0 1 0 -2.6 0M475.4 201.1a1.3 1.3 0 1 0 2.6 0a1.3 1.3 0 1 0 -2.6 0M475.9 197.1a1.3 1.3 0 1 0 2.6 0a1.3 1.3 0 1 0 -2.6 0M477.5 202.1a1.3 1.3 0 1 0 2.6 0a1.3 1.3 0 1 0 -2.6 0M478.0 197.2a1.3 1.3 0 1 0 2.6 0a1.3 1.3 0 1 0 -2.6 0M478.4 202.6a1.3 1.3 0 1 0 2.6 0a1.3 1.3 0 1 0 -2.6 0M478.7 195.0a1.3 1.3 0 1 0 2.6 0a1.3 1.3 0 1 0 -2.6 0M479.0 198.1a1.3 1.3 0 1 0 2.6 0a1.3 1.3 0 1 0 -2.6 0M479.4 200.5a1.3 1.3 0 1 0 2.6 0a1.3 1.3 0 1 0 -2.6 0M479.7 199.4a1.3 1.3 0 1 0 2.6 0a1.3 1.3 0 1 0 -2.6 0M480.0 197.9a1.3 1.3 0 1 0 2.6 0a1.3 1.3 0 1 0 -2.6 0M480.4 203.0a1.3 1.3 0 1 0 2.6 0a1.3 1.3 0 1 0 -2.6 0M480.7 196.8a1.3 1.3 0 1 0 2.6 0a1.3 1.3 0 1 0 -2.6 0M481.0 197.6a1.3 1.3 0 1 0 2.6 0a1.3 1.3 0 1 0 -2.6 0M481.4 199.3a1.3 1.3 0 1 0 2.6 0a1.3 1.3 0 1 0 -2.6 0M481.7 203.2a1.3 1.3 0 1 0 2.6 0a1.3 1.3 0 1 0 -2.6 0M482.0 199.5a1.3 1.3 0 1 0 2.6 0a1.3 1.3 0 1 0 -2.6 0M482.4 202.0a1.3 1.3 0 1 0 2.6 0a1.3 1.3 0 1 0 -2.6 0M482.7 199.8a1.3 1.3 0 1 0 2.6 0a1.3 1.3 0 1 0 -2.6 0M483.0 199.2a1.3 1.3 0 1 0 2.6 0a1.3 1.3 0 1 0 -2.6 0M483.4 203.4a1.3 1.3 0 1 0 2.6 0a1.3 1.3 0 1 0 -2.6 0M483.7 195.3a1.3 1.3 0 1 0 2.6 0a1.3 1.3 0 1 0 -2.6 0M484.0 197.7a1.3 1.3 0 1 0 2.6 0a1.3 1.3 0 1 0 -2.6 0M484.4 195.4a1.3 1.3 0 1 0 2.6 0a1.3 1.3 0 1 0 -2.6 0M484.7 193.2a1.3 1.3 0 1 0 2.6 0a1.3 1.3 0 1 0 -2.6 0M485.0 198.1a1.3 1.3 0 1 0 2.6 0a1.3 1.3 0 1 0 -2.6 0" fill="#d82c20" stroke="#5a1410" stroke-width="0.5"/>
<path d="M134.5 59.0a1.3 1.3 0 1 0 2.6 0a1.3 1.3 0 1 0 -2.6 0M134.2 75.5a1.3 1.3 0 1 0 2.6 0a1.3 1.3 0 1 0 -2.6 0M134.4 92.0a1.3 1.3 0 1 0 2.6 0a1.3 1.3 0 1 0 -2.6 0M134.2 114.0a1.3 1.3 0 1 0 2.6 0a1.3 1.3 0 1 0 -2.6 0M134.5 135.0a1.3 1.3 0 1 0 2.6 0a1.3 1.3 0 1 0 -2.6 0M134.0 150.0a1.3 1.3 0 1 0 2.6 0a1.3 1.3 0 1 0 -2.6 0M231.1 132.0a1.3 1.3 0 1 0 2.6 0a1.3 1.3 0 1 0 -2.6 0M230.8 146.0a1.3 1.3 0 1 0 2.6 0a1.3 1.3 0 1 0 -2.6 0M241.4 101.4a1.3 1.3 0 1 0 2.6 0a1.3 1.3 0 1 0 -2.6 0M241.5 110.0a1.3 1.3 0 1 0 2.6 0a1.3 1.3 0 1 0 -2.6 0M241.7 125.0a1.3 1.3 0 1 0 2.6 0a1.3 1.3 0 1 0 -2.6 0M241.3 140.0a1.3 1.3 0 1 0 2.6 0a1.3 1.3 0 1 0 -2.6 0M244.7 101.4a1.3 1.3 0 1 0 2.6 0a1.3 1.3 0 1 0 -2.6 0M244.8 114.0a1.3 1.3 0 1 0 2.6 0a1.3 1.3 0 1 0 -2.6 0M244.7 128.0a1.3 1.3 0 1 0 2.6 0a1.3 1.3 0 1 0 -2.6 0M244.8 145.0a1.3 1.3 0 1 0 2.6 0a1.3 1.3 0 1 0 -2.6 0M252.4 100.0a1.3 1.3 0 1 0 2.6 0a1.3 1.3 0 1 0 -2.6 0M252.3 107.8a1.3 1.3 0 1 0 2.6 0a1.3 1.3 0 1 0 -2.6 0M252.6 116.2a1.3 1.3 0 1 0 2.6 0a1.3 1.3 0 1 0 -2.6 0M252.4 130.0a1.3 1.3 0 1 0 2.6 0a1.3 1.3 0 1 0 -2.6 0M252.8 145.0a1.3 1.3 0 1 0 2.6 0a1.3 1.3 0 1 0 -2.6 0M269.0 135.0a1.3 1.3 0 1 0 2.6 0a1.3 1.3 0 1 0 -2.6 0M268.6 142.0a1.3 1.3 0 1 0 2.6 0a1.3 1.3 0 1 0 -2.6 0M268.5 155.0a1.3 1.3 0 1 0 2.6 0a1.3 1.3 0 1 0 -2.6 0M227.1 154.0a1.3 1.3 0 1 0 2.6 0a1.3 1.3 0 1 0 -2.6 0M85.6 141.0a1.3 1.3 0 1 0 2.6 0a1.3 1.3 0 1 0 -2.6 0M85.9 152.0a1.3 1.3 0 1 0 2.6 0a1.3 1.3 0 1 0 -2.6 0M217.3 133.0a1.3 1.3 0 1 0 2.6 0a1.3 1.3 0 1 0 -2.6 0M238.7 149.0a1.3 1.3 0 1 0 2.6 0a1.3 1.3 0 1 0 -2.6 0M260.2 154.0a1.3 1.3 0 1 0 2.6 0a1.3 1.3 0 1 0 -2.6 0M276.9 154.0a1.3 1.3 0 1 0 2.6 0a1.3 1.3 0 1 0 -2.6 0M265.7 160.0a1.3 1.3 0 1 0 2.6 0a1.3 1.3 0 1 0 -2.6 0M283.2 163.0a1.3 1.3 0 1 0 2.6 0a1.3 1.3 0 1 0 -2.6 0M293.1 160.0a1.3 1.3 0 1 0 2.6 0a1.3 1.3 0 1 0 -2.6 0M335.1 147.0a1.3 1.3 0 1 0 2.6 0a1.3 1.3 0 1 0 -2.6 0M335.3 158.0a1.3 1.3 0 1 0 2.6 0a1.3 1.3 0 1 0 -2.6 0M335.3 170.0a1.3 1.3 0 1 0 2.6 0a1.3 1.3 0 1 0 -2.6 0M389.4 175.0a1.3 1.3 0 1 0 2.6 0a1.3 1.3 0 1 0 -2.6 0M392.9 163.0a1.3 1.3 0 1 0 2.6 0a1.3 1.3 0 1 0 -2.6 0M393.2 175.0a1.3 1.3 0 1 0 2.6 0a1.3 1.3 0 1 0 -2.6 0M411.3 154.0a1.3 1.3 0 1 0 2.6 0a1.3 1.3 0 1 0 -2.6 0M411.2 162.0a1.3 1.3 0 1 0 2.6 0a1.3 1.3 0 1 0 -2.6 0M411.3 176.0a1.3 1.3 0 1 0 2.6 0a1.3 1.3 0 1 0 -2.6 0M458.0 188.0a1.3 1.3 0 1 0 2.6 0a1.3 1.3 0 1 0 -2.6 0M461.8 180.0a1.3 1.3 0 1 0 2.6 0a1.3 1.3 0 1 0 -2.6 0M461.6 188.0a1.3 1.3 0 1 0 2.6 0a1.3 1.3 0 1 0 -2.6 0M476.5 187.0a1.3 1.3 0 1 0 2.6 0a1.3 1.3 0 1 0 -2.6 0M81.9 201.0a1.3 1.3 0 1 0 2.6 0a1.3 1.3 0 1 0 -2.6 0M81.9 186.0a1.3 1.3 0 1 0 2.6 0a1.3 1.3 0 1 0 -2.6 0M146.0 189.0a1.3 1.3 0 1 0 2.6 0a1.3 1.3 0 1 0 -2.6 0M153.5 193.0a1.3 1.3 0 1 0 2.6 0a1.3 1.3 0 1 0 -2.6 0M176.6 199.0a1.3 1.3 0 1 0 2.6 0a1.3 1.3 0 1 0 -2.6 0M221.0 189.0a1.3 1.3 0 1 0 2.6 0a1.3 1.3 0 1 0 -2.6 0M236.1 200.6a1.3 1.3 0 1 0 2.6 0a1.3 1.3 0 1 0 -2.6 0M249.5 201.4a1.3 1.3 0 1 0 2.6 0a1.3 1.3 0 1 0 -2.6 0M262.2 204.6a1.3 1.3 0 1 0 2.6 0a1.3 1.3 0 1 0 -2.6 0M274.2 199.8a1.3 1.3 0 1 0 2.6 0a1.3 1.3 0 1 0 -2.6 0M286.5 200.6a1.3 1.3 0 1 0 2.6 0a1.3 1.3 0 1 0 -2.6 0M289.1 202.0a1.3 1.3 0 1 0 2.6 0a1.3 1.3 0 1 0 -2.6 0M300.4 203.0a1.3 1.3 0 1 0 2.6 0a1.3 1.3 0 1 0 -2.6 0M343.8 200.0a1.3 1.3 0 1 0 2.6 0a1.3 1.3 0 1 0 -2.6 0M357.6 207.0a1.3 1.3 0 1 0 2.6 0a1.3 1.3 0 1 0 -2.6 0M378.6 209.0a1.3 1.3 0 1 0 2.6 0a1.3 1.3 0 1 0 -2.6 0M395.9 201.0a1.3 1.3 0 1 0 2.6 0a1.3 1.3 0 1 0 -2.6 0M435.7 208.0a1.3 1.3 0 1 0 2.6 0a1.3 1.3 0 1 0 -2.6 0" fill="#8a2030" stroke="#401020" stroke-width="0.4"/>
<path d="M50.00 166.3 L51.00 170.1 L52.00 156.3 L53.00 168.4 L54.00 163.4 L55.00 149.2 L56.00 146.4 L57.00 162.0 L58.00 169.2 L59.00 153.1 L60.00 167.7 L61.00 154.0 L62.00 155.1 L63.00 153.0 L64.00 155.7 L65.00 155.6 L66.00 167.7 L67.00 154.0 L68.00 156.2 L69.00 169.4 L70.00 155.7 L71.00 161.1 L72.00 169.9 L73.00 168.9 L74.00 153.6 L75.00 177.3 L76.00 166.4 L77.00 161.2 L78.00 152.7 L79.00 157.4 L80.00 167.4 L81.00 164.8 L82.50 166.7 L82.80 185.7 L82.95 192.0 L83.05 192.0 L83.20 184.4 L83.50 166.7 L85.00 159.2 L86.00 164.7 L86.70 159.5 L87.00 149.4 L87.15 146.0 L87.25 146.0 L87.40 150.1 L87.70 159.5 L89.00 175.1 L90.00 183.5 L91.00 176.3 L92.00 182.8 L93.00 182.6 L94.00 178.3 L95.00 178.4 L96.00 179.2 L97.00 186.2 L98.00 184.0 L99.00 172.3 L100.00 181.6 L101.00 183.8 L102.00 170.4 L103.00 178.0 L104.00 178.5 L105.00 170.5 L106.00 163.7 L107.00 177.1 L108.00 174.4 L109.00 180.0 L110.00 181.0 L111.00 183.0 L112.00 170.7 L113.00 172.2 L114.00 172.1 L115.00 173.2 L116.00 177.7 L117.00 171.2 L118.00 165.6 L119.00 181.4 L120.00 181.2 L121.00 165.8 L122.00 169.8 L123.00 161.5 L124.00 166.2 L125.00 168.5 L126.00 172.3 L127.00 165.9 L128.00 167.7 L129.00 163.4 L130.00 162.3 L131.00 166.5 L132.00 169.4 L133.00 163.9 L134.00 166.7 L135.10 163.7 L135.40 97.9 L135.55 76.0 L135.65 76.0 L135.80 102.3 L136.10 163.7 L137.00 159.0 L138.00 159.6 L139.00 159.0 L140.00 159.3 L141.00 159.3 L142.00 161.4 L143.00 161.8 L144.00 174.7 L145.00 167.7 L146.50 159.1 L146.80 180.0 L146.95 187.0 L147.05 187.0 L147.20 178.6 L147.50 159.1 L149.00 162.6 L150.00 157.8 L151.00 158.2 L152.00 153.5 L153.00 158.9 L154.50 147.8 L154.80 181.7 L154.95 193.0 L155.05 193.0 L155.20 179.4 L155.50 147.8 L157.00 161.6 L158.00 157.1 L159.00 170.6 L160.00 167.5 L161.00 159.9 L162.00 151.0 L163.00 157.1 L164.00 158.4 L165.00 157.6 L166.00 157.3 L167.00 159.8 L168.00 161.7 L169.00 163.2 L170.00 158.9 L171.00 161.8 L172.00 165.4 L173.00 167.2 L174.00 157.4 L175.00 155.0 L176.00 162.4 L177.50 167.8 L177.80 185.2 L177.95 191.0 L178.05 191.0 L178.20 184.0 L178.50 167.8 L180.00 152.5 L181.00 162.4 L182.00 158.4 L183.00 169.3 L184.00 155.8 L185.00 151.1 L186.00 156.4 L187.00 156.8 L188.00 154.0 L189.00 161.3 L190.00 153.9 L191.00 146.9 L192.00 166.3 L193.00 136.9 L194.00 155.1 L195.00 156.7 L196.00 154.8 L197.00 152.4 L198.00 150.3 L199.00 158.8 L200.00 166.2 L201.00 153.1 L202.00 157.7 L203.00 152.5 L204.00 156.2 L205.00 159.7 L206.00 154.8 L207.00 159.4 L208.00 157.2 L209.00 157.0 L210.00 164.1 L211.00 163.6 L212.00 150.3 L213.00 162.0 L214.00 157.1 L215.00 171.0 L216.00 161.5 L217.00 160.9 L217.80 167.6 L218.10 143.9 L218.25 136.0 L218.35 136.0 L218.50 145.5 L218.80 167.6 L220.00 159.1 L221.50 167.1 L221.80 183.5 L221.95 189.0 L222.05 189.0 L222.20 182.4 L222.50 167.1 L224.00 157.9 L225.00 160.2 L226.00 161.3 L227.00 171.4 L227.70 161.4 L228.00 157.3 L228.15 156.0 L228.25 156.0 L228.40 157.6 L228.70 161.4 L230.00 159.2 L231.00 158.6 L231.70 168.3 L232.00 142.6 L232.15 134.0 L232.25 134.0 L232.40 144.3 L232.70 168.3 L234.00 163.9 L235.00 150.7 L236.60 165.3 L236.90 186.8 L237.05 194.0 L237.15 194.0 L237.30 185.4 L237.60 165.3 L239.00 169.6 L239.80 155.9 L240.10 151.5 L240.25 150.0 L240.35 150.0 L240.50 151.8 L240.80 155.9 L242.40 161.0 L242.70 123.5 L242.85 111.0 L242.95 111.0 L243.10 126.0 L243.40 161.0 L245.40 165.1 L245.70 125.3 L245.85 112.0 L245.95 112.0 L246.10 127.9 L246.40 165.1 L248.00 170.5 L249.00 167.0 L250.30 178.3 L250.60 190.8 L250.75 195.0 L250.85 195.0 L251.00 190.0 L251.30 178.3 L252.00 172.4 L253.30 160.6 L253.60 112.2 L253.75 96.0 L253.85 96.0 L254.00 115.4 L254.30 160.6 L255.00 160.8 L256.00 155.0 L257.00 169.2 L258.00 172.6 L259.00 161.6 L260.00 168.3 L260.70 154.7 L261.00 155.7 L261.15 156.0 L261.25 156.0 L261.40 155.6 L261.70 154.7 L263.10 176.4 L263.40 194.1 L263.55 200.0 L263.65 200.0 L263.80 192.9 L264.10 176.4 L265.00 182.2 L266.40 168.5 L266.70 162.9 L266.85 161.0 L266.95 161.0 L267.10 163.2 L267.40 168.5 L268.00 161.5 L269.00 157.3 L269.60 153.6 L269.90 141.1 L270.05 137.0 L270.15 137.0 L270.30 142.0 L270.60 153.6 L272.00 165.9 L273.00 176.4 L274.00 177.7 L275.20 182.4 L275.50 191.9 L275.65 195.0 L275.75 195.0 L275.90 191.2 L276.20 182.4 L277.00 168.0 L277.60 179.4 L277.90 161.8 L278.05 156.0 L278.15 156.0 L278.30 163.0 L278.60 179.4 L280.00 165.0 L281.00 170.9 L282.00 170.0 L283.00 172.5 L284.10 170.0 L284.40 165.5 L284.55 164.0 L284.65 164.0 L284.80 165.8 L285.10 170.0 L286.00 150.4 L287.30 175.4 L287.60 192.3 L287.75 198.0 L287.85 198.0 L288.00 191.2 L288.30 175.4 L289.00 182.8 L289.70 181.8 L290.00 198.3 L290.15 203.8 L290.25 203.8 L290.40 197.2 L290.70 181.8 L292.00 176.1 L293.00 167.6 L293.70 175.1 L294.00 164.5 L294.15 161.0 L294.25 161.0 L294.40 165.2 L294.70 175.1 L296.00 176.1 L297.00 167.5 L298.00 189.9 L299.00 174.8 L300.00 196.0 L301.00 189.4 L301.30 199.6 L301.45 203.0 L301.55 203.0 L301.70 198.9 L302.00 189.4 L303.00 183.7 L304.00 186.8 L305.00 186.3 L306.00 190.7 L307.00 184.3 L308.00 175.4 L309.00 179.2 L310.00 189.7 L311.00 181.6 L312.00 179.2 L313.00 178.1 L314.00 187.3 L315.00 179.8 L316.00 184.7 L317.00 174.3 L318.00 192.5 L319.00 182.0 L320.00 187.9 L321.00 194.8 L322.00 189.1 L323.00 183.6 L324.00 170.0 L325.00 180.8 L326.00 182.5 L327.00 187.4 L328.00 176.8 L329.00 182.0 L330.00 176.6 L331.00 181.1 L332.00 186.6 L333.00 191.5 L334.00 187.2 L335.00 184.1 L335.90 192.6 L336.20 160.7 L336.35 150.0 L336.45 150.0 L336.60 162.8 L336.90 192.6 L338.00 184.0 L339.00 193.5 L340.00 191.2 L341.00 191.8 L342.00 188.6 L343.00 187.8 L344.50 188.4 L344.80 195.6 L344.95 198.0 L345.05 198.0 L345.20 195.1 L345.50 188.4 L347.00 191.6 L348.00 190.0 L349.00 191.8 L350.00 193.0 L351.00 193.4 L352.00 191.1 L353.00 192.0 L354.00 199.1 L355.00 192.8 L356.00 199.6 L357.00 193.5 L358.50 188.9 L358.80 201.0 L358.95 205.0 L359.05 205.0 L359.20 200.2 L359.50 188.9 L361.00 194.0 L362.00 196.8 L363.00 189.4 L364.00 194.2 L365.00 191.4 L366.00 190.6 L367.00 190.2 L368.00 188.1 L369.00 191.5 L370.00 191.8 L371.00 191.5 L372.00 197.1 L373.00 193.2 L374.00 195.6 L375.00 187.3 L376.00 193.0 L377.00 190.5 L378.00 198.1 L379.50 202.0 L379.80 205.8 L379.95 207.0 L380.05 207.0 L380.20 205.5 L380.50 202.0 L382.00 195.1 L383.00 189.4 L384.00 202.3 L385.00 195.2 L386.00 199.5 L387.00 198.6 L388.00 188.6 L389.00 195.5 L390.50 193.1 L390.80 180.3 L390.95 176.0 L391.05 176.0 L391.20 181.1 L391.50 193.1 L393.00 199.4 L393.90 187.7 L394.20 170.7 L394.35 165.0 L394.45 165.0 L394.60 171.8 L394.90 187.7 L396.50 192.5 L396.80 198.1 L396.95 200.0 L397.05 200.0 L397.20 197.8 L397.50 192.5 L399.00 196.4 L400.00 200.1 L401.00 201.0 L402.00 204.5 L403.00 199.7 L404.00 196.2 L405.00 198.9 L406.00 195.6 L407.00 195.9 L408.00 196.7 L409.00 201.2 L410.00 199.0 L411.00 200.5 L411.90 197.7 L412.20 164.9 L412.35 154.0 L412.45 154.0 L412.60 167.1 L412.90 197.7 L414.00 202.9 L415.00 199.5 L416.00 196.1 L417.00 198.5 L418.00 199.2 L419.00 194.5 L420.00 196.6 L421.00 198.3 L422.00 201.5 L423.00 200.4 L424.00 203.8 L425.00 196.9 L426.00 200.6 L427.00 194.5 L428.00 199.8 L429.00 193.9 L430.00 195.5 L431.00 207.8 L432.00 200.5 L433.00 200.1 L434.00 201.1 L435.00 195.8 L436.50 197.3 L436.80 203.8 L436.95 206.0 L437.05 206.0 L437.20 203.4 L437.50 197.3 L439.00 202.2 L440.00 202.2 L441.00 198.3 L442.00 198.6 L443.00 204.9 L444.00 199.3 L445.00 204.2 L446.00 204.8 L447.00 193.5 L448.00 200.1 L449.00 195.9 L450.00 199.5 L451.00 200.7 L452.00 189.3 L453.00 198.6 L454.00 198.4 L455.00 205.7 L456.00 204.7 L457.00 205.0 L458.50 199.2 L458.80 191.5 L458.95 189.0 L459.05 189.0 L459.20 192.0 L459.50 199.2 L461.00 199.9 L462.50 202.5 L462.80 186.4 L462.95 181.0 L463.05 181.0 L463.20 187.4 L463.50 202.5 L465.00 196.4 L466.00 201.8 L467.00 196.2 L468.00 200.1 L469.00 203.3 L470.00 203.3 L471.00 196.3 L472.00 203.7 L473.00 201.0 L474.00 209.6 L475.00 209.6 L476.00 205.6 L477.50 200.5 L477.80 191.1 L477.95 188.0 L478.05 188.0 L478.20 191.8 L478.50 200.5 L480.00 198.9 L481.00 199.4 L482.00 199.3 L483.00 201.6 L484.00 200.3 L485.00 197.2 L486.00 197.0" stroke="#2222d8" stroke-width="1.1" fill="none" stroke-linejoin="round" opacity="0.6"/>
</g>
<path d="M69.4 252.0V244.0M69.4 9.0V17.0M241.0 252.0V244.0M241.0 9.0V17.0M341.4 252.0V244.0M341.4 9.0V17.0M412.6 252.0V244.0M412.6 9.0V17.0M467.8 252.0V244.0M467.8 9.0V17.0M114.6 252.0V247.8M114.6 9.0V13.2M152.7 252.0V247.8M152.7 9.0V13.2M185.8 252.0V247.8M185.8 9.0V13.2M214.9 252.0V247.8M214.9 9.0V13.2M264.6 252.0V247.8M264.6 9.0V13.2M286.1 252.0V247.8M286.1 9.0V13.2M305.9 252.0V247.8M305.9 9.0V13.2M324.3 252.0V247.8M324.3 9.0V13.2M357.3 252.0V247.8M357.3 9.0V13.2M372.3 252.0V247.8M372.3 9.0V13.2M386.5 252.0V247.8M386.5 9.0V13.2M399.9 252.0V247.8M399.9 9.0V13.2M424.6 252.0V247.8M424.6 9.0V13.2M436.1 252.0V247.8M436.1 9.0V13.2M447.1 252.0V247.8M447.1 9.0V13.2M457.7 252.0V247.8M457.7 9.0V13.2M477.5 252.0V247.8M477.5 9.0V13.2M51.3 251.3H58.8M485.5 251.3H478.0M51.3 243.0H55.099999999999994M485.5 243.0H481.7M51.3 234.8H55.099999999999994M485.5 234.8H481.7M51.3 226.5H55.099999999999994M485.5 226.5H481.7M51.3 218.2H55.099999999999994M485.5 218.2H481.7M51.3 209.9H58.8M485.5 209.9H478.0M51.3 201.6H55.099999999999994M485.5 201.6H481.7M51.3 193.3H55.099999999999994M485.5 193.3H481.7M51.3 185.0H55.099999999999994M485.5 185.0H481.7M51.3 176.8H55.099999999999994M485.5 176.8H481.7M51.3 168.5H58.8M485.5 168.5H478.0M51.3 160.2H55.099999999999994M485.5 160.2H481.7M51.3 151.9H55.099999999999994M485.5 151.9H481.7M51.3 143.6H55.099999999999994M485.5 143.6H481.7M51.3 135.3H55.099999999999994M485.5 135.3H481.7M51.3 127.1H58.8M485.5 127.1H478.0M51.3 118.8H55.099999999999994M485.5 118.8H481.7M51.3 110.5H55.099999999999994M485.5 110.5H481.7M51.3 102.2H55.099999999999994M485.5 102.2H481.7M51.3 93.9H55.099999999999994M485.5 93.9H481.7M51.3 85.6H58.8M485.5 85.6H478.0M51.3 77.3H55.099999999999994M485.5 77.3H481.7M51.3 69.1H55.099999999999994M485.5 69.1H481.7M51.3 60.8H55.099999999999994M485.5 60.8H481.7M51.3 52.5H55.099999999999994M485.5 52.5H481.7M51.3 44.2H58.8M485.5 44.2H478.0M51.3 35.9H55.099999999999994M485.5 35.9H481.7M51.3 27.6H55.099999999999994M485.5 27.6H481.7M51.3 19.3H55.099999999999994M485.5 19.3H481.7M51.3 11.1H55.099999999999994M485.5 11.1H481.7" stroke="#111" stroke-width="1.4" fill="none"/>
<rect x="51.3" y="9.0" width="434.2" height="243.0" fill="none" stroke="#111" stroke-width="1.6"/>
<text x="47.6" y="256.1" text-anchor="end" class="b" font-size="12.4">−5</text>
<text x="47.6" y="214.7" text-anchor="end" class="b" font-size="12.4">0</text>
<text x="47.6" y="173.3" text-anchor="end" class="b" font-size="12.4">5</text>
<text x="47.6" y="131.9" text-anchor="end" class="b" font-size="12.4">10</text>
<text x="47.6" y="90.4" text-anchor="end" class="b" font-size="12.4">15</text>
<text x="47.6" y="49.0" text-anchor="end" class="b" font-size="12.4">20</text>
<text x="69.7" y="265.6" text-anchor="middle" class="b" font-size="12.2">0.5</text>
<text x="241.3" y="265.6" text-anchor="middle" class="b" font-size="12.2">1.0</text>
<text x="341.7" y="265.6" text-anchor="middle" class="b" font-size="12.2">1.5</text>
<text x="412.9" y="265.6" text-anchor="middle" class="b" font-size="12.2">2.0</text>
<text x="468.1" y="265.6" text-anchor="middle" class="b" font-size="12.2">2.5</text>
<text x="268.5" y="279.6" text-anchor="middle" class="b" font-size="12">Energy (keV)</text>
<text transform="translate(13.4,196.6) rotate(-90)" class="b" font-size="12.3" textLength="132.5" lengthAdjust="spacingAndGlyphs">Photons m<tspan dy="-5" font-size="8.6">−2</tspan><tspan dy="5"> s</tspan><tspan dy="-5" font-size="8.6">−1</tspan><tspan dy="5"> keV</tspan><tspan dy="-5" font-size="8.6">−1</tspan></text>
<text transform="translate(126.4,62.4) rotate(-90)" font-size="11" fill="#111" stroke="#111" stroke-width="0.08" class="r">O VIII</text>
<path d="M128.1 48.8 L133.0 52.3" stroke="#111" stroke-width="1.5"/>
<path d="M135.2 53.7 L130.0 53.9 L132.4 52.0 L133.4 49.0Z" fill="#111"/>
<text transform="translate(159.8,106.6) rotate(-90)" font-size="11.5" fill="#2e2ea6" stroke="#2e2ea6" stroke-width="0.25" class="r">Fe L edge</text>
<path d="M156.3 111V125.30000000000001" stroke="#111" stroke-width="1.7"/>
<path d="M156.3 128.3 L153.60000000000002 123.30000000000001 L156.3 124.70000000000002 L159.0 123.30000000000001Z" fill="#111"/>
<text transform="translate(235.4,96.8) rotate(-90)" font-size="11" fill="#111" stroke="#111" stroke-width="0.08" class="r">Ne IX</text>
<path d="M231.4 100.5V108.8" stroke="#111" stroke-width="1.7"/>
<path d="M231.4 111.8 L228.70000000000002 106.8 L231.4 108.2 L234.1 106.8Z" fill="#111"/>
<text transform="translate(246.8,77.6) rotate(-90)" font-size="11" fill="#111" stroke="#111" stroke-width="0.08" class="r">Ne X</text>
<path d="M242.8 81.0V88.0" stroke="#111" stroke-width="1.7"/>
<path d="M242.8 91.0 L240.10000000000002 86.0 L242.8 87.4 L245.5 86.0Z" fill="#111"/>
<text transform="translate(258.4,72.7) rotate(-90)" font-size="11" fill="#111" stroke="#111" stroke-width="0.08" class="r">Fe XX+</text>
<path d="M253.6 76.0V83.5" stroke="#111" stroke-width="1.7"/>
<path d="M253.6 86.5 L250.9 81.5 L253.6 82.9 L256.3 81.5Z" fill="#111"/>
<text transform="translate(339.8,121.0) rotate(-90)" font-size="11.8" fill="#111" stroke="#111" stroke-width="0.08" class="r">Mg XII</text>
<path d="M335.8 124V131.8" stroke="#111" stroke-width="1.7"/>
<path d="M335.8 134.8 L333.1 129.8 L335.8 131.20000000000002 L338.5 129.8Z" fill="#111"/>
<text transform="translate(398.2,143.8) rotate(-90)" font-size="11" fill="#111" stroke="#111" stroke-width="0.08" class="r">Si XIII</text>
<path d="M394.2 147.5V155.2" stroke="#111" stroke-width="1.7"/>
<path d="M394.2 158.2 L391.5 153.2 L394.2 154.6 L396.9 153.2Z" fill="#111"/>
<text transform="translate(416.2,126.4) rotate(-90)" font-size="11" fill="#111" stroke="#111" stroke-width="0.08" class="r">Si XIV</text>
<path d="M411.6 129.5V136.6" stroke="#111" stroke-width="1.7"/>
<path d="M411.6 139.6 L408.90000000000003 134.6 L411.6 136.0 L414.3 134.6Z" fill="#111"/>
<text transform="translate(466.8,158.3) rotate(-90)" font-size="11" fill="#111" stroke="#111" stroke-width="0.08" class="r">S XV</text>
<path d="M462.8 160.2V168.3" stroke="#111" stroke-width="1.7"/>
<path d="M462.8 171.3 L460.1 166.3 L462.8 167.70000000000002 L465.5 166.3Z" fill="#111"/>
<text x="57.0" y="236.2" font-size="11.9" fill="#2e2ea6" stroke="#2e2ea6" stroke-width="0.25" class="r">O K edge</text>
<path d="M82.9 225.5V212" stroke="#111" stroke-width="1.7"/>
<path d="M82.9 209 L80.2 214.0 L82.9 212.6 L85.60000000000001 214.0Z" fill="#111"/>
<text transform="translate(151.0,243.2) rotate(-90)" font-size="11.8" fill="#2e2ea6" stroke="#2e2ea6" stroke-width="0.25" class="r">O VII</text>
<path d="M146.8 213.2V201.5" stroke="#111" stroke-width="1.7"/>
<path d="M146.8 198.5 L144.10000000000002 203.5 L146.8 202.1 L149.5 203.5Z" fill="#111"/>
<text transform="translate(183.7,248.8) rotate(-90)" font-size="11" fill="#2e2ea6" stroke="#2e2ea6" stroke-width="0.25" class="r">Fe XVII</text>
<path d="M179 209V202.2" stroke="#111" stroke-width="1.7"/>
<path d="M179 199.2 L176.3 204.2 L179 202.79999999999998 L181.7 204.2Z" fill="#111"/>
<rect x="257.3" y="130.2" width="45.3" height="87.9" fill="none" stroke="#555" stroke-width="1"/>
<path d="M293 27 L257.3 130.2 M402.8 84 L302.6 218.1" stroke="#333" stroke-width="0.9" fill="none"/>
<rect x="293" y="27.0" width="109.8" height="57.0" fill="#fff2ef" stroke="#555" stroke-width="1.1"/>
<text x="300.5" y="25.0" font-size="9.2" textLength="97.5" lengthAdjust="spacingAndGlyphs" class="r" fill="#111">Absorption line system</text>
<clipPath id="insetclip"><rect x="293.5" y="27.3" width="109" height="56.2"/></clipPath>
<g clip-path="url(#insetclip)">
<path d="M293.4 64.3V69.9M293.9 64.8V70.4M294.4 59.6V65.2M294.9 60.5V66.1M295.4 48.1V53.7M295.9 53.0V58.6M296.4 53.8V59.4M296.9 49.4V55.0M297.4 53.4V59.0M297.9 47.8V53.4M298.4 51.7V57.3M298.9 40.5V46.1M299.4 48.6V54.2M299.9 47.2V52.8M300.4 49.0V54.6M300.9 42.6V48.2M301.4 36.1V41.7M301.9 43.8V49.4M302.4 50.6V56.2M302.9 52.7V58.3M303.4 52.4V58.0M303.9 54.9V60.5M304.4 53.1V58.7M304.9 55.4V61.0M305.4 58.3V63.9M305.9 56.9V62.5M306.4 62.7V68.3M306.9 66.7V72.3M307.4 68.1V73.7M307.9 63.4V69.0M308.4 70.8V76.4M308.9 73.2V78.8M309.4 71.0V76.6M309.9 68.7V74.3M310.4 68.4V74.0M310.9 59.9V65.5M311.4 64.4V70.0M311.9 59.3V64.9M312.4 58.9V64.5M312.9 55.6V61.2M313.4 53.2V58.8M313.9 53.8V59.4M314.4 56.1V61.7M314.9 47.2V52.8M315.4 56.0V61.6M315.9 58.6V64.2M316.4 51.3V56.9M316.9 51.3V56.9M317.4 59.8V65.4M317.9 56.6V62.2M318.4 58.9V64.5M318.9 52.2V57.8M319.4 48.2V53.8M319.9 49.6V55.2M320.4 52.0V57.6M320.9 50.5V56.1M321.4 44.7V50.3M321.9 44.4V50.0M322.4 31.1V36.7M322.9 32.3V37.9M323.4 36.2V41.8M323.9 34.5V40.1M324.4 32.3V37.9M324.9 27.5V33.1M325.4 38.5V44.1M325.9 50.9V56.5M326.4 44.2V49.8M326.9 46.8V52.4M327.4 52.1V57.7M327.9 55.0V60.6M328.4 54.5V60.1M328.9 58.9V64.5M329.4 59.6V65.2M329.9 58.7V64.3M330.4 58.3V63.9M330.9 52.7V58.3M331.4 59.8V65.4M331.9 62.5V68.1M332.4 51.0V56.6M332.9 58.5V64.1M333.4 56.6V62.2M333.9 63.8V69.4M334.4 60.0V65.6M334.9 52.1V57.7M335.4 50.9V56.5M335.9 51.3V56.9M336.4 57.3V62.9M336.9 64.6V70.2M337.4 61.7V67.3M337.9 64.9V70.5M338.4 66.0V71.6M338.9 59.8V65.4M339.4 68.2V73.8M339.9 64.5V70.1M340.4 59.0V64.6M340.9 53.5V59.1M341.4 49.5V55.1M341.9 51.8V57.4M342.4 56.3V61.9M342.9 47.0V52.6M343.4 41.2V46.8M343.9 38.6V44.2M344.4 43.0V48.6M344.9 46.7V52.3M345.4 43.5V49.1M345.9 44.8V50.4M346.4 49.5V55.1M346.9 51.1V56.7M347.4 53.3V58.9M347.9 54.1V59.7M348.4 59.1V64.7M348.9 61.9V67.5M349.4 63.5V69.1M349.9 56.7V62.3M350.4 52.7V58.3M350.9 60.7V66.3M351.4 53.8V59.4M351.9 57.1V62.7M352.4 52.0V57.6M352.9 57.6V63.2M353.4 58.2V63.8M353.9 59.6V65.2M354.4 52.3V57.9M354.9 54.6V60.2M355.4 55.3V60.9M355.9 51.6V57.2M356.4 55.7V61.3M356.9 48.0V53.6M357.4 53.2V58.8M357.9 47.6V53.2M358.4 42.6V48.2M358.9 47.0V52.6M359.4 51.2V56.8M359.9 50.9V56.5M360.4 49.4V55.0M360.9 52.3V57.9M361.4 56.3V61.9M361.9 50.6V56.2M362.4 56.5V62.1M362.9 56.8V62.4M363.4 58.5V64.1M363.9 62.8V68.4M364.4 66.9V72.5M364.9 60.7V66.3M365.4 63.8V69.4M365.9 60.2V65.8M366.4 57.8V63.4M366.9 53.2V58.8M367.4 47.1V52.7M367.9 51.9V57.5M368.4 58.3V63.9M368.9 60.7V66.3M369.4 54.9V60.5M369.9 62.9V68.5M370.4 64.4V70.0M370.9 68.4V74.0M371.4 71.9V77.5M371.9 66.0V71.6M372.4 63.8V69.4M372.9 60.0V65.6M373.4 65.5V71.1M373.9 62.0V67.6M374.4 53.5V59.1M374.9 50.2V55.8M375.4 55.4V61.0M375.9 57.7V63.3M376.4 57.2V62.8M376.9 55.1V60.7M377.4 48.9V54.5M377.9 50.9V56.5M378.4 55.0V60.6M378.9 49.6V55.2M379.4 57.5V63.1M379.9 59.6V65.2M380.4 54.1V59.7M380.9 45.3V50.9M381.4 48.3V53.9M381.9 49.1V54.7M382.4 47.0V52.6M382.9 45.7V51.3M383.4 45.3V50.9M383.9 45.7V51.3M384.4 50.8V56.4M384.9 54.2V59.8M385.4 58.3V63.9M385.9 53.4V59.0M386.4 50.3V55.9M386.9 55.8V61.4M387.4 52.3V57.9M387.9 55.4V61.0M388.4 56.0V61.6M388.9 53.6V59.2M389.4 54.3V59.9M389.9 53.1V58.7M390.4 58.6V64.2M390.9 56.7V62.3M391.4 53.6V59.2M391.9 51.2V56.8M392.4 52.8V58.4M392.9 55.8V61.4M393.4 50.1V55.7M393.9 54.2V59.8M394.4 55.7V61.3M394.9 49.7V55.3M395.4 51.7V57.3M395.9 53.1V58.7M396.4 62.0V67.6M396.9 58.3V63.9M397.4 59.3V64.9M397.9 52.0V57.6M398.4 53.2V58.8M398.9 56.7V62.3M399.4 60.0V65.6M399.9 59.6V65.2M400.4 52.2V57.8M400.9 59.3V64.9M401.4 57.1V62.7M401.9 61.0V66.6" stroke="#666" stroke-width="0.5"/>
<path d="M293.4 66.8 L293.9 66.9 L294.4 61.9 L294.9 62.9 L295.4 53.4 L295.9 56.7 L296.4 57.7 L296.9 52.7 L297.4 55.6 L297.9 49.2 L298.4 50.9 L298.9 49.0 L299.4 50.5 L299.9 50.5 L300.4 46.8 L300.9 43.4 L301.4 42.5 L301.9 45.7 L302.4 54.6 L302.9 53.3 L303.4 57.5 L303.9 57.9 L304.4 56.2 L304.9 58.4 L305.4 62.4 L305.9 63.8 L306.4 64.4 L306.9 67.3 L307.4 71.1 L307.9 68.5 L308.4 73.1 L308.9 74.8 L309.4 74.2 L309.9 71.5 L310.4 68.1 L310.9 65.2 L311.4 68.4 L311.9 66.3 L312.4 63.3 L312.9 60.0 L313.4 58.1 L313.9 58.2 L314.4 55.0 L314.9 50.4 L315.4 59.1 L315.9 56.6 L316.4 54.2 L316.9 57.9 L317.4 61.7 L317.9 61.5 L318.4 58.1 L318.9 57.7 L319.4 52.3 L319.9 55.9 L320.4 54.6 L320.9 55.5 L321.4 47.7 L321.9 48.1 L322.4 35.3 L322.9 33.0 L323.4 36.9 L323.9 37.1 L324.4 37.1 L324.9 32.7 L325.4 40.7 L325.9 48.4 L326.4 48.0 L326.9 51.4 L327.4 56.4 L327.9 60.2 L328.4 59.4 L328.9 62.1 L329.4 59.2 L329.9 61.5 L330.4 62.2 L330.9 59.0 L331.4 62.1 L331.9 65.4 L332.4 56.5 L332.9 63.7 L333.4 59.5 L333.9 64.4 L334.4 61.4 L334.9 54.4 L335.4 54.5 L335.9 53.4 L336.4 60.1 L336.9 62.6 L337.4 67.0 L337.9 68.5 L338.4 66.0 L338.9 63.2 L339.4 67.8 L339.9 67.4 L340.4 61.5 L340.9 57.1 L341.4 55.3 L341.9 56.7 L342.4 54.2 L342.9 48.4 L343.4 42.7 L343.9 39.3 L344.4 44.5 L344.9 47.3 L345.4 46.9 L345.9 48.1 L346.4 50.1 L346.9 54.7 L347.4 59.0 L347.9 57.4 L348.4 63.1 L348.9 63.3 L349.4 67.9 L349.9 61.8 L350.4 56.2 L350.9 60.1 L351.4 56.7 L351.9 59.6 L352.4 54.8 L352.9 59.7 L353.4 59.0 L353.9 59.3 L354.4 58.7 L354.9 54.4 L355.4 58.1 L355.9 55.1 L356.4 53.3 L356.9 51.2 L357.4 51.7 L357.9 48.2 L358.4 47.7 L358.9 48.7 L359.4 52.4 L359.9 53.9 L360.4 57.3 L360.9 55.9 L361.4 59.5 L361.9 55.8 L362.4 55.3 L362.9 60.1 L363.4 62.1 L363.9 66.3 L364.4 71.4 L364.9 65.2 L365.4 66.4 L365.9 62.3 L366.4 61.7 L366.9 56.2 L367.4 52.9 L367.9 53.5 L368.4 62.8 L368.9 63.0 L369.4 59.7 L369.9 66.8 L370.4 66.7 L370.9 73.9 L371.4 69.2 L371.9 68.8 L372.4 66.8 L372.9 64.4 L373.4 64.8 L373.9 61.7 L374.4 55.6 L374.9 56.1 L375.4 59.3 L375.9 59.1 L376.4 61.2 L376.9 60.5 L377.4 54.3 L377.9 55.4 L378.4 57.7 L378.9 53.8 L379.4 60.2 L379.9 56.3 L380.4 53.0 L380.9 50.3 L381.4 50.4 L381.9 51.7 L382.4 50.1 L382.9 46.2 L383.4 48.8 L383.9 49.3 L384.4 54.4 L384.9 57.2 L385.4 58.3 L385.9 54.5 L386.4 56.1 L386.9 59.6 L387.4 56.9 L387.9 56.4 L388.4 58.3 L388.9 54.5 L389.4 57.2 L389.9 60.1 L390.4 60.4 L390.9 59.0 L391.4 55.2 L391.9 56.9 L392.4 55.5 L392.9 60.1 L393.4 54.4 L393.9 56.3 L394.4 57.7 L394.9 54.5 L395.4 58.3 L395.9 61.4 L396.4 66.0 L396.9 58.6 L397.4 62.3 L397.9 59.8 L398.4 57.9 L398.9 58.6 L399.4 59.2 L399.9 59.9 L400.4 54.2 L400.9 61.7 L401.4 62.3 L401.9 64.8" stroke="#2424e0" stroke-width="1.3" fill="none"/>
<path d="M292.2 67.1a1.15 1.15 0 1 0 2.3 0a1.15 1.15 0 1 0 -2.3 0M292.8 67.6a1.15 1.15 0 1 0 2.3 0a1.15 1.15 0 1 0 -2.3 0M293.2 62.4a1.15 1.15 0 1 0 2.3 0a1.15 1.15 0 1 0 -2.3 0M293.8 63.3a1.15 1.15 0 1 0 2.3 0a1.15 1.15 0 1 0 -2.3 0M294.2 50.9a1.15 1.15 0 1 0 2.3 0a1.15 1.15 0 1 0 -2.3 0M294.8 55.8a1.15 1.15 0 1 0 2.3 0a1.15 1.15 0 1 0 -2.3 0M295.2 56.6a1.15 1.15 0 1 0 2.3 0a1.15 1.15 0 1 0 -2.3 0M295.8 52.2a1.15 1.15 0 1 0 2.3 0a1.15 1.15 0 1 0 -2.3 0M296.2 56.2a1.15 1.15 0 1 0 2.3 0a1.15 1.15 0 1 0 -2.3 0M296.8 50.6a1.15 1.15 0 1 0 2.3 0a1.15 1.15 0 1 0 -2.3 0M297.2 54.5a1.15 1.15 0 1 0 2.3 0a1.15 1.15 0 1 0 -2.3 0M297.8 43.3a1.15 1.15 0 1 0 2.3 0a1.15 1.15 0 1 0 -2.3 0M298.2 51.4a1.15 1.15 0 1 0 2.3 0a1.15 1.15 0 1 0 -2.3 0M298.8 50.0a1.15 1.15 0 1 0 2.3 0a1.15 1.15 0 1 0 -2.3 0M299.2 51.8a1.15 1.15 0 1 0 2.3 0a1.15 1.15 0 1 0 -2.3 0M299.8 45.4a1.15 1.15 0 1 0 2.3 0a1.15 1.15 0 1 0 -2.3 0M300.2 38.9a1.15 1.15 0 1 0 2.3 0a1.15 1.15 0 1 0 -2.3 0M300.8 46.6a1.15 1.15 0 1 0 2.3 0a1.15 1.15 0 1 0 -2.3 0M301.2 53.4a1.15 1.15 0 1 0 2.3 0a1.15 1.15 0 1 0 -2.3 0M301.8 55.5a1.15 1.15 0 1 0 2.3 0a1.15 1.15 0 1 0 -2.3 0M302.2 55.2a1.15 1.15 0 1 0 2.3 0a1.15 1.15 0 1 0 -2.3 0M302.8 57.7a1.15 1.15 0 1 0 2.3 0a1.15 1.15 0 1 0 -2.3 0M303.2 55.9a1.15 1.15 0 1 0 2.3 0a1.15 1.15 0 1 0 -2.3 0M303.8 58.2a1.15 1.15 0 1 0 2.3 0a1.15 1.15 0 1 0 -2.3 0M304.2 61.1a1.15 1.15 0 1 0 2.3 0a1.15 1.15 0 1 0 -2.3 0M304.8 59.7a1.15 1.15 0 1 0 2.3 0a1.15 1.15 0 1 0 -2.3 0M305.2 65.5a1.15 1.15 0 1 0 2.3 0a1.15 1.15 0 1 0 -2.3 0M305.8 69.5a1.15 1.15 0 1 0 2.3 0a1.15 1.15 0 1 0 -2.3 0M306.2 70.9a1.15 1.15 0 1 0 2.3 0a1.15 1.15 0 1 0 -2.3 0M306.8 66.2a1.15 1.15 0 1 0 2.3 0a1.15 1.15 0 1 0 -2.3 0M307.2 73.6a1.15 1.15 0 1 0 2.3 0a1.15 1.15 0 1 0 -2.3 0M307.8 76.0a1.15 1.15 0 1 0 2.3 0a1.15 1.15 0 1 0 -2.3 0M308.2 73.8a1.15 1.15 0 1 0 2.3 0a1.15 1.15 0 1 0 -2.3 0M308.8 71.5a1.15 1.15 0 1 0 2.3 0a1.15 1.15 0 1 0 -2.3 0M309.2 71.2a1.15 1.15 0 1 0 2.3 0a1.15 1.15 0 1 0 -2.3 0M309.8 62.7a1.15 1.15 0 1 0 2.3 0a1.15 1.15 0 1 0 -2.3 0M310.2 67.2a1.15 1.15 0 1 0 2.3 0a1.15 1.15 0 1 0 -2.3 0M310.8 62.1a1.15 1.15 0 1 0 2.3 0a1.15 1.15 0 1 0 -2.3 0M311.2 61.7a1.15 1.15 0 1 0 2.3 0a1.15 1.15 0 1 0 -2.3 0M311.8 58.4a1.15 1.15 0 1 0 2.3 0a1.15 1.15 0 1 0 -2.3 0M312.2 56.0a1.15 1.15 0 1 0 2.3 0a1.15 1.15 0 1 0 -2.3 0M312.8 56.6a1.15 1.15 0 1 0 2.3 0a1.15 1.15 0 1 0 -2.3 0M313.2 58.9a1.15 1.15 0 1 0 2.3 0a1.15 1.15 0 1 0 -2.3 0M313.8 50.0a1.15 1.15 0 1 0 2.3 0a1.15 1.15 0 1 0 -2.3 0M314.2 58.8a1.15 1.15 0 1 0 2.3 0a1.15 1.15 0 1 0 -2.3 0M314.8 61.4a1.15 1.15 0 1 0 2.3 0a1.15 1.15 0 1 0 -2.3 0M315.2 54.1a1.15 1.15 0 1 0 2.3 0a1.15 1.15 0 1 0 -2.3 0M315.8 54.1a1.15 1.15 0 1 0 2.3 0a1.15 1.15 0 1 0 -2.3 0M316.2 62.6a1.15 1.15 0 1 0 2.3 0a1.15 1.15 0 1 0 -2.3 0M316.8 59.4a1.15 1.15 0 1 0 2.3 0a1.15 1.15 0 1 0 -2.3 0M317.2 61.7a1.15 1.15 0 1 0 2.3 0a1.15 1.15 0 1 0 -2.3 0M317.8 55.0a1.15 1.15 0 1 0 2.3 0a1.15 1.15 0 1 0 -2.3 0M318.2 51.0a1.15 1.15 0 1 0 2.3 0a1.15 1.15 0 1 0 -2.3 0M318.8 52.4a1.15 1.15 0 1 0 2.3 0a1.15 1.15 0 1 0 -2.3 0M319.2 54.8a1.15 1.15 0 1 0 2.3 0a1.15 1.15 0 1 0 -2.3 0M319.8 53.3a1.15 1.15 0 1 0 2.3 0a1.15 1.15 0 1 0 -2.3 0M320.2 47.5a1.15 1.15 0 1 0 2.3 0a1.15 1.15 0 1 0 -2.3 0M320.8 47.2a1.15 1.15 0 1 0 2.3 0a1.15 1.15 0 1 0 -2.3 0M321.2 33.9a1.15 1.15 0 1 0 2.3 0a1.15 1.15 0 1 0 -2.3 0M321.8 35.1a1.15 1.15 0 1 0 2.3 0a1.15 1.15 0 1 0 -2.3 0M322.2 39.0a1.15 1.15 0 1 0 2.3 0a1.15 1.15 0 1 0 -2.3 0M322.8 37.3a1.15 1.15 0 1 0 2.3 0a1.15 1.15 0 1 0 -2.3 0M323.2 35.1a1.15 1.15 0 1 0 2.3 0a1.15 1.15 0 1 0 -2.3 0M323.8 30.3a1.15 1.15 0 1 0 2.3 0a1.15 1.15 0 1 0 -2.3 0M324.2 41.3a1.15 1.15 0 1 0 2.3 0a1.15 1.15 0 1 0 -2.3 0M324.8 53.7a1.15 1.15 0 1 0 2.3 0a1.15 1.15 0 1 0 -2.3 0M325.2 47.0a1.15 1.15 0 1 0 2.3 0a1.15 1.15 0 1 0 -2.3 0M325.8 49.6a1.15 1.15 0 1 0 2.3 0a1.15 1.15 0 1 0 -2.3 0M326.2 54.9a1.15 1.15 0 1 0 2.3 0a1.15 1.15 0 1 0 -2.3 0M326.8 57.8a1.15 1.15 0 1 0 2.3 0a1.15 1.15 0 1 0 -2.3 0M327.2 57.3a1.15 1.15 0 1 0 2.3 0a1.15 1.15 0 1 0 -2.3 0M327.8 61.7a1.15 1.15 0 1 0 2.3 0a1.15 1.15 0 1 0 -2.3 0M328.2 62.4a1.15 1.15 0 1 0 2.3 0a1.15 1.15 0 1 0 -2.3 0M328.8 61.5a1.15 1.15 0 1 0 2.3 0a1.15 1.15 0 1 0 -2.3 0M329.2 61.1a1.15 1.15 0 1 0 2.3 0a1.15 1.15 0 1 0 -2.3 0M329.8 55.5a1.15 1.15 0 1 0 2.3 0a1.15 1.15 0 1 0 -2.3 0M330.2 62.6a1.15 1.15 0 1 0 2.3 0a1.15 1.15 0 1 0 -2.3 0M330.8 65.3a1.15 1.15 0 1 0 2.3 0a1.15 1.15 0 1 0 -2.3 0M331.2 53.8a1.15 1.15 0 1 0 2.3 0a1.15 1.15 0 1 0 -2.3 0M331.8 61.3a1.15 1.15 0 1 0 2.3 0a1.15 1.15 0 1 0 -2.3 0M332.2 59.4a1.15 1.15 0 1 0 2.3 0a1.15 1.15 0 1 0 -2.3 0M332.8 66.6a1.15 1.15 0 1 0 2.3 0a1.15 1.15 0 1 0 -2.3 0M333.2 62.8a1.15 1.15 0 1 0 2.3 0a1.15 1.15 0 1 0 -2.3 0M333.8 54.9a1.15 1.15 0 1 0 2.3 0a1.15 1.15 0 1 0 -2.3 0M334.2 53.7a1.15 1.15 0 1 0 2.3 0a1.15 1.15 0 1 0 -2.3 0M334.8 54.1a1.15 1.15 0 1 0 2.3 0a1.15 1.15 0 1 0 -2.3 0M335.2 60.1a1.15 1.15 0 1 0 2.3 0a1.15 1.15 0 1 0 -2.3 0M335.8 67.4a1.15 1.15 0 1 0 2.3 0a1.15 1.15 0 1 0 -2.3 0M336.2 64.5a1.15 1.15 0 1 0 2.3 0a1.15 1.15 0 1 0 -2.3 0M336.8 67.7a1.15 1.15 0 1 0 2.3 0a1.15 1.15 0 1 0 -2.3 0M337.2 68.8a1.15 1.15 0 1 0 2.3 0a1.15 1.15 0 1 0 -2.3 0M337.8 62.6a1.15 1.15 0 1 0 2.3 0a1.15 1.15 0 1 0 -2.3 0M338.2 71.0a1.15 1.15 0 1 0 2.3 0a1.15 1.15 0 1 0 -2.3 0M338.8 67.3a1.15 1.15 0 1 0 2.3 0a1.15 1.15 0 1 0 -2.3 0M339.2 61.8a1.15 1.15 0 1 0 2.3 0a1.15 1.15 0 1 0 -2.3 0M339.8 56.3a1.15 1.15 0 1 0 2.3 0a1.15 1.15 0 1 0 -2.3 0M340.2 52.3a1.15 1.15 0 1 0 2.3 0a1.15 1.15 0 1 0 -2.3 0M340.8 54.6a1.15 1.15 0 1 0 2.3 0a1.15 1.15 0 1 0 -2.3 0M341.2 59.1a1.15 1.15 0 1 0 2.3 0a1.15 1.15 0 1 0 -2.3 0M341.8 49.8a1.15 1.15 0 1 0 2.3 0a1.15 1.15 0 1 0 -2.3 0M342.2 44.0a1.15 1.15 0 1 0 2.3 0a1.15 1.15 0 1 0 -2.3 0M342.8 41.4a1.15 1.15 0 1 0 2.3 0a1.15 1.15 0 1 0 -2.3 0M343.2 45.8a1.15 1.15 0 1 0 2.3 0a1.15 1.15 0 1 0 -2.3 0M343.8 49.5a1.15 1.15 0 1 0 2.3 0a1.15 1.15 0 1 0 -2.3 0M344.2 46.3a1.15 1.15 0 1 0 2.3 0a1.15 1.15 0 1 0 -2.3 0M344.8 47.6a1.15 1.15 0 1 0 2.3 0a1.15 1.15 0 1 0 -2.3 0M345.2 52.3a1.15 1.15 0 1 0 2.3 0a1.15 1.15 0 1 0 -2.3 0M345.8 53.9a1.15 1.15 0 1 0 2.3 0a1.15 1.15 0 1 0 -2.3 0M346.2 56.1a1.15 1.15 0 1 0 2.3 0a1.15 1.15 0 1 0 -2.3 0M346.8 56.9a1.15 1.15 0 1 0 2.3 0a1.15 1.15 0 1 0 -2.3 0M347.2 61.9a1.15 1.15 0 1 0 2.3 0a1.15 1.15 0 1 0 -2.3 0M347.8 64.7a1.15 1.15 0 1 0 2.3 0a1.15 1.15 0 1 0 -2.3 0M348.2 66.3a1.15 1.15 0 1 0 2.3 0a1.15 1.15 0 1 0 -2.3 0M348.8 59.5a1.15 1.15 0 1 0 2.3 0a1.15 1.15 0 1 0 -2.3 0M349.2 55.5a1.15 1.15 0 1 0 2.3 0a1.15 1.15 0 1 0 -2.3 0M349.8 63.5a1.15 1.15 0 1 0 2.3 0a1.15 1.15 0 1 0 -2.3 0M350.2 56.6a1.15 1.15 0 1 0 2.3 0a1.15 1.15 0 1 0 -2.3 0M350.8 59.9a1.15 1.15 0 1 0 2.3 0a1.15 1.15 0 1 0 -2.3 0M351.2 54.8a1.15 1.15 0 1 0 2.3 0a1.15 1.15 0 1 0 -2.3 0M351.8 60.4a1.15 1.15 0 1 0 2.3 0a1.15 1.15 0 1 0 -2.3 0M352.2 61.0a1.15 1.15 0 1 0 2.3 0a1.15 1.15 0 1 0 -2.3 0M352.8 62.4a1.15 1.15 0 1 0 2.3 0a1.15 1.15 0 1 0 -2.3 0M353.2 55.1a1.15 1.15 0 1 0 2.3 0a1.15 1.15 0 1 0 -2.3 0M353.8 57.4a1.15 1.15 0 1 0 2.3 0a1.15 1.15 0 1 0 -2.3 0M354.2 58.1a1.15 1.15 0 1 0 2.3 0a1.15 1.15 0 1 0 -2.3 0M354.8 54.4a1.15 1.15 0 1 0 2.3 0a1.15 1.15 0 1 0 -2.3 0M355.2 58.5a1.15 1.15 0 1 0 2.3 0a1.15 1.15 0 1 0 -2.3 0M355.8 50.8a1.15 1.15 0 1 0 2.3 0a1.15 1.15 0 1 0 -2.3 0M356.2 56.0a1.15 1.15 0 1 0 2.3 0a1.15 1.15 0 1 0 -2.3 0M356.8 50.4a1.15 1.15 0 1 0 2.3 0a1.15 1.15 0 1 0 -2.3 0M357.2 45.4a1.15 1.15 0 1 0 2.3 0a1.15 1.15 0 1 0 -2.3 0M357.8 49.8a1.15 1.15 0 1 0 2.3 0a1.15 1.15 0 1 0 -2.3 0M358.2 54.0a1.15 1.15 0 1 0 2.3 0a1.15 1.15 0 1 0 -2.3 0M358.8 53.7a1.15 1.15 0 1 0 2.3 0a1.15 1.15 0 1 0 -2.3 0M359.2 52.2a1.15 1.15 0 1 0 2.3 0a1.15 1.15 0 1 0 -2.3 0M359.8 55.1a1.15 1.15 0 1 0 2.3 0a1.15 1.15 0 1 0 -2.3 0M360.2 59.1a1.15 1.15 0 1 0 2.3 0a1.15 1.15 0 1 0 -2.3 0M360.8 53.4a1.15 1.15 0 1 0 2.3 0a1.15 1.15 0 1 0 -2.3 0M361.2 59.3a1.15 1.15 0 1 0 2.3 0a1.15 1.15 0 1 0 -2.3 0M361.8 59.6a1.15 1.15 0 1 0 2.3 0a1.15 1.15 0 1 0 -2.3 0M362.2 61.3a1.15 1.15 0 1 0 2.3 0a1.15 1.15 0 1 0 -2.3 0M362.8 65.6a1.15 1.15 0 1 0 2.3 0a1.15 1.15 0 1 0 -2.3 0M363.2 69.7a1.15 1.15 0 1 0 2.3 0a1.15 1.15 0 1 0 -2.3 0M363.8 63.5a1.15 1.15 0 1 0 2.3 0a1.15 1.15 0 1 0 -2.3 0M364.2 66.6a1.15 1.15 0 1 0 2.3 0a1.15 1.15 0 1 0 -2.3 0M364.8 63.0a1.15 1.15 0 1 0 2.3 0a1.15 1.15 0 1 0 -2.3 0M365.2 60.6a1.15 1.15 0 1 0 2.3 0a1.15 1.15 0 1 0 -2.3 0M365.8 56.0a1.15 1.15 0 1 0 2.3 0a1.15 1.15 0 1 0 -2.3 0M366.2 49.9a1.15 1.15 0 1 0 2.3 0a1.15 1.15 0 1 0 -2.3 0M366.8 54.7a1.15 1.15 0 1 0 2.3 0a1.15 1.15 0 1 0 -2.3 0M367.2 61.1a1.15 1.15 0 1 0 2.3 0a1.15 1.15 0 1 0 -2.3 0M367.8 63.5a1.15 1.15 0 1 0 2.3 0a1.15 1.15 0 1 0 -2.3 0M368.2 57.7a1.15 1.15 0 1 0 2.3 0a1.15 1.15 0 1 0 -2.3 0M368.8 65.7a1.15 1.15 0 1 0 2.3 0a1.15 1.15 0 1 0 -2.3 0M369.2 67.2a1.15 1.15 0 1 0 2.3 0a1.15 1.15 0 1 0 -2.3 0M369.8 71.2a1.15 1.15 0 1 0 2.3 0a1.15 1.15 0 1 0 -2.3 0M370.2 74.7a1.15 1.15 0 1 0 2.3 0a1.15 1.15 0 1 0 -2.3 0M370.8 68.8a1.15 1.15 0 1 0 2.3 0a1.15 1.15 0 1 0 -2.3 0M371.2 66.6a1.15 1.15 0 1 0 2.3 0a1.15 1.15 0 1 0 -2.3 0M371.8 62.8a1.15 1.15 0 1 0 2.3 0a1.15 1.15 0 1 0 -2.3 0M372.2 68.3a1.15 1.15 0 1 0 2.3 0a1.15 1.15 0 1 0 -2.3 0M372.8 64.8a1.15 1.15 0 1 0 2.3 0a1.15 1.15 0 1 0 -2.3 0M373.2 56.3a1.15 1.15 0 1 0 2.3 0a1.15 1.15 0 1 0 -2.3 0M373.8 53.0a1.15 1.15 0 1 0 2.3 0a1.15 1.15 0 1 0 -2.3 0M374.2 58.2a1.15 1.15 0 1 0 2.3 0a1.15 1.15 0 1 0 -2.3 0M374.8 60.5a1.15 1.15 0 1 0 2.3 0a1.15 1.15 0 1 0 -2.3 0M375.2 60.0a1.15 1.15 0 1 0 2.3 0a1.15 1.15 0 1 0 -2.3 0M375.8 57.9a1.15 1.15 0 1 0 2.3 0a1.15 1.15 0 1 0 -2.3 0M376.2 51.7a1.15 1.15 0 1 0 2.3 0a1.15 1.15 0 1 0 -2.3 0M376.8 53.7a1.15 1.15 0 1 0 2.3 0a1.15 1.15 0 1 0 -2.3 0M377.2 57.8a1.15 1.15 0 1 0 2.3 0a1.15 1.15 0 1 0 -2.3 0M377.8 52.4a1.15 1.15 0 1 0 2.3 0a1.15 1.15 0 1 0 -2.3 0M378.2 60.3a1.15 1.15 0 1 0 2.3 0a1.15 1.15 0 1 0 -2.3 0M378.8 62.4a1.15 1.15 0 1 0 2.3 0a1.15 1.15 0 1 0 -2.3 0M379.2 56.9a1.15 1.15 0 1 0 2.3 0a1.15 1.15 0 1 0 -2.3 0M379.8 48.1a1.15 1.15 0 1 0 2.3 0a1.15 1.15 0 1 0 -2.3 0M380.2 51.1a1.15 1.15 0 1 0 2.3 0a1.15 1.15 0 1 0 -2.3 0M380.8 51.9a1.15 1.15 0 1 0 2.3 0a1.15 1.15 0 1 0 -2.3 0M381.2 49.8a1.15 1.15 0 1 0 2.3 0a1.15 1.15 0 1 0 -2.3 0M381.8 48.5a1.15 1.15 0 1 0 2.3 0a1.15 1.15 0 1 0 -2.3 0M382.2 48.1a1.15 1.15 0 1 0 2.3 0a1.15 1.15 0 1 0 -2.3 0M382.8 48.5a1.15 1.15 0 1 0 2.3 0a1.15 1.15 0 1 0 -2.3 0M383.2 53.6a1.15 1.15 0 1 0 2.3 0a1.15 1.15 0 1 0 -2.3 0M383.8 57.0a1.15 1.15 0 1 0 2.3 0a1.15 1.15 0 1 0 -2.3 0M384.2 61.1a1.15 1.15 0 1 0 2.3 0a1.15 1.15 0 1 0 -2.3 0M384.8 56.2a1.15 1.15 0 1 0 2.3 0a1.15 1.15 0 1 0 -2.3 0M385.2 53.1a1.15 1.15 0 1 0 2.3 0a1.15 1.15 0 1 0 -2.3 0M385.8 58.6a1.15 1.15 0 1 0 2.3 0a1.15 1.15 0 1 0 -2.3 0M386.2 55.1a1.15 1.15 0 1 0 2.3 0a1.15 1.15 0 1 0 -2.3 0M386.8 58.2a1.15 1.15 0 1 0 2.3 0a1.15 1.15 0 1 0 -2.3 0M387.2 58.8a1.15 1.15 0 1 0 2.3 0a1.15 1.15 0 1 0 -2.3 0M387.8 56.4a1.15 1.15 0 1 0 2.3 0a1.15 1.15 0 1 0 -2.3 0M388.2 57.1a1.15 1.15 0 1 0 2.3 0a1.15 1.15 0 1 0 -2.3 0M388.8 55.9a1.15 1.15 0 1 0 2.3 0a1.15 1.15 0 1 0 -2.3 0M389.2 61.4a1.15 1.15 0 1 0 2.3 0a1.15 1.15 0 1 0 -2.3 0M389.8 59.5a1.15 1.15 0 1 0 2.3 0a1.15 1.15 0 1 0 -2.3 0M390.2 56.4a1.15 1.15 0 1 0 2.3 0a1.15 1.15 0 1 0 -2.3 0M390.8 54.0a1.15 1.15 0 1 0 2.3 0a1.15 1.15 0 1 0 -2.3 0M391.2 55.6a1.15 1.15 0 1 0 2.3 0a1.15 1.15 0 1 0 -2.3 0M391.8 58.6a1.15 1.15 0 1 0 2.3 0a1.15 1.15 0 1 0 -2.3 0M392.2 52.9a1.15 1.15 0 1 0 2.3 0a1.15 1.15 0 1 0 -2.3 0M392.8 57.0a1.15 1.15 0 1 0 2.3 0a1.15 1.15 0 1 0 -2.3 0M393.2 58.5a1.15 1.15 0 1 0 2.3 0a1.15 1.15 0 1 0 -2.3 0M393.8 52.5a1.15 1.15 0 1 0 2.3 0a1.15 1.15 0 1 0 -2.3 0M394.2 54.5a1.15 1.15 0 1 0 2.3 0a1.15 1.15 0 1 0 -2.3 0M394.8 55.9a1.15 1.15 0 1 0 2.3 0a1.15 1.15 0 1 0 -2.3 0M395.2 64.8a1.15 1.15 0 1 0 2.3 0a1.15 1.15 0 1 0 -2.3 0M395.8 61.1a1.15 1.15 0 1 0 2.3 0a1.15 1.15 0 1 0 -2.3 0M396.2 62.1a1.15 1.15 0 1 0 2.3 0a1.15 1.15 0 1 0 -2.3 0M396.8 54.8a1.15 1.15 0 1 0 2.3 0a1.15 1.15 0 1 0 -2.3 0M397.2 56.0a1.15 1.15 0 1 0 2.3 0a1.15 1.15 0 1 0 -2.3 0M397.8 59.5a1.15 1.15 0 1 0 2.3 0a1.15 1.15 0 1 0 -2.3 0M398.2 62.8a1.15 1.15 0 1 0 2.3 0a1.15 1.15 0 1 0 -2.3 0M398.8 62.4a1.15 1.15 0 1 0 2.3 0a1.15 1.15 0 1 0 -2.3 0M399.2 55.0a1.15 1.15 0 1 0 2.3 0a1.15 1.15 0 1 0 -2.3 0M399.8 62.1a1.15 1.15 0 1 0 2.3 0a1.15 1.15 0 1 0 -2.3 0M400.2 59.9a1.15 1.15 0 1 0 2.3 0a1.15 1.15 0 1 0 -2.3 0M400.8 63.8a1.15 1.15 0 1 0 2.3 0a1.15 1.15 0 1 0 -2.3 0" fill="#d22a1e" stroke="#6a1a10" stroke-width="0.3"/>
<path d="M293.4 66.8 L293.9 66.9 L294.4 61.9 L294.9 62.9 L295.4 53.4 L295.9 56.7 L296.4 57.7 L296.9 52.7 L297.4 55.6 L297.9 49.2 L298.4 50.9 L298.9 49.0 L299.4 50.5 L299.9 50.5 L300.4 46.8 L300.9 43.4 L301.4 42.5 L301.9 45.7 L302.4 54.6 L302.9 53.3 L303.4 57.5 L303.9 57.9 L304.4 56.2 L304.9 58.4 L305.4 62.4 L305.9 63.8 L306.4 64.4 L306.9 67.3 L307.4 71.1 L307.9 68.5 L308.4 73.1 L308.9 74.8 L309.4 74.2 L309.9 71.5 L310.4 68.1 L310.9 65.2 L311.4 68.4 L311.9 66.3 L312.4 63.3 L312.9 60.0 L313.4 58.1 L313.9 58.2 L314.4 55.0 L314.9 50.4 L315.4 59.1 L315.9 56.6 L316.4 54.2 L316.9 57.9 L317.4 61.7 L317.9 61.5 L318.4 58.1 L318.9 57.7 L319.4 52.3 L319.9 55.9 L320.4 54.6 L320.9 55.5 L321.4 47.7 L321.9 48.1 L322.4 35.3 L322.9 33.0 L323.4 36.9 L323.9 37.1 L324.4 37.1 L324.9 32.7 L325.4 40.7 L325.9 48.4 L326.4 48.0 L326.9 51.4 L327.4 56.4 L327.9 60.2 L328.4 59.4 L328.9 62.1 L329.4 59.2 L329.9 61.5 L330.4 62.2 L330.9 59.0 L331.4 62.1 L331.9 65.4 L332.4 56.5 L332.9 63.7 L333.4 59.5 L333.9 64.4 L334.4 61.4 L334.9 54.4 L335.4 54.5 L335.9 53.4 L336.4 60.1 L336.9 62.6 L337.4 67.0 L337.9 68.5 L338.4 66.0 L338.9 63.2 L339.4 67.8 L339.9 67.4 L340.4 61.5 L340.9 57.1 L341.4 55.3 L341.9 56.7 L342.4 54.2 L342.9 48.4 L343.4 42.7 L343.9 39.3 L344.4 44.5 L344.9 47.3 L345.4 46.9 L345.9 48.1 L346.4 50.1 L346.9 54.7 L347.4 59.0 L347.9 57.4 L348.4 63.1 L348.9 63.3 L349.4 67.9 L349.9 61.8 L350.4 56.2 L350.9 60.1 L351.4 56.7 L351.9 59.6 L352.4 54.8 L352.9 59.7 L353.4 59.0 L353.9 59.3 L354.4 58.7 L354.9 54.4 L355.4 58.1 L355.9 55.1 L356.4 53.3 L356.9 51.2 L357.4 51.7 L357.9 48.2 L358.4 47.7 L358.9 48.7 L359.4 52.4 L359.9 53.9 L360.4 57.3 L360.9 55.9 L361.4 59.5 L361.9 55.8 L362.4 55.3 L362.9 60.1 L363.4 62.1 L363.9 66.3 L364.4 71.4 L364.9 65.2 L365.4 66.4 L365.9 62.3 L366.4 61.7 L366.9 56.2 L367.4 52.9 L367.9 53.5 L368.4 62.8 L368.9 63.0 L369.4 59.7 L369.9 66.8 L370.4 66.7 L370.9 73.9 L371.4 69.2 L371.9 68.8 L372.4 66.8 L372.9 64.4 L373.4 64.8 L373.9 61.7 L374.4 55.6 L374.9 56.1 L375.4 59.3 L375.9 59.1 L376.4 61.2 L376.9 60.5 L377.4 54.3 L377.9 55.4 L378.4 57.7 L378.9 53.8 L379.4 60.2 L379.9 56.3 L380.4 53.0 L380.9 50.3 L381.4 50.4 L381.9 51.7 L382.4 50.1 L382.9 46.2 L383.4 48.8 L383.9 49.3 L384.4 54.4 L384.9 57.2 L385.4 58.3 L385.9 54.5 L386.4 56.1 L386.9 59.6 L387.4 56.9 L387.9 56.4 L388.4 58.3 L388.9 54.5 L389.4 57.2 L389.9 60.1 L390.4 60.4 L390.9 59.0 L391.4 55.2 L391.9 56.9 L392.4 55.5 L392.9 60.1 L393.4 54.4 L393.9 56.3 L394.4 57.7 L394.9 54.5 L395.4 58.3 L395.9 61.4 L396.4 66.0 L396.9 58.6 L397.4 62.3 L397.9 59.8 L398.4 57.9 L398.9 58.6 L399.4 59.2 L399.9 59.9 L400.4 54.2 L400.9 61.7 L401.4 62.3 L401.9 64.8" stroke="#2424e0" stroke-width="1.1" fill="none" opacity="0.6"/>
</g>
<defs><radialGradient id="glow" cx="0.5" cy="0.5" r="0.5"><stop offset="0" stop-color="#b5ddf3"/><stop offset="0.7" stop-color="#c8e6f7"/><stop offset="1" stop-color="#e4f3fb" stop-opacity="0.3"/></radialGradient></defs>
<ellipse cx="451.3" cy="21.1" rx="7.0" ry="8.4" fill="url(#glow)"/>
<path d="M445.6 15.8 L449.2 15.8 L451.5 21.4 L448.0 21.4Z" fill="#1c3f6e"/>
<path d="M448.0 21.4 L451.5 21.4 L449.0 26.5 L445.6 26.5Z" fill="#4593c2"/>
<path d="M457.1 16.8 L454.2 16.8 L452.3 21.6 L455.4 21.6Z" fill="#4a9ac6"/>
<path d="M455.4 21.6 L452.3 21.6 L454.1 26.5 L457.3 26.5Z" fill="#1c3f6e"/>
<text x="460.6" y="26.9" font-size="14.6" textLength="21.6" lengthAdjust="spacingAndGlyphs" class="r" fill="#1d3862">IFU</text>
<text transform="translate(492.5,251.2) rotate(-90)" font-size="6.4" textLength="35" lengthAdjust="spacingAndGlyphs" class="b" fill="#666">©DB/X-IFU</text>
</svg></body></html>
